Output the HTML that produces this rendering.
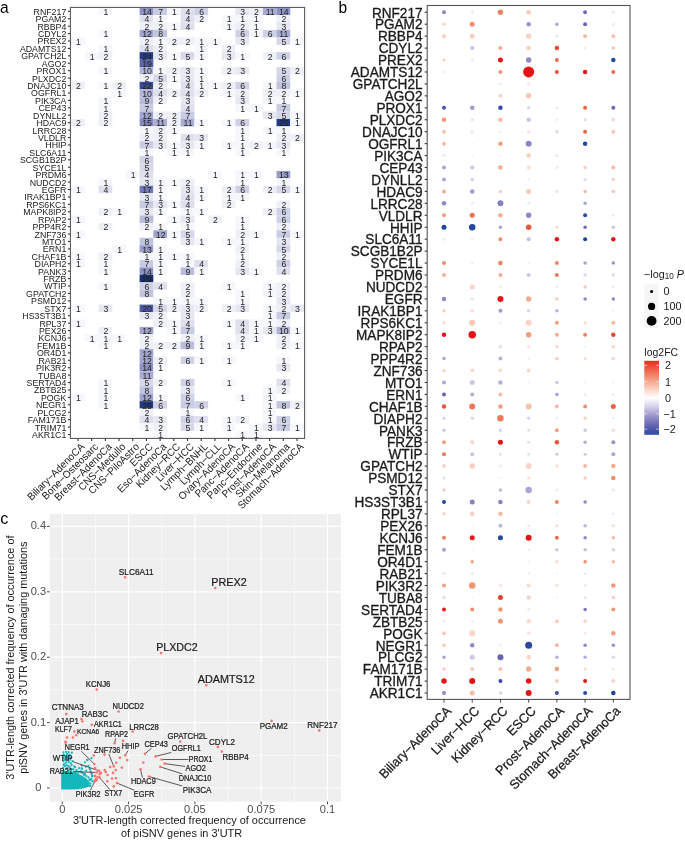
<!DOCTYPE html>
<html><head><meta charset="utf-8"><style>
html,body{margin:0;padding:0;background:#fff;width:685px;height:841px;overflow:hidden}
svg{display:block;will-change:transform}
text{font-family:"Liberation Sans", sans-serif}
</style></head><body>
<svg width="685" height="841" viewBox="0 0 685 841" font-family='"Liberation Sans", sans-serif'>
<rect width="685" height="841" fill="#ffffff"/>
<g>
<rect x="98.53" y="7.59" width="13.74" height="7.47" fill="#f5f7fb"/>
<rect x="139.60" y="7.59" width="13.74" height="7.47" fill="#8e92c3"/>
<rect x="153.29" y="7.59" width="13.74" height="7.47" fill="#c8cbe2"/>
<rect x="166.98" y="7.59" width="13.74" height="7.47" fill="#f5f7fb"/>
<rect x="180.67" y="7.59" width="13.74" height="7.47" fill="#dee0ed"/>
<rect x="194.36" y="7.59" width="13.74" height="7.47" fill="#cfd1e6"/>
<rect x="235.44" y="7.59" width="13.74" height="7.47" fill="#e5e7f1"/>
<rect x="249.12" y="7.59" width="13.74" height="7.47" fill="#eef0f7"/>
<rect x="262.81" y="7.59" width="13.74" height="7.47" fill="#a9acd2"/>
<rect x="276.50" y="7.59" width="13.74" height="7.47" fill="#8e92c3"/>
<rect x="139.60" y="15.01" width="13.74" height="7.47" fill="#dee0ed"/>
<rect x="153.29" y="15.01" width="13.74" height="7.47" fill="#f5f7fb"/>
<rect x="180.67" y="15.01" width="13.74" height="7.47" fill="#dee0ed"/>
<rect x="194.36" y="15.01" width="13.74" height="7.47" fill="#eef0f7"/>
<rect x="221.75" y="15.01" width="13.74" height="7.47" fill="#f5f7fb"/>
<rect x="235.44" y="15.01" width="13.74" height="7.47" fill="#f5f7fb"/>
<rect x="249.12" y="15.01" width="13.74" height="7.47" fill="#f5f7fb"/>
<rect x="276.50" y="15.01" width="13.74" height="7.47" fill="#eef0f7"/>
<rect x="139.60" y="22.44" width="13.74" height="7.47" fill="#eef0f7"/>
<rect x="153.29" y="22.44" width="13.74" height="7.47" fill="#eef0f7"/>
<rect x="166.98" y="22.44" width="13.74" height="7.47" fill="#f5f7fb"/>
<rect x="180.67" y="22.44" width="13.74" height="7.47" fill="#dee0ed"/>
<rect x="221.75" y="22.44" width="13.74" height="7.47" fill="#f5f7fb"/>
<rect x="235.44" y="22.44" width="13.74" height="7.47" fill="#eef0f7"/>
<rect x="249.12" y="22.44" width="13.74" height="7.47" fill="#f5f7fb"/>
<rect x="276.50" y="22.44" width="13.74" height="7.47" fill="#e5e7f1"/>
<rect x="98.53" y="29.86" width="13.74" height="7.47" fill="#f5f7fb"/>
<rect x="139.60" y="29.86" width="13.74" height="7.47" fill="#a1a5ce"/>
<rect x="153.29" y="29.86" width="13.74" height="7.47" fill="#c1c4df"/>
<rect x="235.44" y="29.86" width="13.74" height="7.47" fill="#cfd1e6"/>
<rect x="249.12" y="29.86" width="13.74" height="7.47" fill="#f5f7fb"/>
<rect x="262.81" y="29.86" width="13.74" height="7.47" fill="#cfd1e6"/>
<rect x="276.50" y="29.86" width="13.74" height="7.47" fill="#a9acd2"/>
<rect x="71.16" y="37.29" width="13.74" height="7.47" fill="#f5f7fb"/>
<rect x="139.60" y="37.29" width="13.74" height="7.47" fill="#eef0f7"/>
<rect x="153.29" y="37.29" width="13.74" height="7.47" fill="#f5f7fb"/>
<rect x="166.98" y="37.29" width="13.74" height="7.47" fill="#eef0f7"/>
<rect x="180.67" y="37.29" width="13.74" height="7.47" fill="#eef0f7"/>
<rect x="194.36" y="37.29" width="13.74" height="7.47" fill="#f5f7fb"/>
<rect x="208.06" y="37.29" width="13.74" height="7.47" fill="#f5f7fb"/>
<rect x="235.44" y="37.29" width="13.74" height="7.47" fill="#e5e7f1"/>
<rect x="276.50" y="37.29" width="13.74" height="7.47" fill="#d6d8e9"/>
<rect x="290.19" y="37.29" width="13.74" height="7.47" fill="#f5f7fb"/>
<rect x="98.53" y="44.71" width="13.74" height="7.47" fill="#f5f7fb"/>
<rect x="139.60" y="44.71" width="13.74" height="7.47" fill="#dee0ed"/>
<rect x="153.29" y="44.71" width="13.74" height="7.47" fill="#eef0f7"/>
<rect x="194.36" y="44.71" width="13.74" height="7.47" fill="#f5f7fb"/>
<rect x="221.75" y="44.71" width="13.74" height="7.47" fill="#eef0f7"/>
<rect x="84.84" y="52.14" width="13.74" height="7.47" fill="#f5f7fb"/>
<rect x="98.53" y="52.14" width="13.74" height="7.47" fill="#eef0f7"/>
<rect x="139.60" y="52.14" width="13.74" height="7.47" fill="#283c84"/>
<rect x="153.29" y="52.14" width="13.74" height="7.47" fill="#e5e7f1"/>
<rect x="166.98" y="52.14" width="13.74" height="7.47" fill="#f5f7fb"/>
<rect x="180.67" y="52.14" width="13.74" height="7.47" fill="#d6d8e9"/>
<rect x="194.36" y="52.14" width="13.74" height="7.47" fill="#f5f7fb"/>
<rect x="221.75" y="52.14" width="13.74" height="7.47" fill="#e5e7f1"/>
<rect x="235.44" y="52.14" width="13.74" height="7.47" fill="#f5f7fb"/>
<rect x="262.81" y="52.14" width="13.74" height="7.47" fill="#eef0f7"/>
<rect x="276.50" y="52.14" width="13.74" height="7.47" fill="#cfd1e6"/>
<rect x="139.60" y="59.56" width="13.74" height="7.47" fill="#5a64a9"/>
<rect x="98.53" y="66.99" width="13.74" height="7.47" fill="#f5f7fb"/>
<rect x="139.60" y="66.99" width="13.74" height="7.47" fill="#b1b4d6"/>
<rect x="153.29" y="66.99" width="13.74" height="7.47" fill="#f5f7fb"/>
<rect x="166.98" y="66.99" width="13.74" height="7.47" fill="#eef0f7"/>
<rect x="180.67" y="66.99" width="13.74" height="7.47" fill="#e5e7f1"/>
<rect x="194.36" y="66.99" width="13.74" height="7.47" fill="#f5f7fb"/>
<rect x="221.75" y="66.99" width="13.74" height="7.47" fill="#eef0f7"/>
<rect x="235.44" y="66.99" width="13.74" height="7.47" fill="#e5e7f1"/>
<rect x="276.50" y="66.99" width="13.74" height="7.47" fill="#d6d8e9"/>
<rect x="290.19" y="66.99" width="13.74" height="7.47" fill="#eef0f7"/>
<rect x="139.60" y="74.41" width="13.74" height="7.47" fill="#eef0f7"/>
<rect x="153.29" y="74.41" width="13.74" height="7.47" fill="#d6d8e9"/>
<rect x="166.98" y="74.41" width="13.74" height="7.47" fill="#f5f7fb"/>
<rect x="180.67" y="74.41" width="13.74" height="7.47" fill="#e5e7f1"/>
<rect x="194.36" y="74.41" width="13.74" height="7.47" fill="#f5f7fb"/>
<rect x="276.50" y="74.41" width="13.74" height="7.47" fill="#cfd1e6"/>
<rect x="71.16" y="81.84" width="13.74" height="7.47" fill="#eef0f7"/>
<rect x="98.53" y="81.84" width="13.74" height="7.47" fill="#f5f7fb"/>
<rect x="112.22" y="81.84" width="13.74" height="7.47" fill="#eef0f7"/>
<rect x="139.60" y="81.84" width="13.74" height="7.47" fill="#3a4a93"/>
<rect x="153.29" y="81.84" width="13.74" height="7.47" fill="#eef0f7"/>
<rect x="180.67" y="81.84" width="13.74" height="7.47" fill="#dee0ed"/>
<rect x="194.36" y="81.84" width="13.74" height="7.47" fill="#f5f7fb"/>
<rect x="208.06" y="81.84" width="13.74" height="7.47" fill="#f5f7fb"/>
<rect x="221.75" y="81.84" width="13.74" height="7.47" fill="#eef0f7"/>
<rect x="235.44" y="81.84" width="13.74" height="7.47" fill="#cfd1e6"/>
<rect x="262.81" y="81.84" width="13.74" height="7.47" fill="#f5f7fb"/>
<rect x="276.50" y="81.84" width="13.74" height="7.47" fill="#c1c4df"/>
<rect x="112.22" y="89.26" width="13.74" height="7.47" fill="#f5f7fb"/>
<rect x="139.60" y="89.26" width="13.74" height="7.47" fill="#b1b4d6"/>
<rect x="153.29" y="89.26" width="13.74" height="7.47" fill="#dee0ed"/>
<rect x="166.98" y="89.26" width="13.74" height="7.47" fill="#eef0f7"/>
<rect x="180.67" y="89.26" width="13.74" height="7.47" fill="#dee0ed"/>
<rect x="194.36" y="89.26" width="13.74" height="7.47" fill="#eef0f7"/>
<rect x="221.75" y="89.26" width="13.74" height="7.47" fill="#f5f7fb"/>
<rect x="235.44" y="89.26" width="13.74" height="7.47" fill="#eef0f7"/>
<rect x="262.81" y="89.26" width="13.74" height="7.47" fill="#eef0f7"/>
<rect x="276.50" y="89.26" width="13.74" height="7.47" fill="#eef0f7"/>
<rect x="290.19" y="89.26" width="13.74" height="7.47" fill="#f5f7fb"/>
<rect x="98.53" y="96.69" width="13.74" height="7.47" fill="#f5f7fb"/>
<rect x="139.60" y="96.69" width="13.74" height="7.47" fill="#b9bcda"/>
<rect x="153.29" y="96.69" width="13.74" height="7.47" fill="#eef0f7"/>
<rect x="180.67" y="96.69" width="13.74" height="7.47" fill="#e5e7f1"/>
<rect x="235.44" y="96.69" width="13.74" height="7.47" fill="#e5e7f1"/>
<rect x="262.81" y="96.69" width="13.74" height="7.47" fill="#f5f7fb"/>
<rect x="276.50" y="96.69" width="13.74" height="7.47" fill="#f5f7fb"/>
<rect x="98.53" y="104.11" width="13.74" height="7.47" fill="#f5f7fb"/>
<rect x="139.60" y="104.11" width="13.74" height="7.47" fill="#c8cbe2"/>
<rect x="180.67" y="104.11" width="13.74" height="7.47" fill="#dee0ed"/>
<rect x="235.44" y="104.11" width="13.74" height="7.47" fill="#f5f7fb"/>
<rect x="249.12" y="104.11" width="13.74" height="7.47" fill="#f5f7fb"/>
<rect x="276.50" y="104.11" width="13.74" height="7.47" fill="#c8cbe2"/>
<rect x="98.53" y="111.54" width="13.74" height="7.47" fill="#eef0f7"/>
<rect x="139.60" y="111.54" width="13.74" height="7.47" fill="#a1a5ce"/>
<rect x="153.29" y="111.54" width="13.74" height="7.47" fill="#eef0f7"/>
<rect x="166.98" y="111.54" width="13.74" height="7.47" fill="#eef0f7"/>
<rect x="180.67" y="111.54" width="13.74" height="7.47" fill="#c8cbe2"/>
<rect x="262.81" y="111.54" width="13.74" height="7.47" fill="#e5e7f1"/>
<rect x="276.50" y="111.54" width="13.74" height="7.47" fill="#d6d8e9"/>
<rect x="290.19" y="111.54" width="13.74" height="7.47" fill="#f5f7fb"/>
<rect x="71.16" y="118.96" width="13.74" height="7.47" fill="#eef0f7"/>
<rect x="98.53" y="118.96" width="13.74" height="7.47" fill="#eef0f7"/>
<rect x="139.60" y="118.96" width="13.74" height="7.47" fill="#8489be"/>
<rect x="153.29" y="118.96" width="13.74" height="7.47" fill="#a9acd2"/>
<rect x="166.98" y="118.96" width="13.74" height="7.47" fill="#eef0f7"/>
<rect x="180.67" y="118.96" width="13.74" height="7.47" fill="#a9acd2"/>
<rect x="194.36" y="118.96" width="13.74" height="7.47" fill="#f5f7fb"/>
<rect x="221.75" y="118.96" width="13.74" height="7.47" fill="#f5f7fb"/>
<rect x="235.44" y="118.96" width="13.74" height="7.47" fill="#cfd1e6"/>
<rect x="276.50" y="118.96" width="13.74" height="7.47" fill="#243a80"/>
<rect x="290.19" y="118.96" width="13.74" height="7.47" fill="#f5f7fb"/>
<rect x="139.60" y="126.39" width="13.74" height="7.47" fill="#f5f7fb"/>
<rect x="153.29" y="126.39" width="13.74" height="7.47" fill="#eef0f7"/>
<rect x="166.98" y="126.39" width="13.74" height="7.47" fill="#f5f7fb"/>
<rect x="235.44" y="126.39" width="13.74" height="7.47" fill="#f5f7fb"/>
<rect x="262.81" y="126.39" width="13.74" height="7.47" fill="#f5f7fb"/>
<rect x="276.50" y="126.39" width="13.74" height="7.47" fill="#f5f7fb"/>
<rect x="139.60" y="133.81" width="13.74" height="7.47" fill="#eef0f7"/>
<rect x="153.29" y="133.81" width="13.74" height="7.47" fill="#eef0f7"/>
<rect x="180.67" y="133.81" width="13.74" height="7.47" fill="#dee0ed"/>
<rect x="194.36" y="133.81" width="13.74" height="7.47" fill="#e5e7f1"/>
<rect x="235.44" y="133.81" width="13.74" height="7.47" fill="#f5f7fb"/>
<rect x="276.50" y="133.81" width="13.74" height="7.47" fill="#eef0f7"/>
<rect x="290.19" y="133.81" width="13.74" height="7.47" fill="#eef0f7"/>
<rect x="139.60" y="141.24" width="13.74" height="7.47" fill="#c8cbe2"/>
<rect x="153.29" y="141.24" width="13.74" height="7.47" fill="#e5e7f1"/>
<rect x="166.98" y="141.24" width="13.74" height="7.47" fill="#f5f7fb"/>
<rect x="180.67" y="141.24" width="13.74" height="7.47" fill="#e5e7f1"/>
<rect x="194.36" y="141.24" width="13.74" height="7.47" fill="#f5f7fb"/>
<rect x="221.75" y="141.24" width="13.74" height="7.47" fill="#f5f7fb"/>
<rect x="235.44" y="141.24" width="13.74" height="7.47" fill="#f5f7fb"/>
<rect x="249.12" y="141.24" width="13.74" height="7.47" fill="#eef0f7"/>
<rect x="262.81" y="141.24" width="13.74" height="7.47" fill="#f5f7fb"/>
<rect x="276.50" y="141.24" width="13.74" height="7.47" fill="#e5e7f1"/>
<rect x="139.60" y="148.66" width="13.74" height="7.47" fill="#f5f7fb"/>
<rect x="166.98" y="148.66" width="13.74" height="7.47" fill="#f5f7fb"/>
<rect x="180.67" y="148.66" width="13.74" height="7.47" fill="#f5f7fb"/>
<rect x="235.44" y="148.66" width="13.74" height="7.47" fill="#f5f7fb"/>
<rect x="276.50" y="148.66" width="13.74" height="7.47" fill="#f5f7fb"/>
<rect x="139.60" y="156.09" width="13.74" height="7.47" fill="#cfd1e6"/>
<rect x="139.60" y="163.51" width="13.74" height="7.47" fill="#d6d8e9"/>
<rect x="125.91" y="170.94" width="13.74" height="7.47" fill="#f5f7fb"/>
<rect x="139.60" y="170.94" width="13.74" height="7.47" fill="#dee0ed"/>
<rect x="208.06" y="170.94" width="13.74" height="7.47" fill="#f5f7fb"/>
<rect x="235.44" y="170.94" width="13.74" height="7.47" fill="#f5f7fb"/>
<rect x="249.12" y="170.94" width="13.74" height="7.47" fill="#f5f7fb"/>
<rect x="276.50" y="170.94" width="13.74" height="7.47" fill="#989cc8"/>
<rect x="98.53" y="178.36" width="13.74" height="7.47" fill="#f5f7fb"/>
<rect x="139.60" y="178.36" width="13.74" height="7.47" fill="#e5e7f1"/>
<rect x="153.29" y="178.36" width="13.74" height="7.47" fill="#f5f7fb"/>
<rect x="166.98" y="178.36" width="13.74" height="7.47" fill="#f5f7fb"/>
<rect x="180.67" y="178.36" width="13.74" height="7.47" fill="#eef0f7"/>
<rect x="235.44" y="178.36" width="13.74" height="7.47" fill="#f5f7fb"/>
<rect x="276.50" y="178.36" width="13.74" height="7.47" fill="#f5f7fb"/>
<rect x="71.16" y="185.79" width="13.74" height="7.47" fill="#f5f7fb"/>
<rect x="98.53" y="185.79" width="13.74" height="7.47" fill="#dee0ed"/>
<rect x="139.60" y="185.79" width="13.74" height="7.47" fill="#6f78b5"/>
<rect x="153.29" y="185.79" width="13.74" height="7.47" fill="#f5f7fb"/>
<rect x="180.67" y="185.79" width="13.74" height="7.47" fill="#e5e7f1"/>
<rect x="194.36" y="185.79" width="13.74" height="7.47" fill="#f5f7fb"/>
<rect x="221.75" y="185.79" width="13.74" height="7.47" fill="#eef0f7"/>
<rect x="235.44" y="185.79" width="13.74" height="7.47" fill="#cfd1e6"/>
<rect x="262.81" y="185.79" width="13.74" height="7.47" fill="#eef0f7"/>
<rect x="276.50" y="185.79" width="13.74" height="7.47" fill="#d6d8e9"/>
<rect x="290.19" y="185.79" width="13.74" height="7.47" fill="#f5f7fb"/>
<rect x="139.60" y="193.21" width="13.74" height="7.47" fill="#e5e7f1"/>
<rect x="153.29" y="193.21" width="13.74" height="7.47" fill="#f5f7fb"/>
<rect x="180.67" y="193.21" width="13.74" height="7.47" fill="#dee0ed"/>
<rect x="194.36" y="193.21" width="13.74" height="7.47" fill="#f5f7fb"/>
<rect x="221.75" y="193.21" width="13.74" height="7.47" fill="#f5f7fb"/>
<rect x="235.44" y="193.21" width="13.74" height="7.47" fill="#f5f7fb"/>
<rect x="139.60" y="200.64" width="13.74" height="7.47" fill="#c8cbe2"/>
<rect x="153.29" y="200.64" width="13.74" height="7.47" fill="#e5e7f1"/>
<rect x="166.98" y="200.64" width="13.74" height="7.47" fill="#f5f7fb"/>
<rect x="180.67" y="200.64" width="13.74" height="7.47" fill="#dee0ed"/>
<rect x="221.75" y="200.64" width="13.74" height="7.47" fill="#eef0f7"/>
<rect x="276.50" y="200.64" width="13.74" height="7.47" fill="#eef0f7"/>
<rect x="98.53" y="208.06" width="13.74" height="7.47" fill="#eef0f7"/>
<rect x="112.22" y="208.06" width="13.74" height="7.47" fill="#f5f7fb"/>
<rect x="139.60" y="208.06" width="13.74" height="7.47" fill="#e5e7f1"/>
<rect x="153.29" y="208.06" width="13.74" height="7.47" fill="#f5f7fb"/>
<rect x="180.67" y="208.06" width="13.74" height="7.47" fill="#f5f7fb"/>
<rect x="194.36" y="208.06" width="13.74" height="7.47" fill="#f5f7fb"/>
<rect x="262.81" y="208.06" width="13.74" height="7.47" fill="#eef0f7"/>
<rect x="276.50" y="208.06" width="13.74" height="7.47" fill="#cfd1e6"/>
<rect x="71.16" y="215.49" width="13.74" height="7.47" fill="#f5f7fb"/>
<rect x="139.60" y="215.49" width="13.74" height="7.47" fill="#b9bcda"/>
<rect x="166.98" y="215.49" width="13.74" height="7.47" fill="#f5f7fb"/>
<rect x="180.67" y="215.49" width="13.74" height="7.47" fill="#e5e7f1"/>
<rect x="208.06" y="215.49" width="13.74" height="7.47" fill="#eef0f7"/>
<rect x="235.44" y="215.49" width="13.74" height="7.47" fill="#f5f7fb"/>
<rect x="276.50" y="215.49" width="13.74" height="7.47" fill="#cfd1e6"/>
<rect x="98.53" y="222.91" width="13.74" height="7.47" fill="#eef0f7"/>
<rect x="139.60" y="222.91" width="13.74" height="7.47" fill="#eef0f7"/>
<rect x="153.29" y="222.91" width="13.74" height="7.47" fill="#f5f7fb"/>
<rect x="180.67" y="222.91" width="13.74" height="7.47" fill="#f5f7fb"/>
<rect x="235.44" y="222.91" width="13.74" height="7.47" fill="#f5f7fb"/>
<rect x="276.50" y="222.91" width="13.74" height="7.47" fill="#eef0f7"/>
<rect x="71.16" y="230.34" width="13.74" height="7.47" fill="#f5f7fb"/>
<rect x="153.29" y="230.34" width="13.74" height="7.47" fill="#a1a5ce"/>
<rect x="166.98" y="230.34" width="13.74" height="7.47" fill="#f5f7fb"/>
<rect x="180.67" y="230.34" width="13.74" height="7.47" fill="#d6d8e9"/>
<rect x="235.44" y="230.34" width="13.74" height="7.47" fill="#eef0f7"/>
<rect x="249.12" y="230.34" width="13.74" height="7.47" fill="#f5f7fb"/>
<rect x="276.50" y="230.34" width="13.74" height="7.47" fill="#c8cbe2"/>
<rect x="290.19" y="230.34" width="13.74" height="7.47" fill="#f5f7fb"/>
<rect x="139.60" y="237.76" width="13.74" height="7.47" fill="#c1c4df"/>
<rect x="180.67" y="237.76" width="13.74" height="7.47" fill="#e5e7f1"/>
<rect x="194.36" y="237.76" width="13.74" height="7.47" fill="#f5f7fb"/>
<rect x="221.75" y="237.76" width="13.74" height="7.47" fill="#f5f7fb"/>
<rect x="235.44" y="237.76" width="13.74" height="7.47" fill="#f5f7fb"/>
<rect x="276.50" y="237.76" width="13.74" height="7.47" fill="#e5e7f1"/>
<rect x="112.22" y="245.19" width="13.74" height="7.47" fill="#f5f7fb"/>
<rect x="139.60" y="245.19" width="13.74" height="7.47" fill="#989cc8"/>
<rect x="153.29" y="245.19" width="13.74" height="7.47" fill="#f5f7fb"/>
<rect x="235.44" y="245.19" width="13.74" height="7.47" fill="#eef0f7"/>
<rect x="276.50" y="245.19" width="13.74" height="7.47" fill="#d6d8e9"/>
<rect x="71.16" y="252.61" width="13.74" height="7.47" fill="#f5f7fb"/>
<rect x="98.53" y="252.61" width="13.74" height="7.47" fill="#eef0f7"/>
<rect x="139.60" y="252.61" width="13.74" height="7.47" fill="#f5f7fb"/>
<rect x="153.29" y="252.61" width="13.74" height="7.47" fill="#f5f7fb"/>
<rect x="166.98" y="252.61" width="13.74" height="7.47" fill="#f5f7fb"/>
<rect x="180.67" y="252.61" width="13.74" height="7.47" fill="#f5f7fb"/>
<rect x="235.44" y="252.61" width="13.74" height="7.47" fill="#f5f7fb"/>
<rect x="276.50" y="252.61" width="13.74" height="7.47" fill="#eef0f7"/>
<rect x="71.16" y="260.04" width="13.74" height="7.47" fill="#f5f7fb"/>
<rect x="98.53" y="260.04" width="13.74" height="7.47" fill="#f5f7fb"/>
<rect x="139.60" y="260.04" width="13.74" height="7.47" fill="#c8cbe2"/>
<rect x="153.29" y="260.04" width="13.74" height="7.47" fill="#f5f7fb"/>
<rect x="180.67" y="260.04" width="13.74" height="7.47" fill="#f5f7fb"/>
<rect x="194.36" y="260.04" width="13.74" height="7.47" fill="#dee0ed"/>
<rect x="235.44" y="260.04" width="13.74" height="7.47" fill="#eef0f7"/>
<rect x="276.50" y="260.04" width="13.74" height="7.47" fill="#cfd1e6"/>
<rect x="98.53" y="267.46" width="13.74" height="7.47" fill="#f5f7fb"/>
<rect x="139.60" y="267.46" width="13.74" height="7.47" fill="#8e92c3"/>
<rect x="153.29" y="267.46" width="13.74" height="7.47" fill="#f5f7fb"/>
<rect x="180.67" y="267.46" width="13.74" height="7.47" fill="#b9bcda"/>
<rect x="194.36" y="267.46" width="13.74" height="7.47" fill="#f5f7fb"/>
<rect x="235.44" y="267.46" width="13.74" height="7.47" fill="#e5e7f1"/>
<rect x="249.12" y="267.46" width="13.74" height="7.47" fill="#f5f7fb"/>
<rect x="276.50" y="267.46" width="13.74" height="7.47" fill="#dee0ed"/>
<rect x="139.60" y="274.89" width="13.74" height="7.47" fill="#15306a"/>
<rect x="98.53" y="282.31" width="13.74" height="7.47" fill="#f5f7fb"/>
<rect x="139.60" y="282.31" width="13.74" height="7.47" fill="#cfd1e6"/>
<rect x="153.29" y="282.31" width="13.74" height="7.47" fill="#dee0ed"/>
<rect x="180.67" y="282.31" width="13.74" height="7.47" fill="#eef0f7"/>
<rect x="221.75" y="282.31" width="13.74" height="7.47" fill="#f5f7fb"/>
<rect x="262.81" y="282.31" width="13.74" height="7.47" fill="#f5f7fb"/>
<rect x="276.50" y="282.31" width="13.74" height="7.47" fill="#eef0f7"/>
<rect x="139.60" y="289.74" width="13.74" height="7.47" fill="#c1c4df"/>
<rect x="180.67" y="289.74" width="13.74" height="7.47" fill="#eef0f7"/>
<rect x="235.44" y="289.74" width="13.74" height="7.47" fill="#f5f7fb"/>
<rect x="262.81" y="289.74" width="13.74" height="7.47" fill="#f5f7fb"/>
<rect x="276.50" y="289.74" width="13.74" height="7.47" fill="#eef0f7"/>
<rect x="153.29" y="297.16" width="13.74" height="7.47" fill="#f5f7fb"/>
<rect x="166.98" y="297.16" width="13.74" height="7.47" fill="#f5f7fb"/>
<rect x="180.67" y="297.16" width="13.74" height="7.47" fill="#f5f7fb"/>
<rect x="194.36" y="297.16" width="13.74" height="7.47" fill="#f5f7fb"/>
<rect x="235.44" y="297.16" width="13.74" height="7.47" fill="#f5f7fb"/>
<rect x="276.50" y="297.16" width="13.74" height="7.47" fill="#e5e7f1"/>
<rect x="71.16" y="304.59" width="13.74" height="7.47" fill="#f5f7fb"/>
<rect x="98.53" y="304.59" width="13.74" height="7.47" fill="#e5e7f1"/>
<rect x="139.60" y="304.59" width="13.74" height="7.47" fill="#4f5ba2"/>
<rect x="153.29" y="304.59" width="13.74" height="7.47" fill="#d6d8e9"/>
<rect x="166.98" y="304.59" width="13.74" height="7.47" fill="#eef0f7"/>
<rect x="180.67" y="304.59" width="13.74" height="7.47" fill="#e5e7f1"/>
<rect x="194.36" y="304.59" width="13.74" height="7.47" fill="#eef0f7"/>
<rect x="221.75" y="304.59" width="13.74" height="7.47" fill="#eef0f7"/>
<rect x="235.44" y="304.59" width="13.74" height="7.47" fill="#e5e7f1"/>
<rect x="262.81" y="304.59" width="13.74" height="7.47" fill="#f5f7fb"/>
<rect x="276.50" y="304.59" width="13.74" height="7.47" fill="#eef0f7"/>
<rect x="290.19" y="304.59" width="13.74" height="7.47" fill="#e5e7f1"/>
<rect x="139.60" y="312.01" width="13.74" height="7.47" fill="#e5e7f1"/>
<rect x="153.29" y="312.01" width="13.74" height="7.47" fill="#eef0f7"/>
<rect x="180.67" y="312.01" width="13.74" height="7.47" fill="#e5e7f1"/>
<rect x="262.81" y="312.01" width="13.74" height="7.47" fill="#f5f7fb"/>
<rect x="276.50" y="312.01" width="13.74" height="7.47" fill="#c8cbe2"/>
<rect x="71.16" y="319.44" width="13.74" height="7.47" fill="#f5f7fb"/>
<rect x="153.29" y="319.44" width="13.74" height="7.47" fill="#eef0f7"/>
<rect x="166.98" y="319.44" width="13.74" height="7.47" fill="#f5f7fb"/>
<rect x="180.67" y="319.44" width="13.74" height="7.47" fill="#dee0ed"/>
<rect x="221.75" y="319.44" width="13.74" height="7.47" fill="#f5f7fb"/>
<rect x="235.44" y="319.44" width="13.74" height="7.47" fill="#dee0ed"/>
<rect x="249.12" y="319.44" width="13.74" height="7.47" fill="#f5f7fb"/>
<rect x="262.81" y="319.44" width="13.74" height="7.47" fill="#f5f7fb"/>
<rect x="276.50" y="319.44" width="13.74" height="7.47" fill="#eef0f7"/>
<rect x="98.53" y="326.86" width="13.74" height="7.47" fill="#eef0f7"/>
<rect x="139.60" y="326.86" width="13.74" height="7.47" fill="#a1a5ce"/>
<rect x="166.98" y="326.86" width="13.74" height="7.47" fill="#f5f7fb"/>
<rect x="180.67" y="326.86" width="13.74" height="7.47" fill="#c8cbe2"/>
<rect x="235.44" y="326.86" width="13.74" height="7.47" fill="#dee0ed"/>
<rect x="249.12" y="326.86" width="13.74" height="7.47" fill="#f5f7fb"/>
<rect x="262.81" y="326.86" width="13.74" height="7.47" fill="#e5e7f1"/>
<rect x="276.50" y="326.86" width="13.74" height="7.47" fill="#b1b4d6"/>
<rect x="290.19" y="326.86" width="13.74" height="7.47" fill="#f5f7fb"/>
<rect x="84.84" y="334.29" width="13.74" height="7.47" fill="#f5f7fb"/>
<rect x="98.53" y="334.29" width="13.74" height="7.47" fill="#f5f7fb"/>
<rect x="112.22" y="334.29" width="13.74" height="7.47" fill="#f5f7fb"/>
<rect x="139.60" y="334.29" width="13.74" height="7.47" fill="#eef0f7"/>
<rect x="180.67" y="334.29" width="13.74" height="7.47" fill="#eef0f7"/>
<rect x="194.36" y="334.29" width="13.74" height="7.47" fill="#f5f7fb"/>
<rect x="235.44" y="334.29" width="13.74" height="7.47" fill="#eef0f7"/>
<rect x="249.12" y="334.29" width="13.74" height="7.47" fill="#f5f7fb"/>
<rect x="276.50" y="334.29" width="13.74" height="7.47" fill="#eef0f7"/>
<rect x="98.53" y="341.71" width="13.74" height="7.47" fill="#f5f7fb"/>
<rect x="139.60" y="341.71" width="13.74" height="7.47" fill="#eef0f7"/>
<rect x="153.29" y="341.71" width="13.74" height="7.47" fill="#eef0f7"/>
<rect x="166.98" y="341.71" width="13.74" height="7.47" fill="#eef0f7"/>
<rect x="180.67" y="341.71" width="13.74" height="7.47" fill="#b9bcda"/>
<rect x="194.36" y="341.71" width="13.74" height="7.47" fill="#f5f7fb"/>
<rect x="221.75" y="341.71" width="13.74" height="7.47" fill="#f5f7fb"/>
<rect x="235.44" y="341.71" width="13.74" height="7.47" fill="#f5f7fb"/>
<rect x="276.50" y="341.71" width="13.74" height="7.47" fill="#eef0f7"/>
<rect x="290.19" y="341.71" width="13.74" height="7.47" fill="#f5f7fb"/>
<rect x="139.60" y="349.14" width="13.74" height="7.47" fill="#a1a5ce"/>
<rect x="139.60" y="356.56" width="13.74" height="7.47" fill="#a1a5ce"/>
<rect x="153.29" y="356.56" width="13.74" height="7.47" fill="#eef0f7"/>
<rect x="180.67" y="356.56" width="13.74" height="7.47" fill="#cfd1e6"/>
<rect x="194.36" y="356.56" width="13.74" height="7.47" fill="#f5f7fb"/>
<rect x="221.75" y="356.56" width="13.74" height="7.47" fill="#f5f7fb"/>
<rect x="276.50" y="356.56" width="13.74" height="7.47" fill="#f5f7fb"/>
<rect x="139.60" y="363.99" width="13.74" height="7.47" fill="#8e92c3"/>
<rect x="153.29" y="363.99" width="13.74" height="7.47" fill="#f5f7fb"/>
<rect x="276.50" y="363.99" width="13.74" height="7.47" fill="#e5e7f1"/>
<rect x="139.60" y="371.41" width="13.74" height="7.47" fill="#a9acd2"/>
<rect x="98.53" y="378.84" width="13.74" height="7.47" fill="#f5f7fb"/>
<rect x="139.60" y="378.84" width="13.74" height="7.47" fill="#d6d8e9"/>
<rect x="153.29" y="378.84" width="13.74" height="7.47" fill="#eef0f7"/>
<rect x="180.67" y="378.84" width="13.74" height="7.47" fill="#cfd1e6"/>
<rect x="221.75" y="378.84" width="13.74" height="7.47" fill="#f5f7fb"/>
<rect x="276.50" y="378.84" width="13.74" height="7.47" fill="#dee0ed"/>
<rect x="98.53" y="386.26" width="13.74" height="7.47" fill="#f5f7fb"/>
<rect x="139.60" y="386.26" width="13.74" height="7.47" fill="#c1c4df"/>
<rect x="180.67" y="386.26" width="13.74" height="7.47" fill="#e5e7f1"/>
<rect x="262.81" y="386.26" width="13.74" height="7.47" fill="#f5f7fb"/>
<rect x="276.50" y="386.26" width="13.74" height="7.47" fill="#eef0f7"/>
<rect x="71.16" y="393.69" width="13.74" height="7.47" fill="#f5f7fb"/>
<rect x="98.53" y="393.69" width="13.74" height="7.47" fill="#f5f7fb"/>
<rect x="139.60" y="393.69" width="13.74" height="7.47" fill="#a1a5ce"/>
<rect x="153.29" y="393.69" width="13.74" height="7.47" fill="#f5f7fb"/>
<rect x="180.67" y="393.69" width="13.74" height="7.47" fill="#cfd1e6"/>
<rect x="235.44" y="393.69" width="13.74" height="7.47" fill="#f5f7fb"/>
<rect x="262.81" y="393.69" width="13.74" height="7.47" fill="#f5f7fb"/>
<rect x="98.53" y="401.11" width="13.74" height="7.47" fill="#f5f7fb"/>
<rect x="139.60" y="401.11" width="13.74" height="7.47" fill="#243a80"/>
<rect x="153.29" y="401.11" width="13.74" height="7.47" fill="#cfd1e6"/>
<rect x="180.67" y="401.11" width="13.74" height="7.47" fill="#c8cbe2"/>
<rect x="194.36" y="401.11" width="13.74" height="7.47" fill="#cfd1e6"/>
<rect x="262.81" y="401.11" width="13.74" height="7.47" fill="#f5f7fb"/>
<rect x="276.50" y="401.11" width="13.74" height="7.47" fill="#c1c4df"/>
<rect x="290.19" y="401.11" width="13.74" height="7.47" fill="#eef0f7"/>
<rect x="139.60" y="408.54" width="13.74" height="7.47" fill="#eef0f7"/>
<rect x="180.67" y="408.54" width="13.74" height="7.47" fill="#f5f7fb"/>
<rect x="262.81" y="408.54" width="13.74" height="7.47" fill="#f5f7fb"/>
<rect x="139.60" y="415.96" width="13.74" height="7.47" fill="#dee0ed"/>
<rect x="153.29" y="415.96" width="13.74" height="7.47" fill="#e5e7f1"/>
<rect x="180.67" y="415.96" width="13.74" height="7.47" fill="#cfd1e6"/>
<rect x="194.36" y="415.96" width="13.74" height="7.47" fill="#dee0ed"/>
<rect x="221.75" y="415.96" width="13.74" height="7.47" fill="#f5f7fb"/>
<rect x="235.44" y="415.96" width="13.74" height="7.47" fill="#eef0f7"/>
<rect x="262.81" y="415.96" width="13.74" height="7.47" fill="#f5f7fb"/>
<rect x="276.50" y="415.96" width="13.74" height="7.47" fill="#cfd1e6"/>
<rect x="139.60" y="423.39" width="13.74" height="7.47" fill="#f5f7fb"/>
<rect x="153.29" y="423.39" width="13.74" height="7.47" fill="#eef0f7"/>
<rect x="180.67" y="423.39" width="13.74" height="7.47" fill="#d6d8e9"/>
<rect x="194.36" y="423.39" width="13.74" height="7.47" fill="#f5f7fb"/>
<rect x="221.75" y="423.39" width="13.74" height="7.47" fill="#f5f7fb"/>
<rect x="249.12" y="423.39" width="13.74" height="7.47" fill="#f5f7fb"/>
<rect x="262.81" y="423.39" width="13.74" height="7.47" fill="#e5e7f1"/>
<rect x="276.50" y="423.39" width="13.74" height="7.47" fill="#c8cbe2"/>
<rect x="290.19" y="423.39" width="13.74" height="7.47" fill="#f5f7fb"/>
<rect x="153.29" y="430.81" width="13.74" height="7.47" fill="#f5f7fb"/>
<rect x="235.44" y="430.81" width="13.74" height="7.47" fill="#f5f7fb"/>
<rect x="249.12" y="430.81" width="13.74" height="7.47" fill="#f5f7fb"/>
</g>
<text transform="translate(105.88 15.01) scale(1.0 1.04)" font-size="8.7" text-anchor="middle" fill="#1f1f1f">1</text>
<text transform="translate(146.95 15.01) scale(1.0 1.04)" font-size="8.7" text-anchor="middle" fill="#1f1f1f">14</text>
<text transform="translate(160.64 15.01) scale(1.0 1.04)" font-size="8.7" text-anchor="middle" fill="#1f1f1f">7</text>
<text transform="translate(174.33 15.01) scale(1.0 1.04)" font-size="8.7" text-anchor="middle" fill="#1f1f1f">1</text>
<text transform="translate(188.02 15.01) scale(1.0 1.04)" font-size="8.7" text-anchor="middle" fill="#1f1f1f">4</text>
<text transform="translate(201.71 15.01) scale(1.0 1.04)" font-size="8.7" text-anchor="middle" fill="#1f1f1f">6</text>
<text transform="translate(242.78 15.01) scale(1.0 1.04)" font-size="8.7" text-anchor="middle" fill="#1f1f1f">3</text>
<text transform="translate(256.47 15.01) scale(1.0 1.04)" font-size="8.7" text-anchor="middle" fill="#1f1f1f">2</text>
<text transform="translate(270.16 15.01) scale(1.0 1.04)" font-size="8.7" text-anchor="middle" fill="#1f1f1f">11</text>
<text transform="translate(283.85 15.01) scale(1.0 1.04)" font-size="8.7" text-anchor="middle" fill="#1f1f1f">14</text>
<text transform="translate(66.30 14.75) scale(1.0 1.04)" font-size="8.8" text-anchor="end" fill="#1a1a1a">RNF217</text>
<line x1="67.9" y1="11.30" x2="70.4" y2="11.30" stroke="#333" stroke-width="1.1"/>
<text transform="translate(146.95 22.44) scale(1.0 1.04)" font-size="8.7" text-anchor="middle" fill="#1f1f1f">4</text>
<text transform="translate(160.64 22.44) scale(1.0 1.04)" font-size="8.7" text-anchor="middle" fill="#1f1f1f">1</text>
<text transform="translate(188.02 22.44) scale(1.0 1.04)" font-size="8.7" text-anchor="middle" fill="#1f1f1f">4</text>
<text transform="translate(201.71 22.44) scale(1.0 1.04)" font-size="8.7" text-anchor="middle" fill="#1f1f1f">2</text>
<text transform="translate(229.09 22.44) scale(1.0 1.04)" font-size="8.7" text-anchor="middle" fill="#1f1f1f">1</text>
<text transform="translate(242.78 22.44) scale(1.0 1.04)" font-size="8.7" text-anchor="middle" fill="#1f1f1f">1</text>
<text transform="translate(256.47 22.44) scale(1.0 1.04)" font-size="8.7" text-anchor="middle" fill="#1f1f1f">1</text>
<text transform="translate(283.85 22.44) scale(1.0 1.04)" font-size="8.7" text-anchor="middle" fill="#1f1f1f">2</text>
<text transform="translate(66.30 22.18) scale(1.0 1.04)" font-size="8.8" text-anchor="end" fill="#1a1a1a">PGAM2</text>
<line x1="67.9" y1="18.73" x2="70.4" y2="18.73" stroke="#333" stroke-width="1.1"/>
<text transform="translate(146.95 29.86) scale(1.0 1.04)" font-size="8.7" text-anchor="middle" fill="#1f1f1f">2</text>
<text transform="translate(160.64 29.86) scale(1.0 1.04)" font-size="8.7" text-anchor="middle" fill="#1f1f1f">2</text>
<text transform="translate(174.33 29.86) scale(1.0 1.04)" font-size="8.7" text-anchor="middle" fill="#1f1f1f">1</text>
<text transform="translate(188.02 29.86) scale(1.0 1.04)" font-size="8.7" text-anchor="middle" fill="#1f1f1f">4</text>
<text transform="translate(229.09 29.86) scale(1.0 1.04)" font-size="8.7" text-anchor="middle" fill="#1f1f1f">1</text>
<text transform="translate(242.78 29.86) scale(1.0 1.04)" font-size="8.7" text-anchor="middle" fill="#1f1f1f">2</text>
<text transform="translate(256.47 29.86) scale(1.0 1.04)" font-size="8.7" text-anchor="middle" fill="#1f1f1f">1</text>
<text transform="translate(283.85 29.86) scale(1.0 1.04)" font-size="8.7" text-anchor="middle" fill="#1f1f1f">3</text>
<text transform="translate(66.30 29.60) scale(1.0 1.04)" font-size="8.8" text-anchor="end" fill="#1a1a1a">RBBP4</text>
<line x1="67.9" y1="26.15" x2="70.4" y2="26.15" stroke="#333" stroke-width="1.1"/>
<text transform="translate(105.88 37.29) scale(1.0 1.04)" font-size="8.7" text-anchor="middle" fill="#1f1f1f">1</text>
<text transform="translate(146.95 37.29) scale(1.0 1.04)" font-size="8.7" text-anchor="middle" fill="#1f1f1f">12</text>
<text transform="translate(160.64 37.29) scale(1.0 1.04)" font-size="8.7" text-anchor="middle" fill="#1f1f1f">8</text>
<text transform="translate(242.78 37.29) scale(1.0 1.04)" font-size="8.7" text-anchor="middle" fill="#1f1f1f">6</text>
<text transform="translate(256.47 37.29) scale(1.0 1.04)" font-size="8.7" text-anchor="middle" fill="#1f1f1f">1</text>
<text transform="translate(270.16 37.29) scale(1.0 1.04)" font-size="8.7" text-anchor="middle" fill="#1f1f1f">6</text>
<text transform="translate(283.85 37.29) scale(1.0 1.04)" font-size="8.7" text-anchor="middle" fill="#1f1f1f">11</text>
<text transform="translate(66.30 37.03) scale(1.0 1.04)" font-size="8.8" text-anchor="end" fill="#1a1a1a">CDYL2</text>
<line x1="67.9" y1="33.58" x2="70.4" y2="33.58" stroke="#333" stroke-width="1.1"/>
<text transform="translate(78.50 44.71) scale(1.0 1.04)" font-size="8.7" text-anchor="middle" fill="#1f1f1f">1</text>
<text transform="translate(146.95 44.71) scale(1.0 1.04)" font-size="8.7" text-anchor="middle" fill="#1f1f1f">2</text>
<text transform="translate(160.64 44.71) scale(1.0 1.04)" font-size="8.7" text-anchor="middle" fill="#1f1f1f">1</text>
<text transform="translate(174.33 44.71) scale(1.0 1.04)" font-size="8.7" text-anchor="middle" fill="#1f1f1f">2</text>
<text transform="translate(188.02 44.71) scale(1.0 1.04)" font-size="8.7" text-anchor="middle" fill="#1f1f1f">2</text>
<text transform="translate(201.71 44.71) scale(1.0 1.04)" font-size="8.7" text-anchor="middle" fill="#1f1f1f">1</text>
<text transform="translate(215.40 44.71) scale(1.0 1.04)" font-size="8.7" text-anchor="middle" fill="#1f1f1f">1</text>
<text transform="translate(242.78 44.71) scale(1.0 1.04)" font-size="8.7" text-anchor="middle" fill="#1f1f1f">3</text>
<text transform="translate(283.85 44.71) scale(1.0 1.04)" font-size="8.7" text-anchor="middle" fill="#1f1f1f">5</text>
<text transform="translate(297.54 44.71) scale(1.0 1.04)" font-size="8.7" text-anchor="middle" fill="#1f1f1f">1</text>
<text transform="translate(66.30 44.45) scale(1.0 1.04)" font-size="8.8" text-anchor="end" fill="#1a1a1a">PREX2</text>
<line x1="67.9" y1="41.00" x2="70.4" y2="41.00" stroke="#333" stroke-width="1.1"/>
<text transform="translate(105.88 52.14) scale(1.0 1.04)" font-size="8.7" text-anchor="middle" fill="#1f1f1f">1</text>
<text transform="translate(146.95 52.14) scale(1.0 1.04)" font-size="8.7" text-anchor="middle" fill="#1f1f1f">4</text>
<text transform="translate(160.64 52.14) scale(1.0 1.04)" font-size="8.7" text-anchor="middle" fill="#1f1f1f">2</text>
<text transform="translate(201.71 52.14) scale(1.0 1.04)" font-size="8.7" text-anchor="middle" fill="#1f1f1f">1</text>
<text transform="translate(229.09 52.14) scale(1.0 1.04)" font-size="8.7" text-anchor="middle" fill="#1f1f1f">2</text>
<text transform="translate(66.30 51.88) scale(1.0 1.04)" font-size="8.8" text-anchor="end" fill="#1a1a1a">ADAMTS12</text>
<line x1="67.9" y1="48.42" x2="70.4" y2="48.42" stroke="#333" stroke-width="1.1"/>
<text transform="translate(92.19 59.56) scale(1.0 1.04)" font-size="8.7" text-anchor="middle" fill="#1f1f1f">1</text>
<text transform="translate(105.88 59.56) scale(1.0 1.04)" font-size="8.7" text-anchor="middle" fill="#1f1f1f">2</text>
<text transform="translate(146.95 59.56) scale(1.0 1.04)" font-size="8.7" text-anchor="middle" fill="#1f1f1f">24</text>
<text transform="translate(160.64 59.56) scale(1.0 1.04)" font-size="8.7" text-anchor="middle" fill="#1f1f1f">3</text>
<text transform="translate(174.33 59.56) scale(1.0 1.04)" font-size="8.7" text-anchor="middle" fill="#1f1f1f">1</text>
<text transform="translate(188.02 59.56) scale(1.0 1.04)" font-size="8.7" text-anchor="middle" fill="#1f1f1f">5</text>
<text transform="translate(201.71 59.56) scale(1.0 1.04)" font-size="8.7" text-anchor="middle" fill="#1f1f1f">1</text>
<text transform="translate(229.09 59.56) scale(1.0 1.04)" font-size="8.7" text-anchor="middle" fill="#1f1f1f">3</text>
<text transform="translate(242.78 59.56) scale(1.0 1.04)" font-size="8.7" text-anchor="middle" fill="#1f1f1f">1</text>
<text transform="translate(270.16 59.56) scale(1.0 1.04)" font-size="8.7" text-anchor="middle" fill="#1f1f1f">2</text>
<text transform="translate(283.85 59.56) scale(1.0 1.04)" font-size="8.7" text-anchor="middle" fill="#1f1f1f">6</text>
<text transform="translate(66.30 59.30) scale(1.0 1.04)" font-size="8.8" text-anchor="end" fill="#1a1a1a">GPATCH2L</text>
<line x1="67.9" y1="55.85" x2="70.4" y2="55.85" stroke="#333" stroke-width="1.1"/>
<text transform="translate(146.95 66.99) scale(1.0 1.04)" font-size="8.7" text-anchor="middle" fill="#1f1f1f">19</text>
<text transform="translate(66.30 66.73) scale(1.0 1.04)" font-size="8.8" text-anchor="end" fill="#1a1a1a">AGO2</text>
<line x1="67.9" y1="63.28" x2="70.4" y2="63.28" stroke="#333" stroke-width="1.1"/>
<text transform="translate(105.88 74.41) scale(1.0 1.04)" font-size="8.7" text-anchor="middle" fill="#1f1f1f">1</text>
<text transform="translate(146.95 74.41) scale(1.0 1.04)" font-size="8.7" text-anchor="middle" fill="#1f1f1f">10</text>
<text transform="translate(160.64 74.41) scale(1.0 1.04)" font-size="8.7" text-anchor="middle" fill="#1f1f1f">1</text>
<text transform="translate(174.33 74.41) scale(1.0 1.04)" font-size="8.7" text-anchor="middle" fill="#1f1f1f">2</text>
<text transform="translate(188.02 74.41) scale(1.0 1.04)" font-size="8.7" text-anchor="middle" fill="#1f1f1f">3</text>
<text transform="translate(201.71 74.41) scale(1.0 1.04)" font-size="8.7" text-anchor="middle" fill="#1f1f1f">1</text>
<text transform="translate(229.09 74.41) scale(1.0 1.04)" font-size="8.7" text-anchor="middle" fill="#1f1f1f">2</text>
<text transform="translate(242.78 74.41) scale(1.0 1.04)" font-size="8.7" text-anchor="middle" fill="#1f1f1f">3</text>
<text transform="translate(283.85 74.41) scale(1.0 1.04)" font-size="8.7" text-anchor="middle" fill="#1f1f1f">5</text>
<text transform="translate(297.54 74.41) scale(1.0 1.04)" font-size="8.7" text-anchor="middle" fill="#1f1f1f">2</text>
<text transform="translate(66.30 74.15) scale(1.0 1.04)" font-size="8.8" text-anchor="end" fill="#1a1a1a">PROX1</text>
<line x1="67.9" y1="70.70" x2="70.4" y2="70.70" stroke="#333" stroke-width="1.1"/>
<text transform="translate(146.95 81.84) scale(1.0 1.04)" font-size="8.7" text-anchor="middle" fill="#1f1f1f">2</text>
<text transform="translate(160.64 81.84) scale(1.0 1.04)" font-size="8.7" text-anchor="middle" fill="#1f1f1f">5</text>
<text transform="translate(174.33 81.84) scale(1.0 1.04)" font-size="8.7" text-anchor="middle" fill="#1f1f1f">1</text>
<text transform="translate(188.02 81.84) scale(1.0 1.04)" font-size="8.7" text-anchor="middle" fill="#1f1f1f">3</text>
<text transform="translate(201.71 81.84) scale(1.0 1.04)" font-size="8.7" text-anchor="middle" fill="#1f1f1f">1</text>
<text transform="translate(283.85 81.84) scale(1.0 1.04)" font-size="8.7" text-anchor="middle" fill="#1f1f1f">6</text>
<text transform="translate(66.30 81.58) scale(1.0 1.04)" font-size="8.8" text-anchor="end" fill="#1a1a1a">PLXDC2</text>
<line x1="67.9" y1="78.12" x2="70.4" y2="78.12" stroke="#333" stroke-width="1.1"/>
<text transform="translate(78.50 89.26) scale(1.0 1.04)" font-size="8.7" text-anchor="middle" fill="#1f1f1f">2</text>
<text transform="translate(105.88 89.26) scale(1.0 1.04)" font-size="8.7" text-anchor="middle" fill="#1f1f1f">1</text>
<text transform="translate(119.57 89.26) scale(1.0 1.04)" font-size="8.7" text-anchor="middle" fill="#1f1f1f">2</text>
<text transform="translate(146.95 89.26) scale(1.0 1.04)" font-size="8.7" text-anchor="middle" fill="#1f1f1f">22</text>
<text transform="translate(160.64 89.26) scale(1.0 1.04)" font-size="8.7" text-anchor="middle" fill="#1f1f1f">2</text>
<text transform="translate(188.02 89.26) scale(1.0 1.04)" font-size="8.7" text-anchor="middle" fill="#1f1f1f">4</text>
<text transform="translate(201.71 89.26) scale(1.0 1.04)" font-size="8.7" text-anchor="middle" fill="#1f1f1f">1</text>
<text transform="translate(215.40 89.26) scale(1.0 1.04)" font-size="8.7" text-anchor="middle" fill="#1f1f1f">1</text>
<text transform="translate(229.09 89.26) scale(1.0 1.04)" font-size="8.7" text-anchor="middle" fill="#1f1f1f">2</text>
<text transform="translate(242.78 89.26) scale(1.0 1.04)" font-size="8.7" text-anchor="middle" fill="#1f1f1f">6</text>
<text transform="translate(270.16 89.26) scale(1.0 1.04)" font-size="8.7" text-anchor="middle" fill="#1f1f1f">1</text>
<text transform="translate(283.85 89.26) scale(1.0 1.04)" font-size="8.7" text-anchor="middle" fill="#1f1f1f">8</text>
<text transform="translate(66.30 89.00) scale(1.0 1.04)" font-size="8.8" text-anchor="end" fill="#1a1a1a">DNAJC10</text>
<line x1="67.9" y1="85.55" x2="70.4" y2="85.55" stroke="#333" stroke-width="1.1"/>
<text transform="translate(119.57 96.69) scale(1.0 1.04)" font-size="8.7" text-anchor="middle" fill="#1f1f1f">1</text>
<text transform="translate(146.95 96.69) scale(1.0 1.04)" font-size="8.7" text-anchor="middle" fill="#1f1f1f">10</text>
<text transform="translate(160.64 96.69) scale(1.0 1.04)" font-size="8.7" text-anchor="middle" fill="#1f1f1f">4</text>
<text transform="translate(174.33 96.69) scale(1.0 1.04)" font-size="8.7" text-anchor="middle" fill="#1f1f1f">2</text>
<text transform="translate(188.02 96.69) scale(1.0 1.04)" font-size="8.7" text-anchor="middle" fill="#1f1f1f">4</text>
<text transform="translate(201.71 96.69) scale(1.0 1.04)" font-size="8.7" text-anchor="middle" fill="#1f1f1f">2</text>
<text transform="translate(229.09 96.69) scale(1.0 1.04)" font-size="8.7" text-anchor="middle" fill="#1f1f1f">1</text>
<text transform="translate(242.78 96.69) scale(1.0 1.04)" font-size="8.7" text-anchor="middle" fill="#1f1f1f">2</text>
<text transform="translate(270.16 96.69) scale(1.0 1.04)" font-size="8.7" text-anchor="middle" fill="#1f1f1f">2</text>
<text transform="translate(283.85 96.69) scale(1.0 1.04)" font-size="8.7" text-anchor="middle" fill="#1f1f1f">2</text>
<text transform="translate(297.54 96.69) scale(1.0 1.04)" font-size="8.7" text-anchor="middle" fill="#1f1f1f">1</text>
<text transform="translate(66.30 96.43) scale(1.0 1.04)" font-size="8.8" text-anchor="end" fill="#1a1a1a">OGFRL1</text>
<line x1="67.9" y1="92.97" x2="70.4" y2="92.97" stroke="#333" stroke-width="1.1"/>
<text transform="translate(105.88 104.11) scale(1.0 1.04)" font-size="8.7" text-anchor="middle" fill="#1f1f1f">1</text>
<text transform="translate(146.95 104.11) scale(1.0 1.04)" font-size="8.7" text-anchor="middle" fill="#1f1f1f">9</text>
<text transform="translate(160.64 104.11) scale(1.0 1.04)" font-size="8.7" text-anchor="middle" fill="#1f1f1f">2</text>
<text transform="translate(188.02 104.11) scale(1.0 1.04)" font-size="8.7" text-anchor="middle" fill="#1f1f1f">3</text>
<text transform="translate(242.78 104.11) scale(1.0 1.04)" font-size="8.7" text-anchor="middle" fill="#1f1f1f">3</text>
<text transform="translate(270.16 104.11) scale(1.0 1.04)" font-size="8.7" text-anchor="middle" fill="#1f1f1f">1</text>
<text transform="translate(283.85 104.11) scale(1.0 1.04)" font-size="8.7" text-anchor="middle" fill="#1f1f1f">1</text>
<text transform="translate(66.30 103.85) scale(1.0 1.04)" font-size="8.8" text-anchor="end" fill="#1a1a1a">PIK3CA</text>
<line x1="67.9" y1="100.40" x2="70.4" y2="100.40" stroke="#333" stroke-width="1.1"/>
<text transform="translate(105.88 111.54) scale(1.0 1.04)" font-size="8.7" text-anchor="middle" fill="#1f1f1f">1</text>
<text transform="translate(146.95 111.54) scale(1.0 1.04)" font-size="8.7" text-anchor="middle" fill="#1f1f1f">7</text>
<text transform="translate(188.02 111.54) scale(1.0 1.04)" font-size="8.7" text-anchor="middle" fill="#1f1f1f">4</text>
<text transform="translate(242.78 111.54) scale(1.0 1.04)" font-size="8.7" text-anchor="middle" fill="#1f1f1f">1</text>
<text transform="translate(256.47 111.54) scale(1.0 1.04)" font-size="8.7" text-anchor="middle" fill="#1f1f1f">1</text>
<text transform="translate(283.85 111.54) scale(1.0 1.04)" font-size="8.7" text-anchor="middle" fill="#1f1f1f">7</text>
<text transform="translate(66.30 111.28) scale(1.0 1.04)" font-size="8.8" text-anchor="end" fill="#1a1a1a">CEP43</text>
<line x1="67.9" y1="107.82" x2="70.4" y2="107.82" stroke="#333" stroke-width="1.1"/>
<text transform="translate(105.88 118.96) scale(1.0 1.04)" font-size="8.7" text-anchor="middle" fill="#1f1f1f">2</text>
<text transform="translate(146.95 118.96) scale(1.0 1.04)" font-size="8.7" text-anchor="middle" fill="#1f1f1f">12</text>
<text transform="translate(160.64 118.96) scale(1.0 1.04)" font-size="8.7" text-anchor="middle" fill="#1f1f1f">2</text>
<text transform="translate(174.33 118.96) scale(1.0 1.04)" font-size="8.7" text-anchor="middle" fill="#1f1f1f">2</text>
<text transform="translate(188.02 118.96) scale(1.0 1.04)" font-size="8.7" text-anchor="middle" fill="#1f1f1f">7</text>
<text transform="translate(270.16 118.96) scale(1.0 1.04)" font-size="8.7" text-anchor="middle" fill="#1f1f1f">3</text>
<text transform="translate(283.85 118.96) scale(1.0 1.04)" font-size="8.7" text-anchor="middle" fill="#1f1f1f">5</text>
<text transform="translate(297.54 118.96) scale(1.0 1.04)" font-size="8.7" text-anchor="middle" fill="#1f1f1f">1</text>
<text transform="translate(66.30 118.70) scale(1.0 1.04)" font-size="8.8" text-anchor="end" fill="#1a1a1a">DYNLL2</text>
<line x1="67.9" y1="115.25" x2="70.4" y2="115.25" stroke="#333" stroke-width="1.1"/>
<text transform="translate(78.50 126.39) scale(1.0 1.04)" font-size="8.7" text-anchor="middle" fill="#1f1f1f">2</text>
<text transform="translate(105.88 126.39) scale(1.0 1.04)" font-size="8.7" text-anchor="middle" fill="#1f1f1f">2</text>
<text transform="translate(146.95 126.39) scale(1.0 1.04)" font-size="8.7" text-anchor="middle" fill="#1f1f1f">15</text>
<text transform="translate(160.64 126.39) scale(1.0 1.04)" font-size="8.7" text-anchor="middle" fill="#1f1f1f">11</text>
<text transform="translate(174.33 126.39) scale(1.0 1.04)" font-size="8.7" text-anchor="middle" fill="#1f1f1f">2</text>
<text transform="translate(188.02 126.39) scale(1.0 1.04)" font-size="8.7" text-anchor="middle" fill="#1f1f1f">11</text>
<text transform="translate(201.71 126.39) scale(1.0 1.04)" font-size="8.7" text-anchor="middle" fill="#1f1f1f">1</text>
<text transform="translate(229.09 126.39) scale(1.0 1.04)" font-size="8.7" text-anchor="middle" fill="#1f1f1f">1</text>
<text transform="translate(242.78 126.39) scale(1.0 1.04)" font-size="8.7" text-anchor="middle" fill="#1f1f1f">6</text>
<text transform="translate(283.85 126.39) scale(1.0 1.04)" font-size="8.7" text-anchor="middle" fill="#1f1f1f">25</text>
<text transform="translate(297.54 126.39) scale(1.0 1.04)" font-size="8.7" text-anchor="middle" fill="#1f1f1f">1</text>
<text transform="translate(66.30 126.13) scale(1.0 1.04)" font-size="8.8" text-anchor="end" fill="#1a1a1a">HDAC9</text>
<line x1="67.9" y1="122.67" x2="70.4" y2="122.67" stroke="#333" stroke-width="1.1"/>
<text transform="translate(146.95 133.81) scale(1.0 1.04)" font-size="8.7" text-anchor="middle" fill="#1f1f1f">1</text>
<text transform="translate(160.64 133.81) scale(1.0 1.04)" font-size="8.7" text-anchor="middle" fill="#1f1f1f">2</text>
<text transform="translate(174.33 133.81) scale(1.0 1.04)" font-size="8.7" text-anchor="middle" fill="#1f1f1f">1</text>
<text transform="translate(242.78 133.81) scale(1.0 1.04)" font-size="8.7" text-anchor="middle" fill="#1f1f1f">1</text>
<text transform="translate(270.16 133.81) scale(1.0 1.04)" font-size="8.7" text-anchor="middle" fill="#1f1f1f">1</text>
<text transform="translate(283.85 133.81) scale(1.0 1.04)" font-size="8.7" text-anchor="middle" fill="#1f1f1f">1</text>
<text transform="translate(66.30 133.55) scale(1.0 1.04)" font-size="8.8" text-anchor="end" fill="#1a1a1a">LRRC28</text>
<line x1="67.9" y1="130.10" x2="70.4" y2="130.10" stroke="#333" stroke-width="1.1"/>
<text transform="translate(146.95 141.24) scale(1.0 1.04)" font-size="8.7" text-anchor="middle" fill="#1f1f1f">2</text>
<text transform="translate(160.64 141.24) scale(1.0 1.04)" font-size="8.7" text-anchor="middle" fill="#1f1f1f">2</text>
<text transform="translate(188.02 141.24) scale(1.0 1.04)" font-size="8.7" text-anchor="middle" fill="#1f1f1f">4</text>
<text transform="translate(201.71 141.24) scale(1.0 1.04)" font-size="8.7" text-anchor="middle" fill="#1f1f1f">3</text>
<text transform="translate(242.78 141.24) scale(1.0 1.04)" font-size="8.7" text-anchor="middle" fill="#1f1f1f">1</text>
<text transform="translate(283.85 141.24) scale(1.0 1.04)" font-size="8.7" text-anchor="middle" fill="#1f1f1f">2</text>
<text transform="translate(297.54 141.24) scale(1.0 1.04)" font-size="8.7" text-anchor="middle" fill="#1f1f1f">2</text>
<text transform="translate(66.30 140.98) scale(1.0 1.04)" font-size="8.8" text-anchor="end" fill="#1a1a1a">VLDLR</text>
<line x1="67.9" y1="137.53" x2="70.4" y2="137.53" stroke="#333" stroke-width="1.1"/>
<text transform="translate(146.95 148.66) scale(1.0 1.04)" font-size="8.7" text-anchor="middle" fill="#1f1f1f">7</text>
<text transform="translate(160.64 148.66) scale(1.0 1.04)" font-size="8.7" text-anchor="middle" fill="#1f1f1f">3</text>
<text transform="translate(174.33 148.66) scale(1.0 1.04)" font-size="8.7" text-anchor="middle" fill="#1f1f1f">1</text>
<text transform="translate(188.02 148.66) scale(1.0 1.04)" font-size="8.7" text-anchor="middle" fill="#1f1f1f">3</text>
<text transform="translate(201.71 148.66) scale(1.0 1.04)" font-size="8.7" text-anchor="middle" fill="#1f1f1f">1</text>
<text transform="translate(229.09 148.66) scale(1.0 1.04)" font-size="8.7" text-anchor="middle" fill="#1f1f1f">1</text>
<text transform="translate(242.78 148.66) scale(1.0 1.04)" font-size="8.7" text-anchor="middle" fill="#1f1f1f">1</text>
<text transform="translate(256.47 148.66) scale(1.0 1.04)" font-size="8.7" text-anchor="middle" fill="#1f1f1f">2</text>
<text transform="translate(270.16 148.66) scale(1.0 1.04)" font-size="8.7" text-anchor="middle" fill="#1f1f1f">1</text>
<text transform="translate(283.85 148.66) scale(1.0 1.04)" font-size="8.7" text-anchor="middle" fill="#1f1f1f">3</text>
<text transform="translate(66.30 148.40) scale(1.0 1.04)" font-size="8.8" text-anchor="end" fill="#1a1a1a">HHIP</text>
<line x1="67.9" y1="144.95" x2="70.4" y2="144.95" stroke="#333" stroke-width="1.1"/>
<text transform="translate(146.95 156.09) scale(1.0 1.04)" font-size="8.7" text-anchor="middle" fill="#1f1f1f">1</text>
<text transform="translate(174.33 156.09) scale(1.0 1.04)" font-size="8.7" text-anchor="middle" fill="#1f1f1f">1</text>
<text transform="translate(188.02 156.09) scale(1.0 1.04)" font-size="8.7" text-anchor="middle" fill="#1f1f1f">1</text>
<text transform="translate(242.78 156.09) scale(1.0 1.04)" font-size="8.7" text-anchor="middle" fill="#1f1f1f">1</text>
<text transform="translate(283.85 156.09) scale(1.0 1.04)" font-size="8.7" text-anchor="middle" fill="#1f1f1f">1</text>
<text transform="translate(66.30 155.83) scale(1.0 1.04)" font-size="8.8" text-anchor="end" fill="#1a1a1a">SLC6A11</text>
<line x1="67.9" y1="152.38" x2="70.4" y2="152.38" stroke="#333" stroke-width="1.1"/>
<text transform="translate(146.95 163.51) scale(1.0 1.04)" font-size="8.7" text-anchor="middle" fill="#1f1f1f">6</text>
<text transform="translate(66.30 163.25) scale(1.0 1.04)" font-size="8.8" text-anchor="end" fill="#1a1a1a">SCGB1B2P</text>
<line x1="67.9" y1="159.80" x2="70.4" y2="159.80" stroke="#333" stroke-width="1.1"/>
<text transform="translate(146.95 170.94) scale(1.0 1.04)" font-size="8.7" text-anchor="middle" fill="#1f1f1f">5</text>
<text transform="translate(66.30 170.68) scale(1.0 1.04)" font-size="8.8" text-anchor="end" fill="#1a1a1a">SYCE1L</text>
<line x1="67.9" y1="167.22" x2="70.4" y2="167.22" stroke="#333" stroke-width="1.1"/>
<text transform="translate(133.26 178.36) scale(1.0 1.04)" font-size="8.7" text-anchor="middle" fill="#1f1f1f">1</text>
<text transform="translate(146.95 178.36) scale(1.0 1.04)" font-size="8.7" text-anchor="middle" fill="#1f1f1f">4</text>
<text transform="translate(215.40 178.36) scale(1.0 1.04)" font-size="8.7" text-anchor="middle" fill="#1f1f1f">1</text>
<text transform="translate(242.78 178.36) scale(1.0 1.04)" font-size="8.7" text-anchor="middle" fill="#1f1f1f">1</text>
<text transform="translate(256.47 178.36) scale(1.0 1.04)" font-size="8.7" text-anchor="middle" fill="#1f1f1f">1</text>
<text transform="translate(283.85 178.36) scale(1.0 1.04)" font-size="8.7" text-anchor="middle" fill="#1f1f1f">13</text>
<text transform="translate(66.30 178.10) scale(1.0 1.04)" font-size="8.8" text-anchor="end" fill="#1a1a1a">PRDM6</text>
<line x1="67.9" y1="174.65" x2="70.4" y2="174.65" stroke="#333" stroke-width="1.1"/>
<text transform="translate(105.88 185.79) scale(1.0 1.04)" font-size="8.7" text-anchor="middle" fill="#1f1f1f">1</text>
<text transform="translate(146.95 185.79) scale(1.0 1.04)" font-size="8.7" text-anchor="middle" fill="#1f1f1f">3</text>
<text transform="translate(160.64 185.79) scale(1.0 1.04)" font-size="8.7" text-anchor="middle" fill="#1f1f1f">1</text>
<text transform="translate(174.33 185.79) scale(1.0 1.04)" font-size="8.7" text-anchor="middle" fill="#1f1f1f">1</text>
<text transform="translate(188.02 185.79) scale(1.0 1.04)" font-size="8.7" text-anchor="middle" fill="#1f1f1f">2</text>
<text transform="translate(242.78 185.79) scale(1.0 1.04)" font-size="8.7" text-anchor="middle" fill="#1f1f1f">1</text>
<text transform="translate(283.85 185.79) scale(1.0 1.04)" font-size="8.7" text-anchor="middle" fill="#1f1f1f">1</text>
<text transform="translate(66.30 185.53) scale(1.0 1.04)" font-size="8.8" text-anchor="end" fill="#1a1a1a">NUDCD2</text>
<line x1="67.9" y1="182.08" x2="70.4" y2="182.08" stroke="#333" stroke-width="1.1"/>
<text transform="translate(78.50 193.21) scale(1.0 1.04)" font-size="8.7" text-anchor="middle" fill="#1f1f1f">1</text>
<text transform="translate(105.88 193.21) scale(1.0 1.04)" font-size="8.7" text-anchor="middle" fill="#1f1f1f">4</text>
<text transform="translate(146.95 193.21) scale(1.0 1.04)" font-size="8.7" text-anchor="middle" fill="#1f1f1f">17</text>
<text transform="translate(160.64 193.21) scale(1.0 1.04)" font-size="8.7" text-anchor="middle" fill="#1f1f1f">1</text>
<text transform="translate(188.02 193.21) scale(1.0 1.04)" font-size="8.7" text-anchor="middle" fill="#1f1f1f">3</text>
<text transform="translate(201.71 193.21) scale(1.0 1.04)" font-size="8.7" text-anchor="middle" fill="#1f1f1f">1</text>
<text transform="translate(229.09 193.21) scale(1.0 1.04)" font-size="8.7" text-anchor="middle" fill="#1f1f1f">2</text>
<text transform="translate(242.78 193.21) scale(1.0 1.04)" font-size="8.7" text-anchor="middle" fill="#1f1f1f">6</text>
<text transform="translate(270.16 193.21) scale(1.0 1.04)" font-size="8.7" text-anchor="middle" fill="#1f1f1f">2</text>
<text transform="translate(283.85 193.21) scale(1.0 1.04)" font-size="8.7" text-anchor="middle" fill="#1f1f1f">5</text>
<text transform="translate(297.54 193.21) scale(1.0 1.04)" font-size="8.7" text-anchor="middle" fill="#1f1f1f">1</text>
<text transform="translate(66.30 192.95) scale(1.0 1.04)" font-size="8.8" text-anchor="end" fill="#1a1a1a">EGFR</text>
<line x1="67.9" y1="189.50" x2="70.4" y2="189.50" stroke="#333" stroke-width="1.1"/>
<text transform="translate(146.95 200.64) scale(1.0 1.04)" font-size="8.7" text-anchor="middle" fill="#1f1f1f">3</text>
<text transform="translate(160.64 200.64) scale(1.0 1.04)" font-size="8.7" text-anchor="middle" fill="#1f1f1f">1</text>
<text transform="translate(188.02 200.64) scale(1.0 1.04)" font-size="8.7" text-anchor="middle" fill="#1f1f1f">4</text>
<text transform="translate(201.71 200.64) scale(1.0 1.04)" font-size="8.7" text-anchor="middle" fill="#1f1f1f">1</text>
<text transform="translate(229.09 200.64) scale(1.0 1.04)" font-size="8.7" text-anchor="middle" fill="#1f1f1f">1</text>
<text transform="translate(242.78 200.64) scale(1.0 1.04)" font-size="8.7" text-anchor="middle" fill="#1f1f1f">1</text>
<text transform="translate(66.30 200.38) scale(1.0 1.04)" font-size="8.8" text-anchor="end" fill="#1a1a1a">IRAK1BP1</text>
<line x1="67.9" y1="196.93" x2="70.4" y2="196.93" stroke="#333" stroke-width="1.1"/>
<text transform="translate(146.95 208.06) scale(1.0 1.04)" font-size="8.7" text-anchor="middle" fill="#1f1f1f">7</text>
<text transform="translate(160.64 208.06) scale(1.0 1.04)" font-size="8.7" text-anchor="middle" fill="#1f1f1f">3</text>
<text transform="translate(174.33 208.06) scale(1.0 1.04)" font-size="8.7" text-anchor="middle" fill="#1f1f1f">1</text>
<text transform="translate(188.02 208.06) scale(1.0 1.04)" font-size="8.7" text-anchor="middle" fill="#1f1f1f">4</text>
<text transform="translate(229.09 208.06) scale(1.0 1.04)" font-size="8.7" text-anchor="middle" fill="#1f1f1f">2</text>
<text transform="translate(283.85 208.06) scale(1.0 1.04)" font-size="8.7" text-anchor="middle" fill="#1f1f1f">2</text>
<text transform="translate(66.30 207.80) scale(1.0 1.04)" font-size="8.8" text-anchor="end" fill="#1a1a1a">RPS6KC1</text>
<line x1="67.9" y1="204.35" x2="70.4" y2="204.35" stroke="#333" stroke-width="1.1"/>
<text transform="translate(105.88 215.49) scale(1.0 1.04)" font-size="8.7" text-anchor="middle" fill="#1f1f1f">2</text>
<text transform="translate(119.57 215.49) scale(1.0 1.04)" font-size="8.7" text-anchor="middle" fill="#1f1f1f">1</text>
<text transform="translate(146.95 215.49) scale(1.0 1.04)" font-size="8.7" text-anchor="middle" fill="#1f1f1f">3</text>
<text transform="translate(160.64 215.49) scale(1.0 1.04)" font-size="8.7" text-anchor="middle" fill="#1f1f1f">1</text>
<text transform="translate(188.02 215.49) scale(1.0 1.04)" font-size="8.7" text-anchor="middle" fill="#1f1f1f">1</text>
<text transform="translate(201.71 215.49) scale(1.0 1.04)" font-size="8.7" text-anchor="middle" fill="#1f1f1f">1</text>
<text transform="translate(270.16 215.49) scale(1.0 1.04)" font-size="8.7" text-anchor="middle" fill="#1f1f1f">2</text>
<text transform="translate(283.85 215.49) scale(1.0 1.04)" font-size="8.7" text-anchor="middle" fill="#1f1f1f">6</text>
<text transform="translate(66.30 215.23) scale(1.0 1.04)" font-size="8.8" text-anchor="end" fill="#1a1a1a">MAPK8IP2</text>
<line x1="67.9" y1="211.78" x2="70.4" y2="211.78" stroke="#333" stroke-width="1.1"/>
<text transform="translate(78.50 222.91) scale(1.0 1.04)" font-size="8.7" text-anchor="middle" fill="#1f1f1f">1</text>
<text transform="translate(146.95 222.91) scale(1.0 1.04)" font-size="8.7" text-anchor="middle" fill="#1f1f1f">9</text>
<text transform="translate(174.33 222.91) scale(1.0 1.04)" font-size="8.7" text-anchor="middle" fill="#1f1f1f">1</text>
<text transform="translate(188.02 222.91) scale(1.0 1.04)" font-size="8.7" text-anchor="middle" fill="#1f1f1f">3</text>
<text transform="translate(215.40 222.91) scale(1.0 1.04)" font-size="8.7" text-anchor="middle" fill="#1f1f1f">2</text>
<text transform="translate(242.78 222.91) scale(1.0 1.04)" font-size="8.7" text-anchor="middle" fill="#1f1f1f">1</text>
<text transform="translate(283.85 222.91) scale(1.0 1.04)" font-size="8.7" text-anchor="middle" fill="#1f1f1f">6</text>
<text transform="translate(66.30 222.65) scale(1.0 1.04)" font-size="8.8" text-anchor="end" fill="#1a1a1a">RPAP2</text>
<line x1="67.9" y1="219.20" x2="70.4" y2="219.20" stroke="#333" stroke-width="1.1"/>
<text transform="translate(105.88 230.34) scale(1.0 1.04)" font-size="8.7" text-anchor="middle" fill="#1f1f1f">2</text>
<text transform="translate(146.95 230.34) scale(1.0 1.04)" font-size="8.7" text-anchor="middle" fill="#1f1f1f">2</text>
<text transform="translate(160.64 230.34) scale(1.0 1.04)" font-size="8.7" text-anchor="middle" fill="#1f1f1f">1</text>
<text transform="translate(188.02 230.34) scale(1.0 1.04)" font-size="8.7" text-anchor="middle" fill="#1f1f1f">1</text>
<text transform="translate(242.78 230.34) scale(1.0 1.04)" font-size="8.7" text-anchor="middle" fill="#1f1f1f">1</text>
<text transform="translate(283.85 230.34) scale(1.0 1.04)" font-size="8.7" text-anchor="middle" fill="#1f1f1f">2</text>
<text transform="translate(66.30 230.08) scale(1.0 1.04)" font-size="8.8" text-anchor="end" fill="#1a1a1a">PPP4R2</text>
<line x1="67.9" y1="226.62" x2="70.4" y2="226.62" stroke="#333" stroke-width="1.1"/>
<text transform="translate(78.50 237.76) scale(1.0 1.04)" font-size="8.7" text-anchor="middle" fill="#1f1f1f">1</text>
<text transform="translate(160.64 237.76) scale(1.0 1.04)" font-size="8.7" text-anchor="middle" fill="#1f1f1f">12</text>
<text transform="translate(174.33 237.76) scale(1.0 1.04)" font-size="8.7" text-anchor="middle" fill="#1f1f1f">1</text>
<text transform="translate(188.02 237.76) scale(1.0 1.04)" font-size="8.7" text-anchor="middle" fill="#1f1f1f">5</text>
<text transform="translate(242.78 237.76) scale(1.0 1.04)" font-size="8.7" text-anchor="middle" fill="#1f1f1f">2</text>
<text transform="translate(256.47 237.76) scale(1.0 1.04)" font-size="8.7" text-anchor="middle" fill="#1f1f1f">1</text>
<text transform="translate(283.85 237.76) scale(1.0 1.04)" font-size="8.7" text-anchor="middle" fill="#1f1f1f">7</text>
<text transform="translate(297.54 237.76) scale(1.0 1.04)" font-size="8.7" text-anchor="middle" fill="#1f1f1f">1</text>
<text transform="translate(66.30 237.50) scale(1.0 1.04)" font-size="8.8" text-anchor="end" fill="#1a1a1a">ZNF736</text>
<line x1="67.9" y1="234.05" x2="70.4" y2="234.05" stroke="#333" stroke-width="1.1"/>
<text transform="translate(146.95 245.19) scale(1.0 1.04)" font-size="8.7" text-anchor="middle" fill="#1f1f1f">8</text>
<text transform="translate(188.02 245.19) scale(1.0 1.04)" font-size="8.7" text-anchor="middle" fill="#1f1f1f">3</text>
<text transform="translate(201.71 245.19) scale(1.0 1.04)" font-size="8.7" text-anchor="middle" fill="#1f1f1f">1</text>
<text transform="translate(229.09 245.19) scale(1.0 1.04)" font-size="8.7" text-anchor="middle" fill="#1f1f1f">1</text>
<text transform="translate(242.78 245.19) scale(1.0 1.04)" font-size="8.7" text-anchor="middle" fill="#1f1f1f">1</text>
<text transform="translate(283.85 245.19) scale(1.0 1.04)" font-size="8.7" text-anchor="middle" fill="#1f1f1f">3</text>
<text transform="translate(66.30 244.93) scale(1.0 1.04)" font-size="8.8" text-anchor="end" fill="#1a1a1a">MTO1</text>
<line x1="67.9" y1="241.47" x2="70.4" y2="241.47" stroke="#333" stroke-width="1.1"/>
<text transform="translate(119.57 252.61) scale(1.0 1.04)" font-size="8.7" text-anchor="middle" fill="#1f1f1f">1</text>
<text transform="translate(146.95 252.61) scale(1.0 1.04)" font-size="8.7" text-anchor="middle" fill="#1f1f1f">13</text>
<text transform="translate(160.64 252.61) scale(1.0 1.04)" font-size="8.7" text-anchor="middle" fill="#1f1f1f">1</text>
<text transform="translate(242.78 252.61) scale(1.0 1.04)" font-size="8.7" text-anchor="middle" fill="#1f1f1f">2</text>
<text transform="translate(283.85 252.61) scale(1.0 1.04)" font-size="8.7" text-anchor="middle" fill="#1f1f1f">5</text>
<text transform="translate(66.30 252.35) scale(1.0 1.04)" font-size="8.8" text-anchor="end" fill="#1a1a1a">ERN1</text>
<line x1="67.9" y1="248.90" x2="70.4" y2="248.90" stroke="#333" stroke-width="1.1"/>
<text transform="translate(78.50 260.04) scale(1.0 1.04)" font-size="8.7" text-anchor="middle" fill="#1f1f1f">1</text>
<text transform="translate(105.88 260.04) scale(1.0 1.04)" font-size="8.7" text-anchor="middle" fill="#1f1f1f">2</text>
<text transform="translate(146.95 260.04) scale(1.0 1.04)" font-size="8.7" text-anchor="middle" fill="#1f1f1f">1</text>
<text transform="translate(160.64 260.04) scale(1.0 1.04)" font-size="8.7" text-anchor="middle" fill="#1f1f1f">1</text>
<text transform="translate(174.33 260.04) scale(1.0 1.04)" font-size="8.7" text-anchor="middle" fill="#1f1f1f">1</text>
<text transform="translate(188.02 260.04) scale(1.0 1.04)" font-size="8.7" text-anchor="middle" fill="#1f1f1f">1</text>
<text transform="translate(242.78 260.04) scale(1.0 1.04)" font-size="8.7" text-anchor="middle" fill="#1f1f1f">1</text>
<text transform="translate(283.85 260.04) scale(1.0 1.04)" font-size="8.7" text-anchor="middle" fill="#1f1f1f">2</text>
<text transform="translate(66.30 259.78) scale(1.0 1.04)" font-size="8.8" text-anchor="end" fill="#1a1a1a">CHAF1B</text>
<line x1="67.9" y1="256.32" x2="70.4" y2="256.32" stroke="#333" stroke-width="1.1"/>
<text transform="translate(78.50 267.46) scale(1.0 1.04)" font-size="8.7" text-anchor="middle" fill="#1f1f1f">1</text>
<text transform="translate(105.88 267.46) scale(1.0 1.04)" font-size="8.7" text-anchor="middle" fill="#1f1f1f">1</text>
<text transform="translate(146.95 267.46) scale(1.0 1.04)" font-size="8.7" text-anchor="middle" fill="#1f1f1f">7</text>
<text transform="translate(160.64 267.46) scale(1.0 1.04)" font-size="8.7" text-anchor="middle" fill="#1f1f1f">1</text>
<text transform="translate(188.02 267.46) scale(1.0 1.04)" font-size="8.7" text-anchor="middle" fill="#1f1f1f">1</text>
<text transform="translate(201.71 267.46) scale(1.0 1.04)" font-size="8.7" text-anchor="middle" fill="#1f1f1f">4</text>
<text transform="translate(242.78 267.46) scale(1.0 1.04)" font-size="8.7" text-anchor="middle" fill="#1f1f1f">2</text>
<text transform="translate(283.85 267.46) scale(1.0 1.04)" font-size="8.7" text-anchor="middle" fill="#1f1f1f">6</text>
<text transform="translate(66.30 267.20) scale(1.0 1.04)" font-size="8.8" text-anchor="end" fill="#1a1a1a">DIAPH2</text>
<line x1="67.9" y1="263.75" x2="70.4" y2="263.75" stroke="#333" stroke-width="1.1"/>
<text transform="translate(105.88 274.89) scale(1.0 1.04)" font-size="8.7" text-anchor="middle" fill="#1f1f1f">1</text>
<text transform="translate(146.95 274.89) scale(1.0 1.04)" font-size="8.7" text-anchor="middle" fill="#1f1f1f">14</text>
<text transform="translate(160.64 274.89) scale(1.0 1.04)" font-size="8.7" text-anchor="middle" fill="#1f1f1f">1</text>
<text transform="translate(188.02 274.89) scale(1.0 1.04)" font-size="8.7" text-anchor="middle" fill="#1f1f1f">9</text>
<text transform="translate(201.71 274.89) scale(1.0 1.04)" font-size="8.7" text-anchor="middle" fill="#1f1f1f">1</text>
<text transform="translate(242.78 274.89) scale(1.0 1.04)" font-size="8.7" text-anchor="middle" fill="#1f1f1f">3</text>
<text transform="translate(256.47 274.89) scale(1.0 1.04)" font-size="8.7" text-anchor="middle" fill="#1f1f1f">1</text>
<text transform="translate(283.85 274.89) scale(1.0 1.04)" font-size="8.7" text-anchor="middle" fill="#1f1f1f">4</text>
<text transform="translate(66.30 274.63) scale(1.0 1.04)" font-size="8.8" text-anchor="end" fill="#1a1a1a">PANK3</text>
<line x1="67.9" y1="271.18" x2="70.4" y2="271.18" stroke="#333" stroke-width="1.1"/>
<text transform="translate(146.95 282.31) scale(1.0 1.04)" font-size="8.7" text-anchor="middle" fill="#1f1f1f">28</text>
<text transform="translate(66.30 282.05) scale(1.0 1.04)" font-size="8.8" text-anchor="end" fill="#1a1a1a">FRZB</text>
<line x1="67.9" y1="278.60" x2="70.4" y2="278.60" stroke="#333" stroke-width="1.1"/>
<text transform="translate(105.88 289.74) scale(1.0 1.04)" font-size="8.7" text-anchor="middle" fill="#1f1f1f">1</text>
<text transform="translate(146.95 289.74) scale(1.0 1.04)" font-size="8.7" text-anchor="middle" fill="#1f1f1f">6</text>
<text transform="translate(160.64 289.74) scale(1.0 1.04)" font-size="8.7" text-anchor="middle" fill="#1f1f1f">4</text>
<text transform="translate(188.02 289.74) scale(1.0 1.04)" font-size="8.7" text-anchor="middle" fill="#1f1f1f">2</text>
<text transform="translate(229.09 289.74) scale(1.0 1.04)" font-size="8.7" text-anchor="middle" fill="#1f1f1f">1</text>
<text transform="translate(270.16 289.74) scale(1.0 1.04)" font-size="8.7" text-anchor="middle" fill="#1f1f1f">1</text>
<text transform="translate(283.85 289.74) scale(1.0 1.04)" font-size="8.7" text-anchor="middle" fill="#1f1f1f">2</text>
<text transform="translate(66.30 289.48) scale(1.0 1.04)" font-size="8.8" text-anchor="end" fill="#1a1a1a">WTIP</text>
<line x1="67.9" y1="286.02" x2="70.4" y2="286.02" stroke="#333" stroke-width="1.1"/>
<text transform="translate(146.95 297.16) scale(1.0 1.04)" font-size="8.7" text-anchor="middle" fill="#1f1f1f">8</text>
<text transform="translate(188.02 297.16) scale(1.0 1.04)" font-size="8.7" text-anchor="middle" fill="#1f1f1f">2</text>
<text transform="translate(242.78 297.16) scale(1.0 1.04)" font-size="8.7" text-anchor="middle" fill="#1f1f1f">1</text>
<text transform="translate(270.16 297.16) scale(1.0 1.04)" font-size="8.7" text-anchor="middle" fill="#1f1f1f">1</text>
<text transform="translate(283.85 297.16) scale(1.0 1.04)" font-size="8.7" text-anchor="middle" fill="#1f1f1f">2</text>
<text transform="translate(66.30 296.90) scale(1.0 1.04)" font-size="8.8" text-anchor="end" fill="#1a1a1a">GPATCH2</text>
<line x1="67.9" y1="293.45" x2="70.4" y2="293.45" stroke="#333" stroke-width="1.1"/>
<text transform="translate(160.64 304.59) scale(1.0 1.04)" font-size="8.7" text-anchor="middle" fill="#1f1f1f">1</text>
<text transform="translate(174.33 304.59) scale(1.0 1.04)" font-size="8.7" text-anchor="middle" fill="#1f1f1f">1</text>
<text transform="translate(188.02 304.59) scale(1.0 1.04)" font-size="8.7" text-anchor="middle" fill="#1f1f1f">1</text>
<text transform="translate(201.71 304.59) scale(1.0 1.04)" font-size="8.7" text-anchor="middle" fill="#1f1f1f">1</text>
<text transform="translate(242.78 304.59) scale(1.0 1.04)" font-size="8.7" text-anchor="middle" fill="#1f1f1f">1</text>
<text transform="translate(283.85 304.59) scale(1.0 1.04)" font-size="8.7" text-anchor="middle" fill="#1f1f1f">3</text>
<text transform="translate(66.30 304.33) scale(1.0 1.04)" font-size="8.8" text-anchor="end" fill="#1a1a1a">PSMD12</text>
<line x1="67.9" y1="300.88" x2="70.4" y2="300.88" stroke="#333" stroke-width="1.1"/>
<text transform="translate(78.50 312.01) scale(1.0 1.04)" font-size="8.7" text-anchor="middle" fill="#1f1f1f">1</text>
<text transform="translate(105.88 312.01) scale(1.0 1.04)" font-size="8.7" text-anchor="middle" fill="#1f1f1f">3</text>
<text transform="translate(146.95 312.01) scale(1.0 1.04)" font-size="8.7" text-anchor="middle" fill="#1f1f1f">20</text>
<text transform="translate(160.64 312.01) scale(1.0 1.04)" font-size="8.7" text-anchor="middle" fill="#1f1f1f">5</text>
<text transform="translate(174.33 312.01) scale(1.0 1.04)" font-size="8.7" text-anchor="middle" fill="#1f1f1f">2</text>
<text transform="translate(188.02 312.01) scale(1.0 1.04)" font-size="8.7" text-anchor="middle" fill="#1f1f1f">3</text>
<text transform="translate(201.71 312.01) scale(1.0 1.04)" font-size="8.7" text-anchor="middle" fill="#1f1f1f">2</text>
<text transform="translate(229.09 312.01) scale(1.0 1.04)" font-size="8.7" text-anchor="middle" fill="#1f1f1f">2</text>
<text transform="translate(242.78 312.01) scale(1.0 1.04)" font-size="8.7" text-anchor="middle" fill="#1f1f1f">3</text>
<text transform="translate(270.16 312.01) scale(1.0 1.04)" font-size="8.7" text-anchor="middle" fill="#1f1f1f">1</text>
<text transform="translate(283.85 312.01) scale(1.0 1.04)" font-size="8.7" text-anchor="middle" fill="#1f1f1f">2</text>
<text transform="translate(297.54 312.01) scale(1.0 1.04)" font-size="8.7" text-anchor="middle" fill="#1f1f1f">3</text>
<text transform="translate(66.30 311.75) scale(1.0 1.04)" font-size="8.8" text-anchor="end" fill="#1a1a1a">STX7</text>
<line x1="67.9" y1="308.30" x2="70.4" y2="308.30" stroke="#333" stroke-width="1.1"/>
<text transform="translate(146.95 319.44) scale(1.0 1.04)" font-size="8.7" text-anchor="middle" fill="#1f1f1f">3</text>
<text transform="translate(160.64 319.44) scale(1.0 1.04)" font-size="8.7" text-anchor="middle" fill="#1f1f1f">2</text>
<text transform="translate(188.02 319.44) scale(1.0 1.04)" font-size="8.7" text-anchor="middle" fill="#1f1f1f">3</text>
<text transform="translate(270.16 319.44) scale(1.0 1.04)" font-size="8.7" text-anchor="middle" fill="#1f1f1f">1</text>
<text transform="translate(283.85 319.44) scale(1.0 1.04)" font-size="8.7" text-anchor="middle" fill="#1f1f1f">7</text>
<text transform="translate(66.30 319.18) scale(1.0 1.04)" font-size="8.8" text-anchor="end" fill="#1a1a1a">HS3ST3B1</text>
<line x1="67.9" y1="315.73" x2="70.4" y2="315.73" stroke="#333" stroke-width="1.1"/>
<text transform="translate(78.50 326.86) scale(1.0 1.04)" font-size="8.7" text-anchor="middle" fill="#1f1f1f">1</text>
<text transform="translate(160.64 326.86) scale(1.0 1.04)" font-size="8.7" text-anchor="middle" fill="#1f1f1f">2</text>
<text transform="translate(174.33 326.86) scale(1.0 1.04)" font-size="8.7" text-anchor="middle" fill="#1f1f1f">1</text>
<text transform="translate(188.02 326.86) scale(1.0 1.04)" font-size="8.7" text-anchor="middle" fill="#1f1f1f">4</text>
<text transform="translate(229.09 326.86) scale(1.0 1.04)" font-size="8.7" text-anchor="middle" fill="#1f1f1f">1</text>
<text transform="translate(242.78 326.86) scale(1.0 1.04)" font-size="8.7" text-anchor="middle" fill="#1f1f1f">4</text>
<text transform="translate(256.47 326.86) scale(1.0 1.04)" font-size="8.7" text-anchor="middle" fill="#1f1f1f">1</text>
<text transform="translate(270.16 326.86) scale(1.0 1.04)" font-size="8.7" text-anchor="middle" fill="#1f1f1f">1</text>
<text transform="translate(283.85 326.86) scale(1.0 1.04)" font-size="8.7" text-anchor="middle" fill="#1f1f1f">2</text>
<text transform="translate(66.30 326.60) scale(1.0 1.04)" font-size="8.8" text-anchor="end" fill="#1a1a1a">RPL37</text>
<line x1="67.9" y1="323.15" x2="70.4" y2="323.15" stroke="#333" stroke-width="1.1"/>
<text transform="translate(105.88 334.29) scale(1.0 1.04)" font-size="8.7" text-anchor="middle" fill="#1f1f1f">2</text>
<text transform="translate(146.95 334.29) scale(1.0 1.04)" font-size="8.7" text-anchor="middle" fill="#1f1f1f">12</text>
<text transform="translate(174.33 334.29) scale(1.0 1.04)" font-size="8.7" text-anchor="middle" fill="#1f1f1f">1</text>
<text transform="translate(188.02 334.29) scale(1.0 1.04)" font-size="8.7" text-anchor="middle" fill="#1f1f1f">7</text>
<text transform="translate(242.78 334.29) scale(1.0 1.04)" font-size="8.7" text-anchor="middle" fill="#1f1f1f">4</text>
<text transform="translate(256.47 334.29) scale(1.0 1.04)" font-size="8.7" text-anchor="middle" fill="#1f1f1f">1</text>
<text transform="translate(270.16 334.29) scale(1.0 1.04)" font-size="8.7" text-anchor="middle" fill="#1f1f1f">3</text>
<text transform="translate(283.85 334.29) scale(1.0 1.04)" font-size="8.7" text-anchor="middle" fill="#1f1f1f">10</text>
<text transform="translate(297.54 334.29) scale(1.0 1.04)" font-size="8.7" text-anchor="middle" fill="#1f1f1f">1</text>
<text transform="translate(66.30 334.03) scale(1.0 1.04)" font-size="8.8" text-anchor="end" fill="#1a1a1a">PEX26</text>
<line x1="67.9" y1="330.57" x2="70.4" y2="330.57" stroke="#333" stroke-width="1.1"/>
<text transform="translate(92.19 341.71) scale(1.0 1.04)" font-size="8.7" text-anchor="middle" fill="#1f1f1f">1</text>
<text transform="translate(105.88 341.71) scale(1.0 1.04)" font-size="8.7" text-anchor="middle" fill="#1f1f1f">1</text>
<text transform="translate(119.57 341.71) scale(1.0 1.04)" font-size="8.7" text-anchor="middle" fill="#1f1f1f">1</text>
<text transform="translate(146.95 341.71) scale(1.0 1.04)" font-size="8.7" text-anchor="middle" fill="#1f1f1f">2</text>
<text transform="translate(188.02 341.71) scale(1.0 1.04)" font-size="8.7" text-anchor="middle" fill="#1f1f1f">2</text>
<text transform="translate(201.71 341.71) scale(1.0 1.04)" font-size="8.7" text-anchor="middle" fill="#1f1f1f">1</text>
<text transform="translate(242.78 341.71) scale(1.0 1.04)" font-size="8.7" text-anchor="middle" fill="#1f1f1f">2</text>
<text transform="translate(256.47 341.71) scale(1.0 1.04)" font-size="8.7" text-anchor="middle" fill="#1f1f1f">1</text>
<text transform="translate(283.85 341.71) scale(1.0 1.04)" font-size="8.7" text-anchor="middle" fill="#1f1f1f">2</text>
<text transform="translate(66.30 341.45) scale(1.0 1.04)" font-size="8.8" text-anchor="end" fill="#1a1a1a">KCNJ6</text>
<line x1="67.9" y1="338.00" x2="70.4" y2="338.00" stroke="#333" stroke-width="1.1"/>
<text transform="translate(105.88 349.14) scale(1.0 1.04)" font-size="8.7" text-anchor="middle" fill="#1f1f1f">1</text>
<text transform="translate(146.95 349.14) scale(1.0 1.04)" font-size="8.7" text-anchor="middle" fill="#1f1f1f">2</text>
<text transform="translate(160.64 349.14) scale(1.0 1.04)" font-size="8.7" text-anchor="middle" fill="#1f1f1f">2</text>
<text transform="translate(174.33 349.14) scale(1.0 1.04)" font-size="8.7" text-anchor="middle" fill="#1f1f1f">2</text>
<text transform="translate(188.02 349.14) scale(1.0 1.04)" font-size="8.7" text-anchor="middle" fill="#1f1f1f">9</text>
<text transform="translate(201.71 349.14) scale(1.0 1.04)" font-size="8.7" text-anchor="middle" fill="#1f1f1f">1</text>
<text transform="translate(229.09 349.14) scale(1.0 1.04)" font-size="8.7" text-anchor="middle" fill="#1f1f1f">1</text>
<text transform="translate(242.78 349.14) scale(1.0 1.04)" font-size="8.7" text-anchor="middle" fill="#1f1f1f">1</text>
<text transform="translate(283.85 349.14) scale(1.0 1.04)" font-size="8.7" text-anchor="middle" fill="#1f1f1f">2</text>
<text transform="translate(297.54 349.14) scale(1.0 1.04)" font-size="8.7" text-anchor="middle" fill="#1f1f1f">1</text>
<text transform="translate(66.30 348.88) scale(1.0 1.04)" font-size="8.8" text-anchor="end" fill="#1a1a1a">FEM1B</text>
<line x1="67.9" y1="345.43" x2="70.4" y2="345.43" stroke="#333" stroke-width="1.1"/>
<text transform="translate(146.95 356.56) scale(1.0 1.04)" font-size="8.7" text-anchor="middle" fill="#1f1f1f">12</text>
<text transform="translate(66.30 356.30) scale(1.0 1.04)" font-size="8.8" text-anchor="end" fill="#1a1a1a">OR4D1</text>
<line x1="67.9" y1="352.85" x2="70.4" y2="352.85" stroke="#333" stroke-width="1.1"/>
<text transform="translate(146.95 363.99) scale(1.0 1.04)" font-size="8.7" text-anchor="middle" fill="#1f1f1f">12</text>
<text transform="translate(160.64 363.99) scale(1.0 1.04)" font-size="8.7" text-anchor="middle" fill="#1f1f1f">2</text>
<text transform="translate(188.02 363.99) scale(1.0 1.04)" font-size="8.7" text-anchor="middle" fill="#1f1f1f">6</text>
<text transform="translate(201.71 363.99) scale(1.0 1.04)" font-size="8.7" text-anchor="middle" fill="#1f1f1f">1</text>
<text transform="translate(229.09 363.99) scale(1.0 1.04)" font-size="8.7" text-anchor="middle" fill="#1f1f1f">1</text>
<text transform="translate(283.85 363.99) scale(1.0 1.04)" font-size="8.7" text-anchor="middle" fill="#1f1f1f">1</text>
<text transform="translate(66.30 363.73) scale(1.0 1.04)" font-size="8.8" text-anchor="end" fill="#1a1a1a">RAB21</text>
<line x1="67.9" y1="360.27" x2="70.4" y2="360.27" stroke="#333" stroke-width="1.1"/>
<text transform="translate(146.95 371.41) scale(1.0 1.04)" font-size="8.7" text-anchor="middle" fill="#1f1f1f">14</text>
<text transform="translate(160.64 371.41) scale(1.0 1.04)" font-size="8.7" text-anchor="middle" fill="#1f1f1f">1</text>
<text transform="translate(283.85 371.41) scale(1.0 1.04)" font-size="8.7" text-anchor="middle" fill="#1f1f1f">3</text>
<text transform="translate(66.30 371.15) scale(1.0 1.04)" font-size="8.8" text-anchor="end" fill="#1a1a1a">PIK3R2</text>
<line x1="67.9" y1="367.70" x2="70.4" y2="367.70" stroke="#333" stroke-width="1.1"/>
<text transform="translate(146.95 378.84) scale(1.0 1.04)" font-size="8.7" text-anchor="middle" fill="#1f1f1f">11</text>
<text transform="translate(66.30 378.58) scale(1.0 1.04)" font-size="8.8" text-anchor="end" fill="#1a1a1a">TUBA8</text>
<line x1="67.9" y1="375.12" x2="70.4" y2="375.12" stroke="#333" stroke-width="1.1"/>
<text transform="translate(105.88 386.26) scale(1.0 1.04)" font-size="8.7" text-anchor="middle" fill="#1f1f1f">1</text>
<text transform="translate(146.95 386.26) scale(1.0 1.04)" font-size="8.7" text-anchor="middle" fill="#1f1f1f">5</text>
<text transform="translate(160.64 386.26) scale(1.0 1.04)" font-size="8.7" text-anchor="middle" fill="#1f1f1f">2</text>
<text transform="translate(188.02 386.26) scale(1.0 1.04)" font-size="8.7" text-anchor="middle" fill="#1f1f1f">6</text>
<text transform="translate(229.09 386.26) scale(1.0 1.04)" font-size="8.7" text-anchor="middle" fill="#1f1f1f">1</text>
<text transform="translate(283.85 386.26) scale(1.0 1.04)" font-size="8.7" text-anchor="middle" fill="#1f1f1f">4</text>
<text transform="translate(66.30 386.00) scale(1.0 1.04)" font-size="8.8" text-anchor="end" fill="#1a1a1a">SERTAD4</text>
<line x1="67.9" y1="382.55" x2="70.4" y2="382.55" stroke="#333" stroke-width="1.1"/>
<text transform="translate(105.88 393.69) scale(1.0 1.04)" font-size="8.7" text-anchor="middle" fill="#1f1f1f">1</text>
<text transform="translate(146.95 393.69) scale(1.0 1.04)" font-size="8.7" text-anchor="middle" fill="#1f1f1f">8</text>
<text transform="translate(188.02 393.69) scale(1.0 1.04)" font-size="8.7" text-anchor="middle" fill="#1f1f1f">3</text>
<text transform="translate(270.16 393.69) scale(1.0 1.04)" font-size="8.7" text-anchor="middle" fill="#1f1f1f">1</text>
<text transform="translate(283.85 393.69) scale(1.0 1.04)" font-size="8.7" text-anchor="middle" fill="#1f1f1f">2</text>
<text transform="translate(66.30 393.43) scale(1.0 1.04)" font-size="8.8" text-anchor="end" fill="#1a1a1a">ZBTB25</text>
<line x1="67.9" y1="389.98" x2="70.4" y2="389.98" stroke="#333" stroke-width="1.1"/>
<text transform="translate(78.50 401.11) scale(1.0 1.04)" font-size="8.7" text-anchor="middle" fill="#1f1f1f">1</text>
<text transform="translate(105.88 401.11) scale(1.0 1.04)" font-size="8.7" text-anchor="middle" fill="#1f1f1f">1</text>
<text transform="translate(146.95 401.11) scale(1.0 1.04)" font-size="8.7" text-anchor="middle" fill="#1f1f1f">12</text>
<text transform="translate(160.64 401.11) scale(1.0 1.04)" font-size="8.7" text-anchor="middle" fill="#1f1f1f">1</text>
<text transform="translate(188.02 401.11) scale(1.0 1.04)" font-size="8.7" text-anchor="middle" fill="#1f1f1f">6</text>
<text transform="translate(242.78 401.11) scale(1.0 1.04)" font-size="8.7" text-anchor="middle" fill="#1f1f1f">1</text>
<text transform="translate(270.16 401.11) scale(1.0 1.04)" font-size="8.7" text-anchor="middle" fill="#1f1f1f">1</text>
<text transform="translate(66.30 400.85) scale(1.0 1.04)" font-size="8.8" text-anchor="end" fill="#1a1a1a">POGK</text>
<line x1="67.9" y1="397.40" x2="70.4" y2="397.40" stroke="#333" stroke-width="1.1"/>
<text transform="translate(105.88 408.54) scale(1.0 1.04)" font-size="8.7" text-anchor="middle" fill="#1f1f1f">1</text>
<text transform="translate(146.95 408.54) scale(1.0 1.04)" font-size="8.7" text-anchor="middle" fill="#1f1f1f">25</text>
<text transform="translate(160.64 408.54) scale(1.0 1.04)" font-size="8.7" text-anchor="middle" fill="#1f1f1f">6</text>
<text transform="translate(188.02 408.54) scale(1.0 1.04)" font-size="8.7" text-anchor="middle" fill="#1f1f1f">7</text>
<text transform="translate(201.71 408.54) scale(1.0 1.04)" font-size="8.7" text-anchor="middle" fill="#1f1f1f">6</text>
<text transform="translate(270.16 408.54) scale(1.0 1.04)" font-size="8.7" text-anchor="middle" fill="#1f1f1f">1</text>
<text transform="translate(283.85 408.54) scale(1.0 1.04)" font-size="8.7" text-anchor="middle" fill="#1f1f1f">8</text>
<text transform="translate(297.54 408.54) scale(1.0 1.04)" font-size="8.7" text-anchor="middle" fill="#1f1f1f">2</text>
<text transform="translate(66.30 408.28) scale(1.0 1.04)" font-size="8.8" text-anchor="end" fill="#1a1a1a">NEGR1</text>
<line x1="67.9" y1="404.82" x2="70.4" y2="404.82" stroke="#333" stroke-width="1.1"/>
<text transform="translate(146.95 415.96) scale(1.0 1.04)" font-size="8.7" text-anchor="middle" fill="#1f1f1f">2</text>
<text transform="translate(188.02 415.96) scale(1.0 1.04)" font-size="8.7" text-anchor="middle" fill="#1f1f1f">1</text>
<text transform="translate(270.16 415.96) scale(1.0 1.04)" font-size="8.7" text-anchor="middle" fill="#1f1f1f">1</text>
<text transform="translate(66.30 415.70) scale(1.0 1.04)" font-size="8.8" text-anchor="end" fill="#1a1a1a">PLCG2</text>
<line x1="67.9" y1="412.25" x2="70.4" y2="412.25" stroke="#333" stroke-width="1.1"/>
<text transform="translate(146.95 423.39) scale(1.0 1.04)" font-size="8.7" text-anchor="middle" fill="#1f1f1f">4</text>
<text transform="translate(160.64 423.39) scale(1.0 1.04)" font-size="8.7" text-anchor="middle" fill="#1f1f1f">3</text>
<text transform="translate(188.02 423.39) scale(1.0 1.04)" font-size="8.7" text-anchor="middle" fill="#1f1f1f">6</text>
<text transform="translate(201.71 423.39) scale(1.0 1.04)" font-size="8.7" text-anchor="middle" fill="#1f1f1f">4</text>
<text transform="translate(229.09 423.39) scale(1.0 1.04)" font-size="8.7" text-anchor="middle" fill="#1f1f1f">1</text>
<text transform="translate(242.78 423.39) scale(1.0 1.04)" font-size="8.7" text-anchor="middle" fill="#1f1f1f">2</text>
<text transform="translate(270.16 423.39) scale(1.0 1.04)" font-size="8.7" text-anchor="middle" fill="#1f1f1f">1</text>
<text transform="translate(283.85 423.39) scale(1.0 1.04)" font-size="8.7" text-anchor="middle" fill="#1f1f1f">6</text>
<text transform="translate(66.30 423.13) scale(1.0 1.04)" font-size="8.8" text-anchor="end" fill="#1a1a1a">FAM171B</text>
<line x1="67.9" y1="419.68" x2="70.4" y2="419.68" stroke="#333" stroke-width="1.1"/>
<text transform="translate(146.95 430.81) scale(1.0 1.04)" font-size="8.7" text-anchor="middle" fill="#1f1f1f">1</text>
<text transform="translate(160.64 430.81) scale(1.0 1.04)" font-size="8.7" text-anchor="middle" fill="#1f1f1f">2</text>
<text transform="translate(188.02 430.81) scale(1.0 1.04)" font-size="8.7" text-anchor="middle" fill="#1f1f1f">5</text>
<text transform="translate(201.71 430.81) scale(1.0 1.04)" font-size="8.7" text-anchor="middle" fill="#1f1f1f">1</text>
<text transform="translate(229.09 430.81) scale(1.0 1.04)" font-size="8.7" text-anchor="middle" fill="#1f1f1f">1</text>
<text transform="translate(256.47 430.81) scale(1.0 1.04)" font-size="8.7" text-anchor="middle" fill="#1f1f1f">1</text>
<text transform="translate(270.16 430.81) scale(1.0 1.04)" font-size="8.7" text-anchor="middle" fill="#1f1f1f">3</text>
<text transform="translate(283.85 430.81) scale(1.0 1.04)" font-size="8.7" text-anchor="middle" fill="#1f1f1f">7</text>
<text transform="translate(297.54 430.81) scale(1.0 1.04)" font-size="8.7" text-anchor="middle" fill="#1f1f1f">1</text>
<text transform="translate(66.30 430.55) scale(1.0 1.04)" font-size="8.8" text-anchor="end" fill="#1a1a1a">TRIM71</text>
<line x1="67.9" y1="427.10" x2="70.4" y2="427.10" stroke="#333" stroke-width="1.1"/>
<text transform="translate(160.64 438.24) scale(1.0 1.04)" font-size="8.7" text-anchor="middle" fill="#1f1f1f">1</text>
<text transform="translate(242.78 438.24) scale(1.0 1.04)" font-size="8.7" text-anchor="middle" fill="#1f1f1f">1</text>
<text transform="translate(256.47 438.24) scale(1.0 1.04)" font-size="8.7" text-anchor="middle" fill="#1f1f1f">1</text>
<text transform="translate(66.30 437.98) scale(1.0 1.04)" font-size="8.8" text-anchor="end" fill="#1a1a1a">AKR1C1</text>
<line x1="67.9" y1="434.52" x2="70.4" y2="434.52" stroke="#333" stroke-width="1.1"/>
<rect x="70.4" y="7.4" width="234.20" height="431.00" fill="none" stroke="#555" stroke-width="1.05"/>
<line x1="78.00" y1="438.4" x2="78.00" y2="441.0" stroke="#333" stroke-width="1.1"/>
<text transform="rotate(-45 85.10 447.40) translate(85.10 447.40) scale(1.0 1.04)" font-size="10.0" text-anchor="end" fill="#1a1a1a">Biliary−AdenoCA</text>
<line x1="91.69" y1="438.4" x2="91.69" y2="441.0" stroke="#333" stroke-width="1.1"/>
<text transform="rotate(-45 98.79 447.40) translate(98.79 447.40) scale(1.0 1.04)" font-size="10.0" text-anchor="end" fill="#1a1a1a">Bone−Osteosarc</text>
<line x1="105.38" y1="438.4" x2="105.38" y2="441.0" stroke="#333" stroke-width="1.1"/>
<text transform="rotate(-45 112.48 447.40) translate(112.48 447.40) scale(1.0 1.04)" font-size="10.0" text-anchor="end" fill="#1a1a1a">Breast−AdenoCa</text>
<line x1="119.07" y1="438.4" x2="119.07" y2="441.0" stroke="#333" stroke-width="1.1"/>
<text transform="rotate(-45 126.17 447.40) translate(126.17 447.40) scale(1.0 1.04)" font-size="10.0" text-anchor="end" fill="#1a1a1a">CNS−Medullo</text>
<line x1="132.76" y1="438.4" x2="132.76" y2="441.0" stroke="#333" stroke-width="1.1"/>
<text transform="rotate(-45 139.86 447.40) translate(139.86 447.40) scale(1.0 1.04)" font-size="10.0" text-anchor="end" fill="#1a1a1a">CNS−PiloAstro</text>
<line x1="146.45" y1="438.4" x2="146.45" y2="441.0" stroke="#333" stroke-width="1.1"/>
<text transform="rotate(-45 153.55 447.40) translate(153.55 447.40) scale(1.0 1.04)" font-size="10.0" text-anchor="end" fill="#1a1a1a">ESCC</text>
<line x1="160.14" y1="438.4" x2="160.14" y2="441.0" stroke="#333" stroke-width="1.1"/>
<text transform="rotate(-45 167.24 447.40) translate(167.24 447.40) scale(1.0 1.04)" font-size="10.0" text-anchor="end" fill="#1a1a1a">Eso−AdenoCa</text>
<line x1="173.83" y1="438.4" x2="173.83" y2="441.0" stroke="#333" stroke-width="1.1"/>
<text transform="rotate(-45 180.93 447.40) translate(180.93 447.40) scale(1.0 1.04)" font-size="10.0" text-anchor="end" fill="#1a1a1a">Kidney−RCC</text>
<line x1="187.52" y1="438.4" x2="187.52" y2="441.0" stroke="#333" stroke-width="1.1"/>
<text transform="rotate(-45 194.62 447.40) translate(194.62 447.40) scale(1.0 1.04)" font-size="10.0" text-anchor="end" fill="#1a1a1a">Liver−HCC</text>
<line x1="201.21" y1="438.4" x2="201.21" y2="441.0" stroke="#333" stroke-width="1.1"/>
<text transform="rotate(-45 208.31 447.40) translate(208.31 447.40) scale(1.0 1.04)" font-size="10.0" text-anchor="end" fill="#1a1a1a">Lymph−BNHL</text>
<line x1="214.90" y1="438.4" x2="214.90" y2="441.0" stroke="#333" stroke-width="1.1"/>
<text transform="rotate(-45 222.00 447.40) translate(222.00 447.40) scale(1.0 1.04)" font-size="10.0" text-anchor="end" fill="#1a1a1a">Lymph−CLL</text>
<line x1="228.59" y1="438.4" x2="228.59" y2="441.0" stroke="#333" stroke-width="1.1"/>
<text transform="rotate(-45 235.69 447.40) translate(235.69 447.40) scale(1.0 1.04)" font-size="10.0" text-anchor="end" fill="#1a1a1a">Ovary−AdenoCA</text>
<line x1="242.28" y1="438.4" x2="242.28" y2="441.0" stroke="#333" stroke-width="1.1"/>
<text transform="rotate(-45 249.38 447.40) translate(249.38 447.40) scale(1.0 1.04)" font-size="10.0" text-anchor="end" fill="#1a1a1a">Panc−AdenoCA</text>
<line x1="255.97" y1="438.4" x2="255.97" y2="441.0" stroke="#333" stroke-width="1.1"/>
<text transform="rotate(-45 263.07 447.40) translate(263.07 447.40) scale(1.0 1.04)" font-size="10.0" text-anchor="end" fill="#1a1a1a">Panc−Endocrine</text>
<line x1="269.66" y1="438.4" x2="269.66" y2="441.0" stroke="#333" stroke-width="1.1"/>
<text transform="rotate(-45 276.76 447.40) translate(276.76 447.40) scale(1.0 1.04)" font-size="10.0" text-anchor="end" fill="#1a1a1a">Prost−AdenoCA</text>
<line x1="283.35" y1="438.4" x2="283.35" y2="441.0" stroke="#333" stroke-width="1.1"/>
<text transform="rotate(-45 290.45 447.40) translate(290.45 447.40) scale(1.0 1.04)" font-size="10.0" text-anchor="end" fill="#1a1a1a">Skin−Melanoma</text>
<line x1="297.04" y1="438.4" x2="297.04" y2="441.0" stroke="#333" stroke-width="1.1"/>
<text transform="rotate(-45 304.14 447.40) translate(304.14 447.40) scale(1.0 1.04)" font-size="10.0" text-anchor="end" fill="#1a1a1a">Stomach−AdenoCA</text>
<text transform="translate(0.00 12.70) scale(1.0 1.04)" font-size="15.6" text-anchor="start" fill="#000">a</text>
<text transform="translate(422.50 17.53) scale(1.0 1.04)" font-size="13.6" text-anchor="end" fill="#1a1a1a" stroke="#1a1a1a" stroke-width="0.3">RNF217</text>
<line x1="424.7" y1="12.26" x2="427.2" y2="12.26" stroke="#333" stroke-width="1.1"/>
<circle cx="444.00" cy="12.26" r="2.00" fill="#8f88c2"/>
<circle cx="472.22" cy="12.26" r="1.50" fill="#f6e7e2"/>
<circle cx="500.44" cy="12.26" r="2.75" fill="#ec8463"/>
<circle cx="528.66" cy="12.26" r="2.25" fill="#f6c8b6"/>
<circle cx="585.10" cy="12.26" r="1.90" fill="#6e6ab4"/>
<circle cx="613.32" cy="12.26" r="1.75" fill="#eeeded"/>
<text transform="translate(422.50 29.47) scale(1.0 1.04)" font-size="13.6" text-anchor="end" fill="#1a1a1a" stroke="#1a1a1a" stroke-width="0.3">PGAM2</text>
<line x1="424.7" y1="24.20" x2="427.2" y2="24.20" stroke="#333" stroke-width="1.1"/>
<circle cx="444.00" cy="24.20" r="1.75" fill="#f8d5c8"/>
<circle cx="472.22" cy="24.20" r="2.50" fill="#ed8e6d"/>
<circle cx="528.66" cy="24.20" r="2.25" fill="#9992c8"/>
<circle cx="556.88" cy="24.20" r="1.75" fill="#aea5d4"/>
<circle cx="585.10" cy="24.20" r="2.00" fill="#6663b0"/>
<circle cx="613.32" cy="24.20" r="1.50" fill="#eeeded"/>
<text transform="translate(422.50 41.41) scale(1.0 1.04)" font-size="13.6" text-anchor="end" fill="#1a1a1a" stroke="#1a1a1a" stroke-width="0.3">RBBP4</text>
<line x1="424.7" y1="36.15" x2="427.2" y2="36.15" stroke="#333" stroke-width="1.1"/>
<circle cx="444.00" cy="36.15" r="2.00" fill="#f7cebf"/>
<circle cx="472.22" cy="36.15" r="2.50" fill="#f7cebf"/>
<circle cx="528.66" cy="36.15" r="2.75" fill="#f8d5c8"/>
<circle cx="556.88" cy="36.15" r="1.75" fill="#f2eae8"/>
<circle cx="585.10" cy="36.15" r="2.00" fill="#f4bba5"/>
<circle cx="613.32" cy="36.15" r="2.00" fill="#f5c2ae"/>
<text transform="translate(422.50 53.36) scale(1.0 1.04)" font-size="13.6" text-anchor="end" fill="#1a1a1a" stroke="#1a1a1a" stroke-width="0.3">CDYL2</text>
<line x1="424.7" y1="48.09" x2="427.2" y2="48.09" stroke="#333" stroke-width="1.1"/>
<circle cx="472.22" cy="48.09" r="2.00" fill="#c5bee1"/>
<circle cx="500.44" cy="48.09" r="2.00" fill="#f2ae92"/>
<circle cx="528.66" cy="48.09" r="2.50" fill="#f8d5c8"/>
<circle cx="556.88" cy="48.09" r="2.25" fill="#e84a35"/>
<circle cx="585.10" cy="48.09" r="1.50" fill="#eeeded"/>
<circle cx="613.32" cy="48.09" r="1.75" fill="#f6c8b6"/>
<text transform="translate(422.50 65.30) scale(1.0 1.04)" font-size="13.6" text-anchor="end" fill="#1a1a1a" stroke="#1a1a1a" stroke-width="0.3">PREX2</text>
<line x1="424.7" y1="60.03" x2="427.2" y2="60.03" stroke="#333" stroke-width="1.1"/>
<circle cx="444.00" cy="60.03" r="1.75" fill="#f8d5c8"/>
<circle cx="472.22" cy="60.03" r="1.50" fill="#f2eae8"/>
<circle cx="500.44" cy="60.03" r="2.50" fill="#e8161b"/>
<circle cx="528.66" cy="60.03" r="2.75" fill="#8f88c2"/>
<circle cx="556.88" cy="60.03" r="2.00" fill="#ea6e51"/>
<circle cx="613.32" cy="60.03" r="2.25" fill="#2348a0"/>
<text transform="translate(422.50 77.24) scale(1.0 1.04)" font-size="13.6" text-anchor="end" fill="#1a1a1a" stroke="#1a1a1a" stroke-width="0.3">ADAMTS12</text>
<line x1="424.7" y1="71.97" x2="427.2" y2="71.97" stroke="#333" stroke-width="1.1"/>
<circle cx="444.00" cy="71.97" r="1.25" fill="#eeeded"/>
<circle cx="500.44" cy="71.97" r="2.00" fill="#ee9776"/>
<circle cx="528.66" cy="71.97" r="5.50" fill="#e41315"/>
<circle cx="556.88" cy="71.97" r="2.00" fill="#e84a35"/>
<circle cx="585.10" cy="71.97" r="2.25" fill="#e8161b"/>
<circle cx="613.32" cy="71.97" r="2.00" fill="#ea6e51"/>
<text transform="translate(422.50 89.19) scale(1.0 1.04)" font-size="13.6" text-anchor="end" fill="#1a1a1a" stroke="#1a1a1a" stroke-width="0.3">GPATCH2L</text>
<line x1="424.7" y1="83.92" x2="427.2" y2="83.92" stroke="#333" stroke-width="1.1"/>
<circle cx="500.44" cy="83.92" r="1.50" fill="#eeeded"/>
<circle cx="528.66" cy="83.92" r="1.75" fill="#f6e7e2"/>
<text transform="translate(422.50 101.13) scale(1.0 1.04)" font-size="13.6" text-anchor="end" fill="#1a1a1a" stroke="#1a1a1a" stroke-width="0.3">AGO2</text>
<line x1="424.7" y1="95.86" x2="427.2" y2="95.86" stroke="#333" stroke-width="1.1"/>
<circle cx="500.44" cy="95.86" r="2.00" fill="#f8d5c8"/>
<circle cx="528.66" cy="95.86" r="2.75" fill="#f6c8b6"/>
<text transform="translate(422.50 113.07) scale(1.0 1.04)" font-size="13.6" text-anchor="end" fill="#1a1a1a" stroke="#1a1a1a" stroke-width="0.3">PROX1</text>
<line x1="424.7" y1="107.80" x2="427.2" y2="107.80" stroke="#333" stroke-width="1.1"/>
<circle cx="444.00" cy="107.80" r="2.00" fill="#4b52a7"/>
<circle cx="472.22" cy="107.80" r="2.25" fill="#a49bce"/>
<circle cx="500.44" cy="107.80" r="2.25" fill="#3849a2"/>
<circle cx="528.66" cy="107.80" r="1.75" fill="#dbd7ec"/>
<circle cx="556.88" cy="107.80" r="1.50" fill="#eeeded"/>
<circle cx="585.10" cy="107.80" r="2.00" fill="#e96347"/>
<circle cx="613.32" cy="107.80" r="2.00" fill="#6e6ab4"/>
<text transform="translate(422.50 125.02) scale(1.0 1.04)" font-size="13.6" text-anchor="end" fill="#1a1a1a" stroke="#1a1a1a" stroke-width="0.3">PLXDC2</text>
<line x1="424.7" y1="119.75" x2="427.2" y2="119.75" stroke="#333" stroke-width="1.1"/>
<circle cx="444.00" cy="119.75" r="2.25" fill="#ee9776"/>
<circle cx="472.22" cy="119.75" r="1.75" fill="#f8e3dc"/>
<circle cx="500.44" cy="119.75" r="2.25" fill="#f4bba5"/>
<circle cx="528.66" cy="119.75" r="2.25" fill="#cdc7e5"/>
<circle cx="556.88" cy="119.75" r="1.25" fill="#eeeded"/>
<circle cx="585.10" cy="119.75" r="1.50" fill="#dbd7ec"/>
<circle cx="613.32" cy="119.75" r="1.75" fill="#f8d5c8"/>
<text transform="translate(422.50 136.96) scale(1.0 1.04)" font-size="13.6" text-anchor="end" fill="#1a1a1a" stroke="#1a1a1a" stroke-width="0.3">DNAJC10</text>
<line x1="424.7" y1="131.69" x2="427.2" y2="131.69" stroke="#333" stroke-width="1.1"/>
<circle cx="444.00" cy="131.69" r="2.00" fill="#f5c2ae"/>
<circle cx="472.22" cy="131.69" r="1.75" fill="#f6e7e2"/>
<circle cx="500.44" cy="131.69" r="1.25" fill="#eeeded"/>
<circle cx="528.66" cy="131.69" r="1.75" fill="#f8e3dc"/>
<circle cx="556.88" cy="131.69" r="1.75" fill="#dbd7ec"/>
<circle cx="585.10" cy="131.69" r="2.00" fill="#e96347"/>
<circle cx="613.32" cy="131.69" r="2.00" fill="#f6c8b6"/>
<text transform="translate(422.50 148.90) scale(1.0 1.04)" font-size="13.6" text-anchor="end" fill="#1a1a1a" stroke="#1a1a1a" stroke-width="0.3">OGFRL1</text>
<line x1="424.7" y1="143.63" x2="427.2" y2="143.63" stroke="#333" stroke-width="1.1"/>
<circle cx="444.00" cy="143.63" r="2.00" fill="#f4bba5"/>
<circle cx="472.22" cy="143.63" r="1.00" fill="#eeeded"/>
<circle cx="500.44" cy="143.63" r="2.25" fill="#f0a080"/>
<circle cx="528.66" cy="143.63" r="3.00" fill="#8f88c2"/>
<circle cx="585.10" cy="143.63" r="2.25" fill="#2348a0"/>
<text transform="translate(422.50 160.84) scale(1.0 1.04)" font-size="13.6" text-anchor="end" fill="#1a1a1a" stroke="#1a1a1a" stroke-width="0.3">PIK3CA</text>
<line x1="424.7" y1="155.58" x2="427.2" y2="155.58" stroke="#333" stroke-width="1.1"/>
<circle cx="444.00" cy="155.58" r="1.75" fill="#eeeded"/>
<circle cx="472.22" cy="155.58" r="1.00" fill="#eeeded"/>
<circle cx="500.44" cy="155.58" r="1.00" fill="#eeeded"/>
<circle cx="528.66" cy="155.58" r="2.25" fill="#f7cebf"/>
<circle cx="556.88" cy="155.58" r="1.50" fill="#f8e3dc"/>
<text transform="translate(422.50 172.79) scale(1.0 1.04)" font-size="13.6" text-anchor="end" fill="#1a1a1a" stroke="#1a1a1a" stroke-width="0.3">CEP43</text>
<line x1="424.7" y1="167.52" x2="427.2" y2="167.52" stroke="#333" stroke-width="1.1"/>
<circle cx="444.00" cy="167.52" r="2.00" fill="#aea5d4"/>
<circle cx="472.22" cy="167.52" r="2.00" fill="#cdc7e5"/>
<circle cx="500.44" cy="167.52" r="2.25" fill="#f2ae92"/>
<circle cx="528.66" cy="167.52" r="2.00" fill="#f8ded5"/>
<circle cx="556.88" cy="167.52" r="1.50" fill="#eeeded"/>
<circle cx="585.10" cy="167.52" r="1.75" fill="#f7cebf"/>
<circle cx="613.32" cy="167.52" r="2.00" fill="#f4bba5"/>
<text transform="translate(422.50 184.73) scale(1.0 1.04)" font-size="13.6" text-anchor="end" fill="#1a1a1a" stroke="#1a1a1a" stroke-width="0.3">DYNLL2</text>
<line x1="424.7" y1="179.46" x2="427.2" y2="179.46" stroke="#333" stroke-width="1.1"/>
<circle cx="444.00" cy="179.46" r="2.00" fill="#aea5d4"/>
<circle cx="472.22" cy="179.46" r="1.75" fill="#d4cfe8"/>
<circle cx="528.66" cy="179.46" r="1.25" fill="#eeeded"/>
<circle cx="585.10" cy="179.46" r="1.75" fill="#e2dfef"/>
<circle cx="613.32" cy="179.46" r="1.75" fill="#f8d5c8"/>
<text transform="translate(422.50 196.67) scale(1.0 1.04)" font-size="13.6" text-anchor="end" fill="#1a1a1a" stroke="#1a1a1a" stroke-width="0.3">HDAC9</text>
<line x1="424.7" y1="191.40" x2="427.2" y2="191.40" stroke="#333" stroke-width="1.1"/>
<circle cx="444.00" cy="191.40" r="2.00" fill="#f2ae92"/>
<circle cx="472.22" cy="191.40" r="2.25" fill="#a49bce"/>
<circle cx="500.44" cy="191.40" r="1.75" fill="#f7cebf"/>
<circle cx="528.66" cy="191.40" r="2.50" fill="#f6c8b6"/>
<circle cx="556.88" cy="191.40" r="1.75" fill="#f8e3dc"/>
<circle cx="585.10" cy="191.40" r="1.75" fill="#f4bba5"/>
<circle cx="613.32" cy="191.40" r="1.75" fill="#f6c8b6"/>
<text transform="translate(422.50 208.62) scale(1.0 1.04)" font-size="13.6" text-anchor="end" fill="#1a1a1a" stroke="#1a1a1a" stroke-width="0.3">LRRC28</text>
<line x1="424.7" y1="203.35" x2="427.2" y2="203.35" stroke="#333" stroke-width="1.1"/>
<circle cx="444.00" cy="203.35" r="2.25" fill="#8f88c2"/>
<circle cx="472.22" cy="203.35" r="1.50" fill="#eeeded"/>
<circle cx="500.44" cy="203.35" r="3.00" fill="#8781be"/>
<circle cx="528.66" cy="203.35" r="1.50" fill="#eeeded"/>
<circle cx="585.10" cy="203.35" r="1.75" fill="#aea5d4"/>
<text transform="translate(422.50 220.56) scale(1.0 1.04)" font-size="13.6" text-anchor="end" fill="#1a1a1a" stroke="#1a1a1a" stroke-width="0.3">VLDLR</text>
<line x1="424.7" y1="215.29" x2="427.2" y2="215.29" stroke="#333" stroke-width="1.1"/>
<circle cx="444.00" cy="215.29" r="2.00" fill="#f0a080"/>
<circle cx="472.22" cy="215.29" r="2.50" fill="#ea6e51"/>
<circle cx="500.44" cy="215.29" r="2.25" fill="#f2ae92"/>
<circle cx="528.66" cy="215.29" r="2.75" fill="#8f88c2"/>
<circle cx="585.10" cy="215.29" r="2.00" fill="#2d48a1"/>
<circle cx="613.32" cy="215.29" r="1.50" fill="#eeeded"/>
<text transform="translate(422.50 232.50) scale(1.0 1.04)" font-size="13.6" text-anchor="end" fill="#1a1a1a" stroke="#1a1a1a" stroke-width="0.3">HHIP</text>
<line x1="424.7" y1="227.23" x2="427.2" y2="227.23" stroke="#333" stroke-width="1.1"/>
<circle cx="444.00" cy="227.23" r="2.50" fill="#2348a0"/>
<circle cx="472.22" cy="227.23" r="3.25" fill="#2348a0"/>
<circle cx="500.44" cy="227.23" r="1.75" fill="#aea5d4"/>
<circle cx="528.66" cy="227.23" r="2.75" fill="#e8563e"/>
<circle cx="556.88" cy="227.23" r="1.50" fill="#f8dacf"/>
<circle cx="585.10" cy="227.23" r="1.75" fill="#6e6ab4"/>
<circle cx="613.32" cy="227.23" r="1.75" fill="#cdc7e5"/>
<text transform="translate(422.50 244.45) scale(1.0 1.04)" font-size="13.6" text-anchor="end" fill="#1a1a1a" stroke="#1a1a1a" stroke-width="0.3">SLC6A11</text>
<line x1="424.7" y1="239.18" x2="427.2" y2="239.18" stroke="#333" stroke-width="1.1"/>
<circle cx="444.00" cy="239.18" r="1.50" fill="#eeeded"/>
<circle cx="472.22" cy="239.18" r="1.25" fill="#eeeded"/>
<circle cx="500.44" cy="239.18" r="2.00" fill="#ed8e6d"/>
<circle cx="528.66" cy="239.18" r="2.00" fill="#c5bee1"/>
<circle cx="556.88" cy="239.18" r="2.25" fill="#e8161b"/>
<circle cx="585.10" cy="239.18" r="2.00" fill="#1c3f97"/>
<circle cx="613.32" cy="239.18" r="2.25" fill="#e8161b"/>
<text transform="translate(422.50 256.39) scale(1.0 1.04)" font-size="13.6" text-anchor="end" fill="#1a1a1a" stroke="#1a1a1a" stroke-width="0.3">SCGB1B2P</text>
<line x1="424.7" y1="251.12" x2="427.2" y2="251.12" stroke="#333" stroke-width="1.1"/>
<text transform="translate(422.50 268.33) scale(1.0 1.04)" font-size="13.6" text-anchor="end" fill="#1a1a1a" stroke="#1a1a1a" stroke-width="0.3">SYCE1L</text>
<line x1="424.7" y1="263.06" x2="427.2" y2="263.06" stroke="#333" stroke-width="1.1"/>
<circle cx="444.00" cy="263.06" r="2.00" fill="#ed8e6d"/>
<circle cx="472.22" cy="263.06" r="1.25" fill="#eeeded"/>
<circle cx="500.44" cy="263.06" r="2.25" fill="#ec8463"/>
<circle cx="528.66" cy="263.06" r="1.00" fill="#eeeded"/>
<circle cx="556.88" cy="263.06" r="2.00" fill="#ec8463"/>
<circle cx="585.10" cy="263.06" r="1.75" fill="#aea5d4"/>
<circle cx="613.32" cy="263.06" r="1.75" fill="#9992c8"/>
<text transform="translate(422.50 280.27) scale(1.0 1.04)" font-size="13.6" text-anchor="end" fill="#1a1a1a" stroke="#1a1a1a" stroke-width="0.3">PRDM6</text>
<line x1="424.7" y1="275.01" x2="427.2" y2="275.01" stroke="#333" stroke-width="1.1"/>
<circle cx="444.00" cy="275.01" r="2.00" fill="#f2ae92"/>
<circle cx="500.44" cy="275.01" r="2.00" fill="#f2ae92"/>
<circle cx="528.66" cy="275.01" r="2.00" fill="#cdc7e5"/>
<circle cx="556.88" cy="275.01" r="2.00" fill="#ea795a"/>
<circle cx="585.10" cy="275.01" r="1.75" fill="#dbd7ec"/>
<circle cx="613.32" cy="275.01" r="1.75" fill="#dbd7ec"/>
<text transform="translate(422.50 292.22) scale(1.0 1.04)" font-size="13.6" text-anchor="end" fill="#1a1a1a" stroke="#1a1a1a" stroke-width="0.3">NUDCD2</text>
<line x1="424.7" y1="286.95" x2="427.2" y2="286.95" stroke="#333" stroke-width="1.1"/>
<circle cx="472.22" cy="286.95" r="2.50" fill="#f8d5c8"/>
<circle cx="500.44" cy="286.95" r="1.50" fill="#eeeded"/>
<circle cx="556.88" cy="286.95" r="1.25" fill="#eeeded"/>
<circle cx="585.10" cy="286.95" r="1.75" fill="#f6c8b6"/>
<circle cx="613.32" cy="286.95" r="1.50" fill="#f6e7e2"/>
<text transform="translate(422.50 304.16) scale(1.0 1.04)" font-size="13.6" text-anchor="end" fill="#1a1a1a" stroke="#1a1a1a" stroke-width="0.3">EGFR</text>
<line x1="424.7" y1="298.89" x2="427.2" y2="298.89" stroke="#333" stroke-width="1.1"/>
<circle cx="444.00" cy="298.89" r="2.25" fill="#8f88c2"/>
<circle cx="472.22" cy="298.89" r="1.75" fill="#e6e4ee"/>
<circle cx="500.44" cy="298.89" r="3.00" fill="#e8161b"/>
<circle cx="528.66" cy="298.89" r="2.75" fill="#f2ae92"/>
<circle cx="556.88" cy="298.89" r="1.75" fill="#f7cebf"/>
<circle cx="585.10" cy="298.89" r="1.75" fill="#8f88c2"/>
<circle cx="613.32" cy="298.89" r="1.75" fill="#8f88c2"/>
<text transform="translate(422.50 316.10) scale(1.0 1.04)" font-size="13.6" text-anchor="end" fill="#1a1a1a" stroke="#1a1a1a" stroke-width="0.3">IRAK1BP1</text>
<line x1="424.7" y1="310.83" x2="427.2" y2="310.83" stroke="#333" stroke-width="1.1"/>
<circle cx="444.00" cy="310.83" r="1.75" fill="#f7cebf"/>
<circle cx="472.22" cy="310.83" r="1.75" fill="#f8ded5"/>
<circle cx="500.44" cy="310.83" r="2.00" fill="#a49bce"/>
<circle cx="528.66" cy="310.83" r="1.75" fill="#dbd7ec"/>
<circle cx="556.88" cy="310.83" r="1.75" fill="#beb6dc"/>
<circle cx="613.32" cy="310.83" r="1.00" fill="#eeeded"/>
<text transform="translate(422.50 328.05) scale(1.0 1.04)" font-size="13.6" text-anchor="end" fill="#1a1a1a" stroke="#1a1a1a" stroke-width="0.3">RPS6KC1</text>
<line x1="424.7" y1="322.78" x2="427.2" y2="322.78" stroke="#333" stroke-width="1.1"/>
<circle cx="444.00" cy="322.78" r="1.75" fill="#f8ded5"/>
<circle cx="472.22" cy="322.78" r="3.00" fill="#f6c8b6"/>
<circle cx="500.44" cy="322.78" r="1.50" fill="#eeeded"/>
<circle cx="528.66" cy="322.78" r="3.00" fill="#f8d5c8"/>
<circle cx="556.88" cy="322.78" r="2.00" fill="#f0a080"/>
<circle cx="585.10" cy="322.78" r="1.50" fill="#f8dacf"/>
<circle cx="613.32" cy="322.78" r="2.00" fill="#f4bba5"/>
<text transform="translate(422.50 339.99) scale(1.0 1.04)" font-size="13.6" text-anchor="end" fill="#1a1a1a" stroke="#1a1a1a" stroke-width="0.3">MAPK8IP2</text>
<line x1="424.7" y1="334.72" x2="427.2" y2="334.72" stroke="#333" stroke-width="1.1"/>
<circle cx="444.00" cy="334.72" r="2.25" fill="#e8161b"/>
<circle cx="472.22" cy="334.72" r="3.75" fill="#e61418"/>
<circle cx="528.66" cy="334.72" r="2.75" fill="#f0a080"/>
<circle cx="556.88" cy="334.72" r="2.00" fill="#f2ae92"/>
<circle cx="585.10" cy="334.72" r="2.00" fill="#ec8463"/>
<circle cx="613.32" cy="334.72" r="2.25" fill="#e84a35"/>
<text transform="translate(422.50 351.93) scale(1.0 1.04)" font-size="13.6" text-anchor="end" fill="#1a1a1a" stroke="#1a1a1a" stroke-width="0.3">RPAP2</text>
<line x1="424.7" y1="346.66" x2="427.2" y2="346.66" stroke="#333" stroke-width="1.1"/>
<circle cx="472.22" cy="346.66" r="1.00" fill="#eeeded"/>
<circle cx="500.44" cy="346.66" r="1.75" fill="#e2dfef"/>
<circle cx="528.66" cy="346.66" r="1.75" fill="#f6e7e2"/>
<circle cx="556.88" cy="346.66" r="1.75" fill="#f8dacf"/>
<circle cx="585.10" cy="346.66" r="1.00" fill="#eeeded"/>
<circle cx="613.32" cy="346.66" r="1.75" fill="#f8d5c8"/>
<text transform="translate(422.50 363.88) scale(1.0 1.04)" font-size="13.6" text-anchor="end" fill="#1a1a1a" stroke="#1a1a1a" stroke-width="0.3">PPP4R2</text>
<line x1="424.7" y1="358.61" x2="427.2" y2="358.61" stroke="#333" stroke-width="1.1"/>
<circle cx="444.00" cy="358.61" r="1.75" fill="#aea5d4"/>
<circle cx="500.44" cy="358.61" r="2.00" fill="#b6aed8"/>
<circle cx="528.66" cy="358.61" r="1.25" fill="#eeeded"/>
<circle cx="556.88" cy="358.61" r="1.75" fill="#f7cebf"/>
<circle cx="585.10" cy="358.61" r="1.50" fill="#f8dacf"/>
<circle cx="613.32" cy="358.61" r="1.75" fill="#f8d5c8"/>
<text transform="translate(422.50 375.82) scale(1.0 1.04)" font-size="13.6" text-anchor="end" fill="#1a1a1a" stroke="#1a1a1a" stroke-width="0.3">ZNF736</text>
<line x1="424.7" y1="370.55" x2="427.2" y2="370.55" stroke="#333" stroke-width="1.1"/>
<circle cx="444.00" cy="370.55" r="1.75" fill="#f8d5c8"/>
<circle cx="472.22" cy="370.55" r="1.75" fill="#f8d5c8"/>
<circle cx="500.44" cy="370.55" r="1.75" fill="#f8dacf"/>
<circle cx="528.66" cy="370.55" r="2.00" fill="#f8dacf"/>
<text transform="translate(422.50 387.76) scale(1.0 1.04)" font-size="13.6" text-anchor="end" fill="#1a1a1a" stroke="#1a1a1a" stroke-width="0.3">MTO1</text>
<line x1="424.7" y1="382.49" x2="427.2" y2="382.49" stroke="#333" stroke-width="1.1"/>
<circle cx="444.00" cy="382.49" r="2.00" fill="#aea5d4"/>
<circle cx="472.22" cy="382.49" r="2.50" fill="#cdc7e5"/>
<circle cx="500.44" cy="382.49" r="2.25" fill="#b6aed8"/>
<circle cx="528.66" cy="382.49" r="1.00" fill="#eeeded"/>
<circle cx="556.88" cy="382.49" r="1.75" fill="#cdc7e5"/>
<circle cx="585.10" cy="382.49" r="1.00" fill="#eeeded"/>
<circle cx="613.32" cy="382.49" r="1.00" fill="#eeeded"/>
<text transform="translate(422.50 399.70) scale(1.0 1.04)" font-size="13.6" text-anchor="end" fill="#1a1a1a" stroke="#1a1a1a" stroke-width="0.3">ERN1</text>
<line x1="424.7" y1="394.44" x2="427.2" y2="394.44" stroke="#333" stroke-width="1.1"/>
<circle cx="444.00" cy="394.44" r="2.00" fill="#6663b0"/>
<circle cx="472.22" cy="394.44" r="2.00" fill="#b6aed8"/>
<circle cx="500.44" cy="394.44" r="2.00" fill="#f4bba5"/>
<circle cx="556.88" cy="394.44" r="1.75" fill="#a49bce"/>
<circle cx="585.10" cy="394.44" r="1.50" fill="#eeeded"/>
<circle cx="613.32" cy="394.44" r="1.50" fill="#eeeded"/>
<text transform="translate(422.50 411.65) scale(1.0 1.04)" font-size="13.6" text-anchor="end" fill="#1a1a1a" stroke="#1a1a1a" stroke-width="0.3">CHAF1B</text>
<line x1="424.7" y1="406.38" x2="427.2" y2="406.38" stroke="#333" stroke-width="1.1"/>
<circle cx="444.00" cy="406.38" r="2.25" fill="#e8563e"/>
<circle cx="472.22" cy="406.38" r="3.00" fill="#ea795a"/>
<circle cx="500.44" cy="406.38" r="2.25" fill="#f0a080"/>
<circle cx="528.66" cy="406.38" r="3.00" fill="#f5c2ae"/>
<circle cx="556.88" cy="406.38" r="2.00" fill="#f4bba5"/>
<circle cx="585.10" cy="406.38" r="2.00" fill="#ed8e6d"/>
<circle cx="613.32" cy="406.38" r="2.50" fill="#e96347"/>
<text transform="translate(422.50 423.59) scale(1.0 1.04)" font-size="13.6" text-anchor="end" fill="#1a1a1a" stroke="#1a1a1a" stroke-width="0.3">DIAPH2</text>
<line x1="424.7" y1="418.32" x2="427.2" y2="418.32" stroke="#333" stroke-width="1.1"/>
<circle cx="444.00" cy="418.32" r="1.75" fill="#dbd7ec"/>
<circle cx="472.22" cy="418.32" r="1.75" fill="#dbd7ec"/>
<circle cx="500.44" cy="418.32" r="3.25" fill="#ea795a"/>
<circle cx="528.66" cy="418.32" r="1.75" fill="#dbd7ec"/>
<circle cx="556.88" cy="418.32" r="1.25" fill="#f6e7e2"/>
<circle cx="585.10" cy="418.32" r="1.75" fill="#f8d5c8"/>
<circle cx="613.32" cy="418.32" r="1.25" fill="#f2eae8"/>
<text transform="translate(422.50 435.53) scale(1.0 1.04)" font-size="13.6" text-anchor="end" fill="#1a1a1a" stroke="#1a1a1a" stroke-width="0.3">PANK3</text>
<line x1="424.7" y1="430.26" x2="427.2" y2="430.26" stroke="#333" stroke-width="1.1"/>
<circle cx="444.00" cy="430.26" r="1.75" fill="#cdc7e5"/>
<circle cx="500.44" cy="430.26" r="1.75" fill="#dbd7ec"/>
<circle cx="528.66" cy="430.26" r="1.75" fill="#e6e4ee"/>
<circle cx="556.88" cy="430.26" r="2.00" fill="#f0a080"/>
<circle cx="585.10" cy="430.26" r="1.75" fill="#cdc7e5"/>
<circle cx="613.32" cy="430.26" r="1.75" fill="#f8ded5"/>
<text transform="translate(422.50 447.48) scale(1.0 1.04)" font-size="13.6" text-anchor="end" fill="#1a1a1a" stroke="#1a1a1a" stroke-width="0.3">FRZB</text>
<line x1="424.7" y1="442.21" x2="427.2" y2="442.21" stroke="#333" stroke-width="1.1"/>
<circle cx="444.00" cy="442.21" r="2.00" fill="#f0a080"/>
<circle cx="472.22" cy="442.21" r="2.00" fill="#f8d5c8"/>
<circle cx="500.44" cy="442.21" r="2.50" fill="#e41315"/>
<circle cx="528.66" cy="442.21" r="1.75" fill="#e6e4ee"/>
<circle cx="556.88" cy="442.21" r="2.25" fill="#e8563e"/>
<circle cx="585.10" cy="442.21" r="1.75" fill="#b6aed8"/>
<circle cx="613.32" cy="442.21" r="2.00" fill="#9992c8"/>
<text transform="translate(422.50 459.42) scale(1.0 1.04)" font-size="13.6" text-anchor="end" fill="#1a1a1a" stroke="#1a1a1a" stroke-width="0.3">WTIP</text>
<line x1="424.7" y1="454.15" x2="427.2" y2="454.15" stroke="#333" stroke-width="1.1"/>
<circle cx="444.00" cy="454.15" r="2.00" fill="#ea795a"/>
<circle cx="472.22" cy="454.15" r="2.00" fill="#cdc7e5"/>
<circle cx="500.44" cy="454.15" r="1.50" fill="#e6e4ee"/>
<circle cx="528.66" cy="454.15" r="1.50" fill="#e6e4ee"/>
<circle cx="556.88" cy="454.15" r="1.50" fill="#cdc7e5"/>
<circle cx="585.10" cy="454.15" r="1.50" fill="#cdc7e5"/>
<circle cx="613.32" cy="454.15" r="2.00" fill="#aea5d4"/>
<text transform="translate(422.50 471.36) scale(1.0 1.04)" font-size="13.6" text-anchor="end" fill="#1a1a1a" stroke="#1a1a1a" stroke-width="0.3">GPATCH2</text>
<line x1="424.7" y1="466.09" x2="427.2" y2="466.09" stroke="#333" stroke-width="1.1"/>
<circle cx="444.00" cy="466.09" r="2.00" fill="#f8d5c8"/>
<circle cx="472.22" cy="466.09" r="2.75" fill="#f7cebf"/>
<circle cx="500.44" cy="466.09" r="1.50" fill="#f6e7e2"/>
<circle cx="528.66" cy="466.09" r="3.00" fill="#f8d5c8"/>
<circle cx="556.88" cy="466.09" r="1.75" fill="#f8ded5"/>
<circle cx="585.10" cy="466.09" r="2.00" fill="#f4bba5"/>
<circle cx="613.32" cy="466.09" r="2.25" fill="#f2ae92"/>
<text transform="translate(422.50 483.31) scale(1.0 1.04)" font-size="13.6" text-anchor="end" fill="#1a1a1a" stroke="#1a1a1a" stroke-width="0.3">PSMD12</text>
<line x1="424.7" y1="478.04" x2="427.2" y2="478.04" stroke="#333" stroke-width="1.1"/>
<circle cx="444.00" cy="478.04" r="1.75" fill="#e6e4ee"/>
<circle cx="500.44" cy="478.04" r="1.00" fill="#eeeded"/>
<circle cx="528.66" cy="478.04" r="1.75" fill="#f8e3dc"/>
<circle cx="585.10" cy="478.04" r="1.75" fill="#f7cebf"/>
<circle cx="613.32" cy="478.04" r="2.25" fill="#ed8e6d"/>
<text transform="translate(422.50 495.25) scale(1.0 1.04)" font-size="13.6" text-anchor="end" fill="#1a1a1a" stroke="#1a1a1a" stroke-width="0.3">STX7</text>
<line x1="424.7" y1="489.98" x2="427.2" y2="489.98" stroke="#333" stroke-width="1.1"/>
<circle cx="444.00" cy="489.98" r="1.75" fill="#f7cebf"/>
<circle cx="500.44" cy="489.98" r="1.75" fill="#beb6dc"/>
<circle cx="528.66" cy="489.98" r="3.25" fill="#aea5d4"/>
<circle cx="556.88" cy="489.98" r="1.50" fill="#eeeded"/>
<circle cx="613.32" cy="489.98" r="1.75" fill="#eeeded"/>
<text transform="translate(422.50 507.19) scale(1.0 1.04)" font-size="13.6" text-anchor="end" fill="#1a1a1a" stroke="#1a1a1a" stroke-width="0.3">HS3ST3B1</text>
<line x1="424.7" y1="501.92" x2="427.2" y2="501.92" stroke="#333" stroke-width="1.1"/>
<circle cx="444.00" cy="501.92" r="2.00" fill="#2348a0"/>
<circle cx="472.22" cy="501.92" r="2.50" fill="#8781be"/>
<circle cx="500.44" cy="501.92" r="2.25" fill="#8781be"/>
<circle cx="528.66" cy="501.92" r="2.00" fill="#f8d5c8"/>
<circle cx="556.88" cy="501.92" r="2.00" fill="#ec8463"/>
<circle cx="585.10" cy="501.92" r="1.75" fill="#8f88c2"/>
<text transform="translate(422.50 519.13) scale(1.0 1.04)" font-size="13.6" text-anchor="end" fill="#1a1a1a" stroke="#1a1a1a" stroke-width="0.3">RPL37</text>
<line x1="424.7" y1="513.87" x2="427.2" y2="513.87" stroke="#333" stroke-width="1.1"/>
<circle cx="444.00" cy="513.87" r="1.75" fill="#f8d5c8"/>
<circle cx="472.22" cy="513.87" r="2.25" fill="#f7cebf"/>
<circle cx="500.44" cy="513.87" r="2.25" fill="#f4bba5"/>
<circle cx="556.88" cy="513.87" r="1.00" fill="#eeeded"/>
<circle cx="613.32" cy="513.87" r="1.25" fill="#eeeded"/>
<text transform="translate(422.50 531.08) scale(1.0 1.04)" font-size="13.6" text-anchor="end" fill="#1a1a1a" stroke="#1a1a1a" stroke-width="0.3">PEX26</text>
<line x1="424.7" y1="525.81" x2="427.2" y2="525.81" stroke="#333" stroke-width="1.1"/>
<circle cx="472.22" cy="525.81" r="1.00" fill="#eeeded"/>
<circle cx="500.44" cy="525.81" r="2.00" fill="#beb6dc"/>
<circle cx="528.66" cy="525.81" r="1.50" fill="#f6e7e2"/>
<circle cx="556.88" cy="525.81" r="1.50" fill="#f8ded5"/>
<circle cx="585.10" cy="525.81" r="1.75" fill="#beb6dc"/>
<circle cx="613.32" cy="525.81" r="1.75" fill="#f8ded5"/>
<text transform="translate(422.50 543.02) scale(1.0 1.04)" font-size="13.6" text-anchor="end" fill="#1a1a1a" stroke="#1a1a1a" stroke-width="0.3">KCNJ6</text>
<line x1="424.7" y1="537.75" x2="427.2" y2="537.75" stroke="#333" stroke-width="1.1"/>
<circle cx="444.00" cy="537.75" r="2.00" fill="#ec8463"/>
<circle cx="472.22" cy="537.75" r="2.50" fill="#e8161b"/>
<circle cx="500.44" cy="537.75" r="2.50" fill="#2348a0"/>
<circle cx="528.66" cy="537.75" r="3.00" fill="#e41315"/>
<circle cx="556.88" cy="537.75" r="2.00" fill="#ea6e51"/>
<circle cx="585.10" cy="537.75" r="1.75" fill="#8f88c2"/>
<circle cx="613.32" cy="537.75" r="1.75" fill="#f4bba5"/>
<text transform="translate(422.50 554.96) scale(1.0 1.04)" font-size="13.6" text-anchor="end" fill="#1a1a1a" stroke="#1a1a1a" stroke-width="0.3">FEM1B</text>
<line x1="424.7" y1="549.69" x2="427.2" y2="549.69" stroke="#333" stroke-width="1.1"/>
<circle cx="444.00" cy="549.69" r="2.00" fill="#a9a0d1"/>
<circle cx="472.22" cy="549.69" r="1.00" fill="#eeeded"/>
<circle cx="528.66" cy="549.69" r="1.25" fill="#eeeded"/>
<circle cx="556.88" cy="549.69" r="1.75" fill="#cdc7e5"/>
<circle cx="585.10" cy="549.69" r="1.75" fill="#c5bee1"/>
<circle cx="613.32" cy="549.69" r="1.75" fill="#d4cfe8"/>
<text transform="translate(422.50 566.91) scale(1.0 1.04)" font-size="13.6" text-anchor="end" fill="#1a1a1a" stroke="#1a1a1a" stroke-width="0.3">OR4D1</text>
<line x1="424.7" y1="561.64" x2="427.2" y2="561.64" stroke="#333" stroke-width="1.1"/>
<circle cx="472.22" cy="561.64" r="1.75" fill="#f0a080"/>
<circle cx="528.66" cy="561.64" r="1.00" fill="#eeeded"/>
<circle cx="556.88" cy="561.64" r="1.75" fill="#f8ded5"/>
<circle cx="585.10" cy="561.64" r="1.75" fill="#ed8e6d"/>
<circle cx="613.32" cy="561.64" r="1.75" fill="#f4bba5"/>
<text transform="translate(422.50 578.85) scale(1.0 1.04)" font-size="13.6" text-anchor="end" fill="#1a1a1a" stroke="#1a1a1a" stroke-width="0.3">RAB21</text>
<line x1="424.7" y1="573.58" x2="427.2" y2="573.58" stroke="#333" stroke-width="1.1"/>
<circle cx="444.00" cy="573.58" r="1.75" fill="#eeeded"/>
<circle cx="472.22" cy="573.58" r="1.50" fill="#eae8ee"/>
<circle cx="528.66" cy="573.58" r="1.25" fill="#eeeded"/>
<circle cx="556.88" cy="573.58" r="1.00" fill="#eeeded"/>
<circle cx="585.10" cy="573.58" r="1.50" fill="#eeeded"/>
<text transform="translate(422.50 590.79) scale(1.0 1.04)" font-size="13.6" text-anchor="end" fill="#1a1a1a" stroke="#1a1a1a" stroke-width="0.3">PIK3R2</text>
<line x1="424.7" y1="585.52" x2="427.2" y2="585.52" stroke="#333" stroke-width="1.1"/>
<circle cx="444.00" cy="585.52" r="2.00" fill="#f0a080"/>
<circle cx="472.22" cy="585.52" r="3.25" fill="#ee9776"/>
<circle cx="500.44" cy="585.52" r="1.75" fill="#f6e7e2"/>
<circle cx="528.66" cy="585.52" r="2.00" fill="#f8dacf"/>
<circle cx="556.88" cy="585.52" r="1.75" fill="#f8e3dc"/>
<circle cx="585.10" cy="585.52" r="1.50" fill="#f2eae8"/>
<circle cx="613.32" cy="585.52" r="2.25" fill="#ee9776"/>
<text transform="translate(422.50 602.74) scale(1.0 1.04)" font-size="13.6" text-anchor="end" fill="#1a1a1a" stroke="#1a1a1a" stroke-width="0.3">TUBA8</text>
<line x1="424.7" y1="597.47" x2="427.2" y2="597.47" stroke="#333" stroke-width="1.1"/>
<circle cx="444.00" cy="597.47" r="1.75" fill="#e2dfef"/>
<circle cx="472.22" cy="597.47" r="1.00" fill="#eeeded"/>
<circle cx="500.44" cy="597.47" r="2.50" fill="#e84030"/>
<circle cx="528.66" cy="597.47" r="2.25" fill="#f8d5c8"/>
<circle cx="556.88" cy="597.47" r="1.00" fill="#eeeded"/>
<circle cx="585.10" cy="597.47" r="1.50" fill="#f8e3dc"/>
<circle cx="613.32" cy="597.47" r="1.75" fill="#f7cebf"/>
<text transform="translate(422.50 614.68) scale(1.0 1.04)" font-size="13.6" text-anchor="end" fill="#1a1a1a" stroke="#1a1a1a" stroke-width="0.3">SERTAD4</text>
<line x1="424.7" y1="609.41" x2="427.2" y2="609.41" stroke="#333" stroke-width="1.1"/>
<circle cx="444.00" cy="609.41" r="2.00" fill="#e8161b"/>
<circle cx="472.22" cy="609.41" r="2.00" fill="#ed8e6d"/>
<circle cx="500.44" cy="609.41" r="2.25" fill="#ee9776"/>
<circle cx="528.66" cy="609.41" r="1.50" fill="#eeeded"/>
<circle cx="585.10" cy="609.41" r="1.75" fill="#7f79bb"/>
<circle cx="613.32" cy="609.41" r="2.00" fill="#ee9776"/>
<text transform="translate(422.50 626.62) scale(1.0 1.04)" font-size="13.6" text-anchor="end" fill="#1a1a1a" stroke="#1a1a1a" stroke-width="0.3">ZBTB25</text>
<line x1="424.7" y1="621.35" x2="427.2" y2="621.35" stroke="#333" stroke-width="1.1"/>
<circle cx="444.00" cy="621.35" r="1.50" fill="#eeeded"/>
<circle cx="472.22" cy="621.35" r="1.25" fill="#eeeded"/>
<circle cx="500.44" cy="621.35" r="2.50" fill="#ee9776"/>
<circle cx="528.66" cy="621.35" r="2.25" fill="#f8dacf"/>
<circle cx="556.88" cy="621.35" r="2.00" fill="#f7cebf"/>
<circle cx="585.10" cy="621.35" r="1.75" fill="#f8d5c8"/>
<text transform="translate(422.50 638.56) scale(1.0 1.04)" font-size="13.6" text-anchor="end" fill="#1a1a1a" stroke="#1a1a1a" stroke-width="0.3">POGK</text>
<line x1="424.7" y1="633.30" x2="427.2" y2="633.30" stroke="#333" stroke-width="1.1"/>
<circle cx="444.00" cy="633.30" r="2.00" fill="#f6c8b6"/>
<circle cx="472.22" cy="633.30" r="3.00" fill="#f8d5c8"/>
<circle cx="528.66" cy="633.30" r="2.00" fill="#f6e7e2"/>
<circle cx="585.10" cy="633.30" r="1.50" fill="#f6e7e2"/>
<circle cx="613.32" cy="633.30" r="2.25" fill="#f0a080"/>
<text transform="translate(422.50 650.51) scale(1.0 1.04)" font-size="13.6" text-anchor="end" fill="#1a1a1a" stroke="#1a1a1a" stroke-width="0.3">NEGR1</text>
<line x1="424.7" y1="645.24" x2="427.2" y2="645.24" stroke="#333" stroke-width="1.1"/>
<circle cx="444.00" cy="645.24" r="1.75" fill="#f6c8b6"/>
<circle cx="472.22" cy="645.24" r="2.25" fill="#8f88c2"/>
<circle cx="500.44" cy="645.24" r="1.50" fill="#eeeded"/>
<circle cx="528.66" cy="645.24" r="3.50" fill="#2d48a1"/>
<circle cx="556.88" cy="645.24" r="1.75" fill="#f2ae92"/>
<circle cx="585.10" cy="645.24" r="1.75" fill="#8f88c2"/>
<circle cx="613.32" cy="645.24" r="1.75" fill="#9992c8"/>
<text transform="translate(422.50 662.45) scale(1.0 1.04)" font-size="13.6" text-anchor="end" fill="#1a1a1a" stroke="#1a1a1a" stroke-width="0.3">PLCG2</text>
<line x1="424.7" y1="657.18" x2="427.2" y2="657.18" stroke="#333" stroke-width="1.1"/>
<circle cx="444.00" cy="657.18" r="1.75" fill="#aea5d4"/>
<circle cx="472.22" cy="657.18" r="2.50" fill="#cdc7e5"/>
<circle cx="500.44" cy="657.18" r="3.00" fill="#6663b0"/>
<circle cx="528.66" cy="657.18" r="2.25" fill="#f8d5c8"/>
<circle cx="556.88" cy="657.18" r="1.75" fill="#b6aed8"/>
<circle cx="585.10" cy="657.18" r="1.75" fill="#b6aed8"/>
<circle cx="613.32" cy="657.18" r="1.75" fill="#dbd7ec"/>
<text transform="translate(422.50 674.39) scale(1.0 1.04)" font-size="13.6" text-anchor="end" fill="#1a1a1a" stroke="#1a1a1a" stroke-width="0.3">FAM171B</text>
<line x1="424.7" y1="669.12" x2="427.2" y2="669.12" stroke="#333" stroke-width="1.1"/>
<circle cx="444.00" cy="669.12" r="1.75" fill="#f7cebf"/>
<circle cx="472.22" cy="669.12" r="2.00" fill="#f7cebf"/>
<circle cx="500.44" cy="669.12" r="2.00" fill="#f5c2ae"/>
<circle cx="528.66" cy="669.12" r="2.75" fill="#f2ae92"/>
<circle cx="556.88" cy="669.12" r="2.25" fill="#f0a080"/>
<circle cx="585.10" cy="669.12" r="1.50" fill="#f8dacf"/>
<circle cx="613.32" cy="669.12" r="1.50" fill="#f2eae8"/>
<text transform="translate(422.50 686.34) scale(1.0 1.04)" font-size="13.6" text-anchor="end" fill="#1a1a1a" stroke="#1a1a1a" stroke-width="0.3">TRIM71</text>
<line x1="424.7" y1="681.07" x2="427.2" y2="681.07" stroke="#333" stroke-width="1.1"/>
<circle cx="444.00" cy="681.07" r="2.75" fill="#e41315"/>
<circle cx="472.22" cy="681.07" r="3.00" fill="#e21213"/>
<circle cx="500.44" cy="681.07" r="2.00" fill="#3849a2"/>
<circle cx="528.66" cy="681.07" r="2.75" fill="#e8161b"/>
<circle cx="556.88" cy="681.07" r="2.00" fill="#f7cebf"/>
<circle cx="585.10" cy="681.07" r="2.00" fill="#e8161b"/>
<circle cx="613.32" cy="681.07" r="2.00" fill="#f8d5c8"/>
<text transform="translate(422.50 698.28) scale(1.0 1.04)" font-size="13.6" text-anchor="end" fill="#1a1a1a" stroke="#1a1a1a" stroke-width="0.3">AKR1C1</text>
<line x1="424.7" y1="693.01" x2="427.2" y2="693.01" stroke="#333" stroke-width="1.1"/>
<circle cx="444.00" cy="693.01" r="2.00" fill="#8f88c2"/>
<circle cx="472.22" cy="693.01" r="2.50" fill="#f4bba5"/>
<circle cx="500.44" cy="693.01" r="1.75" fill="#dbd7ec"/>
<circle cx="528.66" cy="693.01" r="3.00" fill="#e41315"/>
<circle cx="556.88" cy="693.01" r="2.00" fill="#424ca4"/>
<circle cx="585.10" cy="693.01" r="2.00" fill="#2348a0"/>
<circle cx="613.32" cy="693.01" r="2.25" fill="#1e429a"/>
<rect x="427.2" y="5.5" width="202.80" height="693.90" fill="none" stroke="#555" stroke-width="1.1"/>
<line x1="444.00" y1="699.4" x2="444.00" y2="702.6" stroke="#333" stroke-width="0.9"/>
<text transform="rotate(-45 452.00 711.80) translate(452.00 711.80) scale(1.0 1.04)" font-size="12.6" text-anchor="end" fill="#1a1a1a" stroke="#1a1a1a" stroke-width="0.25">Biliary−AdenoCA</text>
<line x1="472.22" y1="699.4" x2="472.22" y2="702.6" stroke="#333" stroke-width="0.9"/>
<text transform="rotate(-45 480.22 711.80) translate(480.22 711.80) scale(1.0 1.04)" font-size="12.6" text-anchor="end" fill="#1a1a1a" stroke="#1a1a1a" stroke-width="0.25">Liver−HCC</text>
<line x1="500.44" y1="699.4" x2="500.44" y2="702.6" stroke="#333" stroke-width="0.9"/>
<text transform="rotate(-45 508.44 711.80) translate(508.44 711.80) scale(1.0 1.04)" font-size="12.6" text-anchor="end" fill="#1a1a1a" stroke="#1a1a1a" stroke-width="0.25">Kidney−RCC</text>
<line x1="528.66" y1="699.4" x2="528.66" y2="702.6" stroke="#333" stroke-width="0.9"/>
<text transform="rotate(-45 536.66 711.80) translate(536.66 711.80) scale(1.0 1.04)" font-size="12.6" text-anchor="end" fill="#1a1a1a" stroke="#1a1a1a" stroke-width="0.25">ESCC</text>
<line x1="556.88" y1="699.4" x2="556.88" y2="702.6" stroke="#333" stroke-width="0.9"/>
<text transform="rotate(-45 564.88 711.80) translate(564.88 711.80) scale(1.0 1.04)" font-size="12.6" text-anchor="end" fill="#1a1a1a" stroke="#1a1a1a" stroke-width="0.25">Prost−AdenoCA</text>
<line x1="585.10" y1="699.4" x2="585.10" y2="702.6" stroke="#333" stroke-width="0.9"/>
<text transform="rotate(-45 593.10 711.80) translate(593.10 711.80) scale(1.0 1.04)" font-size="12.6" text-anchor="end" fill="#1a1a1a" stroke="#1a1a1a" stroke-width="0.25">Stomach−AdenoCA</text>
<line x1="613.32" y1="699.4" x2="613.32" y2="702.6" stroke="#333" stroke-width="0.9"/>
<text transform="rotate(-45 621.32 711.80) translate(621.32 711.80) scale(1.0 1.04)" font-size="12.6" text-anchor="end" fill="#1a1a1a" stroke="#1a1a1a" stroke-width="0.25">Breast−AdenoCa</text>
<text transform="translate(338.50 12.60) scale(1.0 1.04)" font-size="15.5" text-anchor="start" fill="#000">b</text>
<text transform="translate(644 278.4) scale(1 1.04)" font-size="10.8" fill="#1a1a1a">−log<tspan font-size="8.2" dy="0.6">10</tspan><tspan dy="-0.6" font-style="italic"> P</tspan></text>
<rect x="644.4" y="283.7" width="14" height="44.5" fill="#f6f6f6"/>
<circle cx="651.6" cy="291.5" r="1.55" fill="#000"/>
<text transform="translate(663.40 295.40) scale(1.0 1.04)" font-size="10.8" text-anchor="start" fill="#1a1a1a">0</text>
<circle cx="651.6" cy="306.4" r="3.6" fill="#000"/>
<text transform="translate(663.40 310.30) scale(1.0 1.04)" font-size="10.8" text-anchor="start" fill="#1a1a1a">100</text>
<circle cx="651.6" cy="320.9" r="4.9" fill="#000"/>
<text transform="translate(663.40 324.80) scale(1.0 1.04)" font-size="10.8" text-anchor="start" fill="#1a1a1a">200</text>
<text transform="translate(644.30 355.50) scale(1.0 1.04)" font-size="10.5" text-anchor="start" fill="#1a1a1a">log2FC</text>
<defs><linearGradient id="fcg" x1="0" y1="0" x2="0" y2="1">
<stop offset="0.0000" stop-color="#e42c23"/>
<stop offset="0.0417" stop-color="#e83f2e"/>
<stop offset="0.0833" stop-color="#eb523c"/>
<stop offset="0.1250" stop-color="#ed644a"/>
<stop offset="0.1667" stop-color="#f07759"/>
<stop offset="0.2083" stop-color="#f2896c"/>
<stop offset="0.2500" stop-color="#f49a80"/>
<stop offset="0.2917" stop-color="#f6ac94"/>
<stop offset="0.3333" stop-color="#f8bdaa"/>
<stop offset="0.3750" stop-color="#facfc0"/>
<stop offset="0.4167" stop-color="#fce0d6"/>
<stop offset="0.4583" stop-color="#fdefea"/>
<stop offset="0.5000" stop-color="#ffffff"/>
<stop offset="0.5417" stop-color="#f2eff8"/>
<stop offset="0.5833" stop-color="#e4e0f2"/>
<stop offset="0.6250" stop-color="#d4ceea"/>
<stop offset="0.6667" stop-color="#c0b9de"/>
<stop offset="0.7083" stop-color="#aca5d3"/>
<stop offset="0.7500" stop-color="#9a93ca"/>
<stop offset="0.7917" stop-color="#8983c2"/>
<stop offset="0.8333" stop-color="#7773ba"/>
<stop offset="0.8750" stop-color="#6466b2"/>
<stop offset="0.9167" stop-color="#5059ab"/>
<stop offset="0.9583" stop-color="#3f50a7"/>
<stop offset="1.0000" stop-color="#304ca6"/>
</linearGradient></defs>
<rect x="644.3" y="360.8" width="14.7" height="74" fill="url(#fcg)"/>
<line x1="644.3" y1="365.3" x2="647.2" y2="365.3" stroke="#fff" stroke-width="0.6"/><line x1="656.1" y1="365.3" x2="659" y2="365.3" stroke="#fff" stroke-width="0.6"/>
<text transform="translate(665.00 369.20) scale(1.0 1.04)" font-size="10.8" text-anchor="start" fill="#1a1a1a">2</text>
<line x1="644.3" y1="381.6" x2="647.2" y2="381.6" stroke="#fff" stroke-width="0.6"/><line x1="656.1" y1="381.6" x2="659" y2="381.6" stroke="#fff" stroke-width="0.6"/>
<text transform="translate(665.00 385.50) scale(1.0 1.04)" font-size="10.8" text-anchor="start" fill="#1a1a1a">1</text>
<line x1="644.3" y1="398.3" x2="647.2" y2="398.3" stroke="#fff" stroke-width="0.6"/><line x1="656.1" y1="398.3" x2="659" y2="398.3" stroke="#fff" stroke-width="0.6"/>
<text transform="translate(665.00 402.20) scale(1.0 1.04)" font-size="10.8" text-anchor="start" fill="#1a1a1a">0</text>
<line x1="644.3" y1="413.8" x2="647.2" y2="413.8" stroke="#fff" stroke-width="0.6"/><line x1="656.1" y1="413.8" x2="659" y2="413.8" stroke="#fff" stroke-width="0.6"/>
<text transform="translate(663.40 417.70) scale(1.0 1.04)" font-size="10.8" text-anchor="start" fill="#1a1a1a">−1</text>
<line x1="644.3" y1="429.2" x2="647.2" y2="429.2" stroke="#fff" stroke-width="0.6"/><line x1="656.1" y1="429.2" x2="659" y2="429.2" stroke="#fff" stroke-width="0.6"/>
<text transform="translate(663.40 433.10) scale(1.0 1.04)" font-size="10.8" text-anchor="start" fill="#1a1a1a">−2</text>
<rect x="49.7" y="514.0" width="291.10" height="287.60" fill="#efefef"/>
<line x1="95.45" y1="514.0" x2="95.45" y2="801.6" stroke="#fff" stroke-width="0.6"/>
<line x1="161.75" y1="514.0" x2="161.75" y2="801.6" stroke="#fff" stroke-width="0.6"/>
<line x1="228.05" y1="514.0" x2="228.05" y2="801.6" stroke="#fff" stroke-width="0.6"/>
<line x1="294.35" y1="514.0" x2="294.35" y2="801.6" stroke="#fff" stroke-width="0.6"/>
<line x1="49.7" y1="755.30" x2="340.8" y2="755.30" stroke="#fff" stroke-width="0.6"/>
<line x1="49.7" y1="689.90" x2="340.8" y2="689.90" stroke="#fff" stroke-width="0.6"/>
<line x1="49.7" y1="624.50" x2="340.8" y2="624.50" stroke="#fff" stroke-width="0.6"/>
<line x1="49.7" y1="559.10" x2="340.8" y2="559.10" stroke="#fff" stroke-width="0.6"/>
<line x1="62.30" y1="514.0" x2="62.30" y2="801.6" stroke="#fff" stroke-width="1.2"/>
<line x1="128.60" y1="514.0" x2="128.60" y2="801.6" stroke="#fff" stroke-width="1.2"/>
<line x1="194.90" y1="514.0" x2="194.90" y2="801.6" stroke="#fff" stroke-width="1.2"/>
<line x1="261.20" y1="514.0" x2="261.20" y2="801.6" stroke="#fff" stroke-width="1.2"/>
<line x1="327.50" y1="514.0" x2="327.50" y2="801.6" stroke="#fff" stroke-width="1.2"/>
<line x1="49.7" y1="788.00" x2="340.8" y2="788.00" stroke="#fff" stroke-width="1.2"/>
<line x1="49.7" y1="722.60" x2="340.8" y2="722.60" stroke="#fff" stroke-width="1.2"/>
<line x1="49.7" y1="657.20" x2="340.8" y2="657.20" stroke="#fff" stroke-width="1.2"/>
<line x1="49.7" y1="591.80" x2="340.8" y2="591.80" stroke="#fff" stroke-width="1.2"/>
<line x1="49.7" y1="526.40" x2="340.8" y2="526.40" stroke="#fff" stroke-width="1.2"/>
<line x1="47.0" y1="788.00" x2="49.7" y2="788.00" stroke="#333" stroke-width="0.9"/>
<text transform="translate(38.40 790.97) scale(1.0 1.04)" font-size="11.1" text-anchor="middle" fill="#4d4d4d">0</text>
<line x1="47.0" y1="722.60" x2="49.7" y2="722.60" stroke="#333" stroke-width="0.9"/>
<text transform="translate(38.40 725.57) scale(1.0 1.04)" font-size="11.1" text-anchor="middle" fill="#4d4d4d">0.1</text>
<line x1="47.0" y1="657.20" x2="49.7" y2="657.20" stroke="#333" stroke-width="0.9"/>
<text transform="translate(38.40 660.17) scale(1.0 1.04)" font-size="11.1" text-anchor="middle" fill="#4d4d4d">0.2</text>
<line x1="47.0" y1="591.80" x2="49.7" y2="591.80" stroke="#333" stroke-width="0.9"/>
<text transform="translate(38.40 594.77) scale(1.0 1.04)" font-size="11.1" text-anchor="middle" fill="#4d4d4d">0.3</text>
<line x1="47.0" y1="526.40" x2="49.7" y2="526.40" stroke="#333" stroke-width="0.9"/>
<text transform="translate(38.40 529.37) scale(1.0 1.04)" font-size="11.1" text-anchor="middle" fill="#4d4d4d">0.4</text>
<line x1="62.30" y1="801.6" x2="62.30" y2="804.3000000000001" stroke="#333" stroke-width="0.9"/>
<text transform="translate(62.30 813.40) scale(1.0 1.04)" font-size="11.1" text-anchor="middle" fill="#4d4d4d">0</text>
<line x1="128.60" y1="801.6" x2="128.60" y2="804.3000000000001" stroke="#333" stroke-width="0.9"/>
<text transform="translate(128.60 813.40) scale(1.0 1.04)" font-size="11.1" text-anchor="middle" fill="#4d4d4d">0.025</text>
<line x1="194.90" y1="801.6" x2="194.90" y2="804.3000000000001" stroke="#333" stroke-width="0.9"/>
<text transform="translate(194.90 813.40) scale(1.0 1.04)" font-size="11.1" text-anchor="middle" fill="#4d4d4d">0.05</text>
<line x1="261.20" y1="801.6" x2="261.20" y2="804.3000000000001" stroke="#333" stroke-width="0.9"/>
<text transform="translate(261.20 813.40) scale(1.0 1.04)" font-size="11.1" text-anchor="middle" fill="#4d4d4d">0.075</text>
<line x1="327.50" y1="801.6" x2="327.50" y2="804.3000000000001" stroke="#333" stroke-width="0.9"/>
<text transform="translate(327.50 813.40) scale(1.0 1.04)" font-size="11.1" text-anchor="middle" fill="#4d4d4d">0.1</text>
<text transform="translate(189.40 824.40) scale(1.0 1.04)" font-size="10.95" text-anchor="middle" fill="#1a1a1a">3'UTR-length corrected frequency of occurrence</text>
<text transform="translate(181.50 837.00) scale(1.0 1.04)" font-size="10.95" text-anchor="middle" fill="#1a1a1a">of piSNV genes in 3'UTR</text>
<text transform="rotate(-90 14.20 657.60) translate(14.20 657.60) scale(1.0 1.04)" font-size="10.9" text-anchor="middle" fill="#1a1a1a">3'UTR-length corrected frequency of occurrence of</text>
<text transform="rotate(-90 26.70 657.60) translate(26.70 657.60) scale(1.0 1.04)" font-size="10.9" text-anchor="middle" fill="#1a1a1a">piSNV genes in 3'UTR with damaging mutations</text>
<text transform="translate(0.20 523.60) scale(1.0 1.04)" font-size="16.2" text-anchor="start" fill="#000">c</text>
<path d="M61.9 772.4 L66 771.8 L70 772.2 L74 772.8 L77 773.8 L80 775.4 L83 777.2 L86 779.2 L88.3 781.5 L88.8 784 L87.8 786.4 L84 787.6 L78 788.5 L70 788.8 L61.9 788.8 Z" fill="#13b8bc" stroke="#13b8bc" stroke-width="1.4" stroke-linejoin="round"/>
<circle cx="63.5" cy="752.5" r="1.15" fill="#13b8bc"/>
<circle cx="66.2" cy="751.8" r="1.15" fill="#13b8bc"/>
<circle cx="68.6" cy="752.2" r="1.15" fill="#13b8bc"/>
<circle cx="63.4" cy="755" r="1.15" fill="#13b8bc"/>
<circle cx="66.8" cy="756.3" r="1.15" fill="#13b8bc"/>
<circle cx="69.5" cy="757.2" r="1.15" fill="#13b8bc"/>
<circle cx="63.2" cy="757.8" r="1.15" fill="#13b8bc"/>
<circle cx="65.8" cy="758.6" r="1.15" fill="#13b8bc"/>
<circle cx="68.2" cy="759.8" r="1.15" fill="#13b8bc"/>
<circle cx="71.2" cy="757.6" r="1.15" fill="#13b8bc"/>
<circle cx="63.3" cy="761" r="1.15" fill="#13b8bc"/>
<circle cx="66.2" cy="762.3" r="1.15" fill="#13b8bc"/>
<circle cx="68.8" cy="762.2" r="1.15" fill="#13b8bc"/>
<circle cx="72.5" cy="761.2" r="1.15" fill="#13b8bc"/>
<circle cx="63.5" cy="764.8" r="1.15" fill="#13b8bc"/>
<circle cx="66.6" cy="765" r="1.15" fill="#13b8bc"/>
<circle cx="68.5" cy="765.8" r="1.15" fill="#13b8bc"/>
<circle cx="71.6" cy="765.2" r="1.15" fill="#13b8bc"/>
<circle cx="74.2" cy="766.5" r="1.15" fill="#13b8bc"/>
<circle cx="63.2" cy="767.6" r="1.15" fill="#13b8bc"/>
<circle cx="67.2" cy="768" r="1.15" fill="#13b8bc"/>
<circle cx="70.2" cy="768.3" r="1.15" fill="#13b8bc"/>
<circle cx="73.5" cy="769.3" r="1.15" fill="#13b8bc"/>
<circle cx="76.5" cy="770.2" r="1.15" fill="#13b8bc"/>
<circle cx="78.8" cy="771.8" r="1.15" fill="#13b8bc"/>
<circle cx="81.5" cy="772.6" r="1.15" fill="#13b8bc"/>
<circle cx="83.8" cy="774.2" r="1.15" fill="#13b8bc"/>
<circle cx="86.4" cy="776.2" r="1.15" fill="#13b8bc"/>
<circle cx="75.2" cy="767.3" r="1.15" fill="#13b8bc"/>
<circle cx="79" cy="768.2" r="1.15" fill="#13b8bc"/>
<circle cx="85.8" cy="766.5" r="1.15" fill="#13b8bc"/>
<circle cx="88.5" cy="765.8" r="1.15" fill="#13b8bc"/>
<circle cx="86.2" cy="770.6" r="1.15" fill="#13b8bc"/>
<circle cx="90.6" cy="771.4" r="1.15" fill="#13b8bc"/>
<circle cx="91.2" cy="779" r="1.15" fill="#13b8bc"/>
<circle cx="90.4" cy="783.6" r="1.15" fill="#13b8bc"/>
<circle cx="71.8" cy="752.7" r="1.15" fill="#13b8bc"/>
<circle cx="67" cy="754" r="1.15" fill="#13b8bc"/>
<circle cx="69.6" cy="754.6" r="1.15" fill="#13b8bc"/>
<circle cx="64.2" cy="755.5" r="1.15" fill="#13b8bc"/>
<circle cx="65.5" cy="757.5" r="1.15" fill="#13b8bc"/>
<circle cx="68" cy="757.8" r="1.15" fill="#13b8bc"/>
<circle cx="64.5" cy="759.6" r="1.15" fill="#13b8bc"/>
<circle cx="66.8" cy="760.2" r="1.15" fill="#13b8bc"/>
<circle cx="70.2" cy="759.5" r="1.15" fill="#13b8bc"/>
<circle cx="64.4" cy="763.6" r="1.15" fill="#13b8bc"/>
<circle cx="65" cy="766.2" r="1.15" fill="#13b8bc"/>
<circle cx="70.8" cy="763.3" r="1.15" fill="#13b8bc"/>
<circle cx="69.6" cy="767.1" r="1.15" fill="#13b8bc"/>
<circle cx="66.3" cy="768.8" r="1.15" fill="#13b8bc"/>
<circle cx="72.1" cy="769.4" r="1.15" fill="#13b8bc"/>
<circle cx="63.6" cy="770.5" r="1.15" fill="#13b8bc"/>
<circle cx="68.5" cy="770.8" r="1.15" fill="#13b8bc"/>
<circle cx="91.4" cy="758.2" r="1.15" fill="#13b8bc"/>
<circle cx="87.5" cy="759.8" r="1.15" fill="#13b8bc"/>
<circle cx="85" cy="762.3" r="1.15" fill="#13b8bc"/>
<circle cx="81.8" cy="765.5" r="1.15" fill="#13b8bc"/>
<circle cx="82.1" cy="768.8" r="1.15" fill="#13b8bc"/>
<circle cx="89.8" cy="768.8" r="1.15" fill="#13b8bc"/>
<circle cx="91.7" cy="773.6" r="1.15" fill="#13b8bc"/>
<circle cx="85" cy="773.9" r="1.15" fill="#13b8bc"/>
<circle cx="75.3" cy="772.6" r="1.15" fill="#13b8bc"/>
<circle cx="77.3" cy="773.3" r="1.15" fill="#13b8bc"/>
<circle cx="87.2" cy="760" r="1.15" fill="#13b8bc"/>
<circle cx="92" cy="776" r="1.15" fill="#13b8bc"/>
<circle cx="81.6" cy="768.5" r="1.15" fill="#13b8bc"/>
<circle cx="89.9" cy="768.9" r="1.15" fill="#13b8bc"/>
<circle cx="91.6" cy="773.8" r="1.15" fill="#13b8bc"/>
<circle cx="92.5" cy="776.4" r="1.15" fill="#13b8bc"/>
<circle cx="84.4" cy="775" r="1.15" fill="#13b8bc"/>
<circle cx="89.9" cy="779.9" r="1.15" fill="#13b8bc"/>
<circle cx="92.3" cy="781.4" r="1.15" fill="#13b8bc"/>
<circle cx="90.1" cy="786" r="1.15" fill="#13b8bc"/>
<circle cx="86" cy="784.3" r="1.15" fill="#13b8bc"/>
<circle cx="88.6" cy="782.6" r="1.15" fill="#13b8bc"/>
<circle cx="87.4" cy="785.8" r="1.15" fill="#13b8bc"/>
<circle cx="84.6" cy="775.1" r="1.15" fill="#13b8bc"/>
<circle cx="89.5" cy="779.9" r="1.15" fill="#13b8bc"/>
<circle cx="90.1" cy="785.7" r="1.15" fill="#13b8bc"/>
<circle cx="92.7" cy="781.2" r="1.15" fill="#13b8bc"/>
<circle cx="88.5" cy="777.5" r="1.15" fill="#13b8bc"/>
<circle cx="87.5" cy="783.5" r="1.15" fill="#13b8bc"/>
<circle cx="80.5" cy="771.5" r="1.15" fill="#13b8bc"/>
<circle cx="83" cy="772.8" r="1.15" fill="#13b8bc"/>
<line x1="171.30" y1="752.46" x2="156.38" y2="756.21" stroke="#333" stroke-width="0.8"/>
<line x1="151.43" y1="748.29" x2="145.61" y2="753.28" stroke="#333" stroke-width="0.8"/>
<line x1="188.45" y1="759.50" x2="162.50" y2="759.50" stroke="#333" stroke-width="0.8"/>
<line x1="185.10" y1="766.43" x2="165.39" y2="763.71" stroke="#333" stroke-width="0.8"/>
<line x1="182.19" y1="773.84" x2="161.06" y2="767.14" stroke="#333" stroke-width="0.8"/>
<line x1="182.30" y1="786.00" x2="149.77" y2="776.72" stroke="#333" stroke-width="0.8"/>
<line x1="142.38" y1="777.54" x2="140.68" y2="770.08" stroke="#333" stroke-width="0.8"/>
<line x1="134.18" y1="790.15" x2="117.84" y2="783.41" stroke="#333" stroke-width="0.8"/>
<line x1="109.95" y1="789.69" x2="100.12" y2="778.21" stroke="#333" stroke-width="0.8"/>
<line x1="90.24" y1="790.41" x2="95.64" y2="779.81" stroke="#333" stroke-width="0.8"/>
<line x1="73.15" y1="771.50" x2="95.90" y2="772.47" stroke="#333" stroke-width="0.8"/>
<line x1="72.85" y1="761.63" x2="97.75" y2="770.43" stroke="#333" stroke-width="0.8"/>
<line x1="81.26" y1="751.19" x2="93.73" y2="763.44" stroke="#333" stroke-width="0.8"/>
<line x1="108.81" y1="753.93" x2="113.50" y2="765.66" stroke="#333" stroke-width="0.8"/>
<line x1="128.09" y1="750.53" x2="125.61" y2="754.62" stroke="#333" stroke-width="0.8"/>
<line x1="115.66" y1="738.27" x2="114.77" y2="742.52" stroke="#333" stroke-width="0.8"/>
<circle cx="67" cy="737.5" r="1.3" fill="#f8766d"/>
<circle cx="65.5" cy="741.8" r="1.3" fill="#f8766d"/>
<circle cx="72.9" cy="737.5" r="1.3" fill="#f8766d"/>
<circle cx="65.6" cy="742.6" r="1.3" fill="#f8766d"/>
<circle cx="123" cy="740.9" r="1.3" fill="#f8766d"/>
<circle cx="93.8" cy="755.5" r="1.3" fill="#f8766d"/>
<circle cx="104.6" cy="754.6" r="1.3" fill="#f8766d"/>
<circle cx="119.9" cy="757.7" r="1.3" fill="#f8766d"/>
<circle cx="127.2" cy="760.1" r="1.3" fill="#f8766d"/>
<circle cx="116.2" cy="762.8" r="1.3" fill="#f8766d"/>
<circle cx="110.2" cy="767" r="1.3" fill="#f8766d"/>
<circle cx="121.9" cy="767.6" r="1.3" fill="#f8766d"/>
<circle cx="95.2" cy="768.1" r="1.3" fill="#f8766d"/>
<circle cx="104.7" cy="770.1" r="1.3" fill="#f8766d"/>
<circle cx="105.8" cy="772.1" r="1.3" fill="#f8766d"/>
<circle cx="107.6" cy="775" r="1.3" fill="#f8766d"/>
<circle cx="115.7" cy="770.1" r="1.3" fill="#f8766d"/>
<circle cx="113.1" cy="772.9" r="1.3" fill="#f8766d"/>
<circle cx="100.7" cy="772.9" r="1.3" fill="#f8766d"/>
<circle cx="99.6" cy="774.3" r="1.3" fill="#f8766d"/>
<circle cx="95.2" cy="776.1" r="1.3" fill="#f8766d"/>
<circle cx="95.2" cy="780.9" r="1.3" fill="#f8766d"/>
<circle cx="96.7" cy="779.8" r="1.3" fill="#f8766d"/>
<circle cx="112" cy="778.5" r="1.3" fill="#f8766d"/>
<circle cx="116" cy="778.3" r="1.3" fill="#f8766d"/>
<circle cx="107.3" cy="781.3" r="1.3" fill="#f8766d"/>
<circle cx="113.8" cy="786.4" r="1.3" fill="#f8766d"/>
<circle cx="143.3" cy="762.6" r="1.3" fill="#f8766d"/>
<circle cx="98.8" cy="770.7" r="1.3" fill="#f8766d"/>
<circle cx="100.6" cy="772.9" r="1.3" fill="#f8766d"/>
<circle cx="94.8" cy="775.8" r="1.3" fill="#f8766d"/>
<circle cx="95.9" cy="779.4" r="1.3" fill="#f8766d"/>
<circle cx="95.5" cy="780.9" r="1.3" fill="#f8766d"/>
<circle cx="97.5" cy="777" r="1.3" fill="#f8766d"/>
<circle cx="125.1" cy="577.2" r="1.3" fill="#f8766d"/>
<circle cx="215.2" cy="588.0" r="1.3" fill="#f8766d"/>
<circle cx="161.1" cy="653.1" r="1.3" fill="#f8766d"/>
<circle cx="206.3" cy="685.3" r="1.3" fill="#f8766d"/>
<circle cx="96.7" cy="689.6" r="1.3" fill="#f8766d"/>
<circle cx="271.6" cy="720.9" r="1.3" fill="#f8766d"/>
<circle cx="319.2" cy="730.4" r="1.3" fill="#f8766d"/>
<circle cx="217.8" cy="746.9" r="1.3" fill="#f8766d"/>
<circle cx="221.8" cy="751.6" r="1.3" fill="#f8766d"/>
<circle cx="180.3" cy="741.5" r="1.3" fill="#f8766d"/>
<circle cx="155.6" cy="756.4" r="1.3" fill="#f8766d"/>
<circle cx="145.0" cy="753.8" r="1.3" fill="#f8766d"/>
<circle cx="161.7" cy="759.5" r="1.3" fill="#f8766d"/>
<circle cx="164.6" cy="763.6" r="1.3" fill="#f8766d"/>
<circle cx="160.3" cy="766.9" r="1.3" fill="#f8766d"/>
<circle cx="149.0" cy="776.5" r="1.3" fill="#f8766d"/>
<circle cx="140.5" cy="769.3" r="1.3" fill="#f8766d"/>
<circle cx="117.1" cy="783.1" r="1.3" fill="#f8766d"/>
<circle cx="99.6" cy="777.6" r="1.3" fill="#f8766d"/>
<circle cx="96.0" cy="779.1" r="1.3" fill="#f8766d"/>
<circle cx="96.7" cy="772.5" r="1.3" fill="#f8766d"/>
<circle cx="98.5" cy="770.7" r="1.3" fill="#f8766d"/>
<circle cx="94.3" cy="764.0" r="1.3" fill="#f8766d"/>
<circle cx="113.8" cy="766.4" r="1.3" fill="#f8766d"/>
<circle cx="125.2" cy="755.3" r="1.3" fill="#f8766d"/>
<circle cx="114.6" cy="743.3" r="1.3" fill="#f8766d"/>
<circle cx="132.7" cy="731.5" r="1.3" fill="#f8766d"/>
<circle cx="118.6" cy="711.5" r="1.3" fill="#f8766d"/>
<circle cx="91.8" cy="724.7" r="1.3" fill="#f8766d"/>
<circle cx="76.2" cy="735.3" r="1.3" fill="#f8766d"/>
<circle cx="74.3" cy="731.6" r="1.3" fill="#f8766d"/>
<circle cx="82.3" cy="721.5" r="1.3" fill="#f8766d"/>
<circle cx="81.6" cy="719.2" r="1.3" fill="#f8766d"/>
<circle cx="66.3" cy="714.1" r="1.3" fill="#f8766d"/>
<text transform="translate(136.20 575.48) scale(1.0 1.04)" font-size="8.32" text-anchor="middle" fill="#1a1a1a" stroke="#1a1a1a" stroke-width="0.2">SLC6A11</text>
<text transform="translate(229.00 585.68) scale(1.0 1.04)" font-size="10.83" text-anchor="middle" fill="#1a1a1a" stroke="#1a1a1a" stroke-width="0.2">PREX2</text>
<text transform="translate(176.90 650.83) scale(1.0 1.04)" font-size="10.69" text-anchor="middle" fill="#1a1a1a" stroke="#1a1a1a" stroke-width="0.2">PLXDC2</text>
<text transform="translate(226.30 682.88) scale(1.0 1.04)" font-size="10.83" text-anchor="middle" fill="#1a1a1a" stroke="#1a1a1a" stroke-width="0.2">ADAMTS12</text>
<text transform="translate(98.10 686.80) scale(1.0 1.14)" font-size="7.83" text-anchor="middle" fill="#1a1a1a" stroke="#1a1a1a" stroke-width="0.2">KCNJ6</text>
<text transform="translate(273.70 729.48) scale(1.0 1.2)" font-size="8.05" text-anchor="middle" fill="#1a1a1a" stroke="#1a1a1a" stroke-width="0.2">PGAM2</text>
<text transform="translate(322.40 728.01) scale(1.0 1.2)" font-size="8.14" text-anchor="middle" fill="#1a1a1a" stroke="#1a1a1a" stroke-width="0.2">RNF217</text>
<text transform="translate(222.00 744.69) scale(1.0 1.2)" font-size="8.07" text-anchor="middle" fill="#1a1a1a" stroke="#1a1a1a" stroke-width="0.2">CDYL2</text>
<text transform="translate(235.60 760.15) scale(1.0 1.2)" font-size="7.96" text-anchor="middle" fill="#1a1a1a" stroke="#1a1a1a" stroke-width="0.2">RBBP4</text>
<text transform="translate(187.50 738.99) scale(1.0 1.2)" font-size="7.78" text-anchor="middle" fill="#1a1a1a" stroke="#1a1a1a" stroke-width="0.2">GPATCH2L</text>
<text transform="translate(186.30 751.31) scale(1.0 1.2)" font-size="7.3" text-anchor="middle" fill="#1a1a1a" stroke="#1a1a1a" stroke-width="0.2">OGFRL1</text>
<text transform="translate(156.20 746.86) scale(1.0 1.2)" font-size="7.42" text-anchor="middle" fill="#1a1a1a" stroke="#1a1a1a" stroke-width="0.2">CEP43</text>
<text transform="translate(200.60 761.98) scale(1.0 1.2)" font-size="6.93" text-anchor="middle" fill="#1a1a1a" stroke="#1a1a1a" stroke-width="0.2">PROX1</text>
<text transform="translate(195.70 770.53) scale(1.0 1.2)" font-size="7.34" text-anchor="middle" fill="#1a1a1a" stroke="#1a1a1a" stroke-width="0.2">AGO2</text>
<text transform="translate(195.00 780.53) scale(1.0 1.2)" font-size="7.36" text-anchor="middle" fill="#1a1a1a" stroke="#1a1a1a" stroke-width="0.2">DNAJC10</text>
<text transform="translate(197.00 793.08) scale(1.0 1.2)" font-size="8.04" text-anchor="middle" fill="#1a1a1a" stroke="#1a1a1a" stroke-width="0.2">PIK3CA</text>
<text transform="translate(143.30 784.23) scale(1.0 1.2)" font-size="7.35" text-anchor="middle" fill="#1a1a1a" stroke="#1a1a1a" stroke-width="0.2">HDAC9</text>
<text transform="translate(144.00 796.83) scale(1.0 1.2)" font-size="7.34" text-anchor="middle" fill="#1a1a1a" stroke="#1a1a1a" stroke-width="0.2">EGFR</text>
<text transform="translate(113.30 796.11) scale(1.0 1.2)" font-size="7.0" text-anchor="middle" fill="#1a1a1a" stroke="#1a1a1a" stroke-width="0.2">STX7</text>
<text transform="translate(88.20 796.98) scale(1.0 1.2)" font-size="7.2" text-anchor="middle" fill="#1a1a1a" stroke="#1a1a1a" stroke-width="0.2">PIK3R2</text>
<text transform="translate(61.20 773.61) scale(1.0 1.2)" font-size="7.29" text-anchor="middle" fill="#1a1a1a" stroke="#1a1a1a" stroke-width="0.2">RAB21</text>
<text transform="translate(62.60 760.82) scale(1.0 1.2)" font-size="7.88" text-anchor="middle" fill="#1a1a1a" stroke="#1a1a1a" stroke-width="0.2">WTIP</text>
<text transform="translate(77.20 749.78) scale(1.0 1.2)" font-size="7.2" text-anchor="middle" fill="#1a1a1a" stroke="#1a1a1a" stroke-width="0.2">NEGR1</text>
<text transform="translate(107.20 752.51) scale(1.0 1.2)" font-size="7.28" text-anchor="middle" fill="#1a1a1a" stroke="#1a1a1a" stroke-width="0.2">ZNF736</text>
<text transform="translate(130.60 749.10) scale(1.0 1.2)" font-size="7.53" text-anchor="middle" fill="#1a1a1a" stroke="#1a1a1a" stroke-width="0.2">HHIP</text>
<text transform="translate(116.50 736.86) scale(1.0 1.2)" font-size="7.14" text-anchor="middle" fill="#1a1a1a" stroke="#1a1a1a" stroke-width="0.2">RPAP2</text>
<text transform="translate(144.00 729.56) scale(1.0 1.2)" font-size="7.72" text-anchor="middle" fill="#1a1a1a" stroke="#1a1a1a" stroke-width="0.2">LRRC28</text>
<text transform="translate(128.20 709.49) scale(1.0 1.2)" font-size="7.51" text-anchor="middle" fill="#1a1a1a" stroke="#1a1a1a" stroke-width="0.2">NUDCD2</text>
<text transform="translate(107.90 726.56) scale(1.0 1.2)" font-size="7.15" text-anchor="middle" fill="#1a1a1a" stroke="#1a1a1a" stroke-width="0.2">AKR1C1</text>
<text transform="translate(88.20 734.28) scale(1.0 1.2)" font-size="6.66" text-anchor="middle" fill="#1a1a1a" stroke="#1a1a1a" stroke-width="0.2">KCNA6</text>
<text transform="translate(63.40 731.62) scale(1.0 1.2)" font-size="7.03" text-anchor="middle" fill="#1a1a1a" stroke="#1a1a1a" stroke-width="0.2">KLF7</text>
<text transform="translate(67.00 723.79) scale(1.0 1.2)" font-size="7.78" text-anchor="middle" fill="#1a1a1a" stroke="#1a1a1a" stroke-width="0.2">AJAP1</text>
<text transform="translate(94.80 716.52) scale(1.0 1.2)" font-size="7.89" text-anchor="middle" fill="#1a1a1a" stroke="#1a1a1a" stroke-width="0.2">RAB3C</text>
<text transform="translate(67.70 710.37) scale(1.0 1.2)" font-size="8.02" text-anchor="middle" fill="#1a1a1a" stroke="#1a1a1a" stroke-width="0.2">CTNNA3</text>
</svg>
</body></html>
